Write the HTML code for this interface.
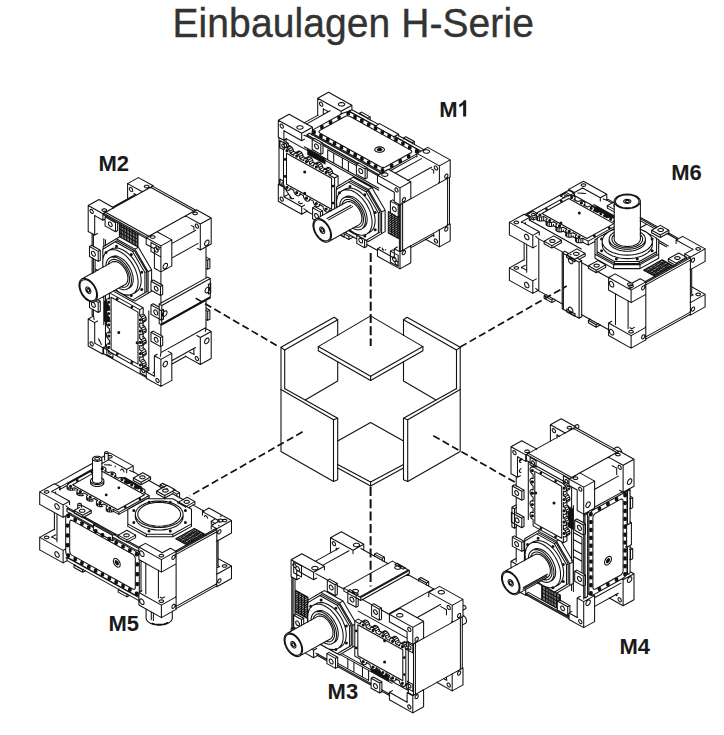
<!DOCTYPE html>
<html><head><meta charset="utf-8">
<style>
html,body{margin:0;padding:0;background:#fff;}
body{width:724px;height:735px;overflow:hidden;position:relative;font-family:"Liberation Sans",sans-serif;}
#t{position:absolute;left:172.5px;top:-1.5px;transform-origin:0 0;transform:scaleY(1.045);-webkit-text-stroke:0.35px #333;letter-spacing:0.08px;font-size:39px;color:#333;white-space:nowrap;line-height:45px;}
svg{position:absolute;left:0;top:0;}
.l{font-family:"Liberation Sans",sans-serif;font-weight:bold;font-size:22px;fill:#1a1a1a;}
</style></head><body>
<div id="t">Einbaulagen H-Serie</div>
<svg width="724" height="735" viewBox="0 0 724 735" fill="none" stroke="#222" stroke-width="1" stroke-linejoin="round" stroke-linecap="round">
<!--LABELS-->
<g stroke="none" fill="#1a1a1a">
<text class="l" transform="translate(439.2,116.6) scale(1,1.04)">M</text>
<path transform="translate(457.5,116.6) scale(0.010742,-0.011172)" d="M806 0H525V1059Q371 915 162 846V1101Q272 1137 401 1237.500Q530 1338 578 1472H806Z"/>
<text class="l" transform="translate(98.5,170.8) scale(1,1.04)">M2</text>
<text class="l" transform="translate(671.2,179.8) scale(1,1.04)">M6</text>
<text class="l" transform="translate(108.5,630.8) scale(1,1.04)">M5</text>
<text class="l" transform="translate(327.6,698.6) scale(1,1.04)">M3</text>
<text class="l" transform="translate(619.5,653.7) scale(1,1.04)">M4</text>
</g>
<!--CUBE-->
<g id="cube" stroke="#111" stroke-width="1.1">
<path d="M281 347.3 L334.2 317.2 L337.7 319.7 L284.7 350.1 L281 347.3"/>
<path d="M460.2 347.3 L407.0 317.2 L403.5 319.7 L456.5 350.1 L460.2 347.3"/>
<path d="M281 347.3 L281 451.5 L333.5 481.4 L337.7 479.8 L337.7 418.3 L285 388.7"/>
<path d="M460.2 347.3 L460.2 451.5 L407.7 481.4 L403.5 479.8 L403.5 418.3 L456.2 388.7"/>
<path d="M284.7 350.1 L284.7 388.7"/>
<path d="M456.5 350.1 L456.5 388.7"/>
<path d="M337.7 319.7 L337.7 335.4"/>
<path d="M403.5 319.7 L403.5 335.4"/>
<path d="M337.7 361.8 L337.7 381.1 L305.2 399.9"/>
<path d="M403.5 361.8 L403.5 381.1 L436.0 399.9"/>
<path d="M281 389.4 L333.5 419.7 L337.7 418.3"/>
<path d="M460.2 389.4 L407.7 419.7 L403.5 418.3"/>
<path d="M333.5 419.7 L333.5 481.4"/>
<path d="M407.7 419.7 L407.7 481.4"/>
<path d="M370.6 422.5 L337.7 441.1"/>
<path d="M370.6 422.5 L403.5 441.1"/>
<path d="M370.6 481.9 L337.7 464.6"/>
<path d="M370.6 481.9 L403.5 464.6"/>
<path d="M370.6 486 L337.7 468"/>
<path d="M370.6 486 L403.5 468"/>
<path d="M370.6 315.9 L318.3 346.6 L370.6 376.3"/>
<path d="M370.6 315.9 L422.9 346.6 L370.6 376.3"/>
<path d="M318.3 346.6 L318.3 350.7 L370.6 380.4"/>
<path d="M422.9 346.6 L422.9 350.7 L370.6 380.4"/>
<path d="M370.6 376.3 L370.6 380.4"/>
<path d="M370.6 481.9 L370.6 486"/>
</g>
<!--DASH-->
<g id="dash" stroke="#111" stroke-linecap="butt">
<path d="M370.7 253 V346" stroke-width="2" stroke-dasharray="9 3.2"/>
<path d="M370.6 487 V586.5" stroke-width="2" stroke-dasharray="9 3.3"/>
<path d="M195.7 298.2 L279.5 347.1" stroke-width="1.7" stroke-dasharray="7.3 3.5"/>
<path d="M460.3 347 L566.7 286.1" stroke-width="1.7" stroke-dasharray="7.3 3.5"/>
<path d="M302.6 431.8 L189.7 496" stroke-width="1.7" stroke-dasharray="7.3 3.5"/>
<path d="M433.3 435.7 L516.1 482.9" stroke-width="1.7" stroke-dasharray="7.3 3.5"/>
</g>
<g id="M1" stroke="#111" stroke-width="1.06">
<path d="M291.7 198.6L286.0 190.3M307.7 211.7L303.8 208.7M377.6 250.5L366.4 244.3M356.8 239.0L345.8 232.9M312.6 214.4L307.7 211.7M402.6 250.4L402.2 250.7M402.6 203.4L402.6 250.4M402.1 202.5L402.6 203.4M307.7 136.7L312.8 139.5M322.6 145.0L357.2 164.2M366.9 169.6L377.6 175.5M303.9 135.3L307.7 136.7M349.0 110.3L350.4 110.8M447.3 177.7L447.6 178.4L447.6 225.4L447.2 225.7M306.3 124.1L330.1 110.8M304.1 122.9L318.1 115.1M307.7 136.7L308.2 136.4M311.5 134.6L312.3 134.1M395.1 173.3L421.5 158.6M431.5 167.2L407.7 180.4M447.6 178.4L402.6 203.4M447.6 225.4L402.6 250.4M431.5 236.2L410.6 247.9M283.9 140.3L278.3 137.2M283.9 130.8L283.9 140.3M301.7 140.7L283.9 130.8M301.7 133.2L301.7 140.7M278.3 120.2L301.7 133.2M278.3 120.2L278.3 137.2M289.1 114.2L312.5 127.2M312.5 130.9L312.5 127.2M301.7 133.2L312.5 127.2M278.3 120.2L289.1 114.2M304.6 139.1L301.7 140.7M284.4 130.6L283.9 130.8M286.8 138.7L283.9 140.3M301.7 214.2L278.3 201.2M301.7 206.7L301.7 214.2M283.9 196.8L301.7 206.7M283.9 187.3L283.9 196.8M278.3 184.2L283.9 187.3M278.3 184.2L278.3 201.2M283.9 187.3L284.6 187.0M278.3 184.2L279.4 183.6M288.8 194.1L283.9 196.8M304.6 205.1L301.7 206.7M307.4 211.0L301.7 214.2M317.9 115.4L317.7 115.3M323.3 108.9L323.3 113.7M328.4 111.7L323.3 108.9M341.1 111.3L341.1 114.3M317.7 98.3L341.1 111.3M317.7 98.3L317.7 115.3M328.5 92.3L351.9 105.3M351.9 109.8L351.9 105.3M341.1 111.3L351.9 105.3M317.7 98.3L328.5 92.3M323.6 108.8L323.3 108.9M377.5 175.3L400.0 187.9M377.5 182.8L377.5 175.3M394.3 192.2L377.5 182.8M394.3 201.7L394.3 192.2M400.0 204.9L394.3 201.7M400.0 204.9L400.0 187.9M388.3 169.3L410.8 181.8L410.8 198.8M400.0 204.9L410.8 198.8M388.3 169.3L377.5 175.3M410.8 181.8L400.0 187.9M394.3 248.7L400.0 251.9M394.3 258.2L394.3 248.7M377.5 248.8L394.3 258.2M377.5 256.3L377.5 248.8M400.0 268.9L377.5 256.3M400.0 268.9L400.0 251.9M410.3 245.6L410.8 245.8L410.8 262.8M400.0 268.9L410.8 262.8M380.3 247.2L377.5 248.8M394.6 258.1L394.3 258.2M397.4 247.0L394.3 248.7M410.8 245.8L400.0 251.9M416.9 153.4L439.4 165.9M416.9 156.9L416.9 153.4M433.7 170.3L431.6 169.1M433.7 173.1L433.7 170.3M439.4 182.9L438.7 182.6M439.4 182.9L439.4 165.9M427.7 147.4L450.2 159.9L450.2 176.9M439.4 182.9L450.2 176.9M427.7 147.4L416.9 153.4M450.2 159.9L439.4 165.9M438.9 229.7L439.4 229.9M433.7 236.3L433.7 234.1M432.0 235.3L433.7 236.3M439.4 246.9L425.6 239.3M439.4 246.9L439.4 229.9M449.3 223.4L450.2 223.9L450.2 240.9M439.4 246.9L450.2 240.9M434.2 236.1L433.7 236.3M450.2 223.9L439.4 229.9M380.3 172.9L381.9 173.2M379.5 172.6L380.3 172.9M312.7 135.3L312.1 134.3M416.9 155.9L390.3 170.7M418.0 153.1L418.6 152.1L418.6 151.0L418.0 150.0L416.9 149.1L394.8 136.8M375.5 126.1L351.9 113.0L350.4 112.4M348.5 112.1L350.4 112.4M348.5 112.1L346.6 112.1L344.8 112.4L343.2 113.0L313.8 129.4L312.7 130.2L312.1 131.3L312.1 132.3M312.7 133.3L312.1 132.3M312.7 133.3L313.8 134.2L378.8 170.3L380.3 170.9L382.1 171.3L384.0 171.3L385.9 170.9L386.4 170.7M416.9 153.9L388.5 169.7M418.6 152.6L418.6 152.1M312.1 132.3L312.1 134.3M306.9 136.2L312.8 139.5M322.7 145.0L357.1 164.1M366.9 169.6L377.7 175.6M306.9 134.7L314.1 138.7M320.7 142.4L321.3 142.7M322.7 143.5L358.6 163.5M364.3 166.6L365.0 167.0M366.7 168.0L378.8 174.7L381.4 173.2L309.5 133.3M306.9 134.7L309.5 133.3M378.8 174.9L378.8 174.7M306.9 136.2L306.9 134.7M381.4 173.5L381.4 173.2M418.1 150.9L420.1 152.0M349.3 111.1L376.0 126.0M395.6 136.8L421.2 151.1L423.8 149.6L398.4 135.5M378.4 124.4L351.9 109.7M349.3 111.1L351.9 109.7M421.2 151.3L421.2 151.1M349.3 112.4L349.3 111.1M423.8 149.9L423.8 149.6M374.9 126.2L393.9 136.8L398.7 134.2L379.6 123.6M374.9 126.2L379.6 123.6M393.9 138.1L393.9 136.8M374.9 127.7L374.9 126.2M398.7 136.2L398.7 134.2M320.8 154.4L323.0 153.2M312.2 149.5L320.8 154.4M312.2 139.5L320.8 144.4L323.0 143.2L314.3 138.3M312.2 139.5L314.3 138.3M320.8 154.4L320.8 144.4M312.2 149.5L312.2 139.5M323.0 153.2L323.0 143.2M365.1 179.0L367.2 177.8M356.4 174.1L365.1 179.0M356.4 164.1L365.1 169.0L367.2 167.8L358.6 162.9M356.4 164.1L358.6 162.9M365.1 179.0L365.1 169.0M356.4 174.1L356.4 164.1M367.2 177.8L367.2 167.8M368.4 189.5L381.6 212.0M349.8 179.1L368.4 189.5M336.6 187.0L349.8 179.1M336.6 189.5L336.6 187.0M349.8 231.1L349.6 230.9M368.4 241.5L349.8 231.1M381.6 233.6L368.4 241.5M381.6 233.6L381.6 212.0M353.2 177.2L371.9 187.5L385.1 210.1M385.1 231.6L385.1 210.1M385.1 231.6L381.6 233.6M353.2 177.2L349.8 179.1M368.4 189.5L371.9 187.5M385.1 210.1L381.6 212.0M366.1 191.8L378.4 212.9M348.6 182.1L366.1 191.8M336.3 189.5L348.6 182.1M336.3 207.9L336.3 189.5M348.6 230.7L348.4 230.3M366.1 240.4L348.6 230.7M378.4 233.0L366.1 240.4M378.4 233.0L378.4 212.9M350.4 181.1L367.8 190.8L380.1 211.9M380.1 232.1L380.1 211.9M380.1 232.1L378.4 233.0M350.4 181.1L348.6 182.1M366.1 191.8L367.8 190.8M380.1 211.9L378.4 212.9M348.8 189.9L351.6 190.6M346.3 189.7L348.8 189.9M343.9 190.0L346.3 189.7M341.8 191.0L343.9 190.0M340.0 192.4L341.8 191.0M338.5 194.3L340.0 192.4M337.5 196.7L338.5 194.3M337.5 196.7L336.8 199.5M336.6 202.6L336.8 199.5M336.8 205.9L336.6 202.6M337.1 207.4L336.8 205.9M351.6 231.1L349.6 229.5M354.3 232.9L351.6 231.1M357.1 234.2L354.3 232.9M359.8 235.0L357.1 234.2M362.4 235.2L359.8 235.0M364.8 234.8L362.4 235.2M364.8 234.8L366.9 233.9M368.7 232.5L366.9 233.9M370.2 230.5L368.7 232.5M371.2 228.2L370.2 230.5M371.9 225.4L371.2 228.2M372.1 222.3L371.9 225.4M371.9 219.0L372.1 222.3M371.2 215.5L371.9 219.0M371.2 215.5L370.2 211.9M368.7 208.4L370.2 211.9M366.9 204.9L368.7 208.4M364.8 201.7L366.9 204.9M362.4 198.7L364.8 201.7M359.8 196.0L362.4 198.7M357.1 193.7L359.8 196.0M354.3 191.9L357.1 193.7M354.3 191.9L351.6 190.6M357.4 190.2L360.1 192.0L362.9 194.3L365.4 197.0L367.8 200.0L369.9 203.2L371.7 206.7L373.2 210.2M374.2 213.8L373.2 210.2M374.2 213.8L374.9 217.3L375.1 220.6L374.9 223.7L374.2 226.5L373.2 228.9L371.7 230.8L369.9 232.2M344.8 189.3L346.9 188.4L349.3 188.0L351.9 188.2L354.6 189.0M357.4 190.2L354.6 189.0M369.9 232.2L366.9 233.9M344.8 189.3L341.8 191.0M348.6 197.1L350.6 197.7M346.8 197.0L348.6 197.1M345.1 197.2L346.8 197.0M343.5 197.9L345.1 197.2M342.2 198.9L343.5 197.9M341.2 200.3L342.2 198.9M340.4 202.0L341.2 200.3M340.4 202.0L339.9 204.0M339.8 206.0L339.9 204.0M352.6 228.2L352.4 228.1M354.6 229.1L352.6 228.2M356.6 229.7L354.6 229.1M358.4 229.8L356.6 229.7M360.1 229.6L358.4 229.8M360.1 229.6L361.7 228.9M363.0 227.9L361.7 228.9M364.0 226.5L363.0 227.9M364.8 224.7L364.0 226.5M365.3 222.8L364.8 224.7M365.4 220.5L365.3 222.8M365.3 218.1L365.4 220.5M364.8 215.6L365.3 218.1M364.8 215.6L364.0 213.0M363.0 210.5L364.0 213.0M361.7 208.0L363.0 210.5M360.1 205.6L361.7 208.0M358.4 203.4L360.1 205.6M356.6 201.5L358.4 203.4M354.6 199.9L356.6 201.5M352.6 198.6L354.6 199.9M352.6 198.6L350.6 197.7M354.3 197.6L356.3 198.9L358.3 200.6L360.2 202.5L361.9 204.6L363.4 207.0L364.7 209.5L365.8 212.1M366.5 214.6L365.8 212.1M366.5 214.6L367.0 217.2L367.2 219.6L367.0 221.8L366.5 223.8L365.8 225.5L364.7 226.9L363.4 227.9M345.3 196.9L346.8 196.3L348.5 196.0L350.4 196.2L352.3 196.7M354.3 197.6L352.3 196.7M363.4 227.9L361.7 228.9M345.3 196.9L343.5 197.9M319.3 218.5L320.8 218.9M318.0 218.4L319.3 218.5M316.8 218.6L318.0 218.4M315.7 219.1L316.8 218.6M314.7 219.8L315.7 219.1M313.9 220.9L314.7 219.8M313.4 222.1L313.9 220.9M313.4 222.1L313.1 223.5M312.9 225.1L313.1 223.5M313.1 226.9L312.9 225.1M313.4 228.7L313.1 226.9M313.9 230.6L313.4 228.7M314.7 232.4L313.9 230.6M315.7 234.2L314.7 232.4M316.8 235.9L315.7 234.2M316.8 235.9L318.0 237.5M319.3 238.9L318.0 237.5M320.8 240.1L319.3 238.9M322.2 241.0L320.8 240.1M323.7 241.7L322.2 241.0M325.1 242.1L323.7 241.7M326.4 242.2L325.1 242.1M327.7 242.0L326.4 242.2M327.7 242.0L328.8 241.5M329.7 240.8L328.8 241.5M330.5 239.7L329.7 240.8M331.0 238.5L330.5 239.7M331.4 237.1L331.0 238.5M331.5 235.5L331.4 237.1M331.4 233.7L331.5 235.5M331.0 231.9L331.4 233.7M331.0 231.9L330.5 230.0M329.7 228.2L330.5 230.0M328.8 226.4L329.7 228.2M327.7 224.7L328.8 226.4M326.4 223.1L327.7 224.7M325.1 221.7L326.4 223.1M323.7 220.5L325.1 221.7M322.2 219.6L323.7 220.5M322.2 219.6L320.8 218.9M352.6 202.7L354.1 203.6L355.5 204.8L356.8 206.2L358.0 207.8L359.2 209.5L360.1 211.3L360.9 213.1M361.4 215.0L360.9 213.1M361.4 215.0L361.8 216.8L361.9 218.5L361.8 220.2L361.4 221.6L360.9 222.8L360.1 223.9L359.2 224.6M346.1 202.2L347.2 201.7L348.4 201.5L349.7 201.6L351.2 202.0M352.6 202.7L351.2 202.0M359.2 224.6L328.8 241.5M346.1 202.2L315.7 219.1M283.8 184.7L283.5 184.6M283.8 184.7L283.8 184.7M284.3 186.8L283.8 184.7M284.3 186.8L285.4 188.7M287.0 190.1L285.4 188.7M288.5 190.5L287.0 190.1M289.7 189.8L288.5 190.5M290.1 188.2L289.7 189.8M293.6 190.2L290.1 188.2M293.6 190.2L293.6 190.2M294.0 192.2L293.6 190.2M294.0 192.2L295.2 194.2M296.7 195.5L295.2 194.2M298.3 195.9L296.7 195.5M299.4 195.2L298.3 195.9M299.9 193.7L299.4 195.2M303.4 195.6L299.9 193.7M303.4 195.6L303.4 195.6M303.8 197.7L303.4 195.6M303.8 197.7L305.0 199.6M306.5 201.0L305.0 199.6M308.1 201.3L306.5 201.0M309.2 200.7L308.1 201.3M309.6 199.1L309.2 200.7M313.2 201.1L309.6 199.1M313.2 201.1L313.2 201.1M313.6 203.1L313.2 201.1M313.6 203.1L314.8 205.1M316.3 206.4L314.8 205.1M317.9 206.8L316.3 206.4M319.0 206.1L317.9 206.8M319.4 204.5L319.0 206.1M323.0 206.5L319.4 204.5M323.0 206.5L323.0 206.5M323.4 208.5L323.0 206.5M323.4 208.5L324.5 210.5M326.1 211.8L324.5 210.5M327.7 212.2L326.1 211.8M328.8 211.5L327.7 212.2M329.2 210.0L328.8 211.5M331.0 211.0L329.2 210.0M334.6 178.0L334.6 209.0M329.2 175.0L334.6 178.0M329.2 175.0L328.8 172.9M327.7 171.0L328.8 172.9M326.1 169.6L327.7 171.0M324.5 169.3L326.1 169.6M323.4 169.9L324.5 169.3M323.0 171.5L323.4 169.9M323.0 171.5L323.0 171.5M319.4 169.5L323.0 171.5M319.4 169.5L319.0 167.5M317.9 165.5L319.0 167.5M316.3 164.2L317.9 165.5M314.8 163.8L316.3 164.2M313.6 164.5L314.8 163.8M313.2 166.1L313.6 164.5M313.2 166.1L313.2 166.1M309.6 164.1L313.2 166.1M309.6 164.1L309.2 162.1M308.1 160.1L309.2 162.1M306.5 158.8L308.1 160.1M305.0 158.4L306.5 158.8M303.8 159.1L305.0 158.4M303.4 160.6L303.8 159.1M303.4 160.6L303.4 160.6M299.9 158.7L303.4 160.6M299.9 158.7L299.4 156.6M298.3 154.7L299.4 156.6M296.7 153.3L298.3 154.7M295.2 152.9L296.7 153.3M294.0 153.6L295.2 152.9M293.6 155.2L294.0 153.6M293.6 155.2L293.6 155.2M290.1 153.2L293.6 155.2M290.1 153.2L289.7 151.2M288.5 149.2L289.7 151.2M287.0 147.9L288.5 149.2M285.4 147.5L287.0 147.9M284.3 148.2L285.4 147.5M283.8 149.7L284.3 148.2M283.8 149.7L283.8 149.7M283.5 149.6L283.8 149.7M283.5 149.6L283.5 184.6M288.9 145.6L290.4 146.0L292.0 147.3L293.1 149.3L293.5 151.3L296.0 152.6M298.7 151.0L300.2 151.4L301.8 152.7L302.9 154.7L303.3 156.7L306.0 158.2M308.4 156.4L310.0 156.8L311.6 158.2L312.7 160.1L313.1 162.2L315.6 163.5M318.2 161.9L319.8 162.3L321.3 163.6L322.5 165.6L322.9 167.6L325.3 169.0M328.0 167.3L329.6 167.7L331.1 169.1L332.3 171.0L332.7 173.0L338.1 176.0L338.1 186.3M283.8 149.7L284.1 149.6M283.5 149.6L284.2 149.2M288.9 145.6L285.4 147.5M290.4 146.0L287.0 147.9M292.0 147.3L288.5 149.2M293.1 149.3L289.7 151.2M290.1 153.2L293.5 151.3M293.6 155.2L294.1 154.9M298.7 151.0L295.2 152.9M300.2 151.4L296.7 153.3M301.8 152.7L298.3 154.7M302.9 154.7L299.4 156.6M299.9 158.7L303.3 156.7M303.4 160.6L303.9 160.4M308.4 156.4L305.0 158.4M310.0 156.8L306.5 158.8M311.6 158.2L308.1 160.1M312.7 160.1L309.2 162.1M309.6 164.1L313.1 162.2M313.2 166.1L313.7 165.8M318.2 161.9L314.8 163.8M319.8 162.3L316.3 164.2M321.3 163.6L317.9 165.5M322.5 165.6L319.0 167.5M319.4 169.5L322.9 167.6M323.0 171.5L323.4 171.3M328.0 167.3L324.5 169.3M329.6 167.7L326.1 169.6M331.1 169.1L327.7 171.0M332.3 171.0L328.8 172.9M329.2 175.0L332.7 173.0M334.6 178.0L338.1 176.0M329.2 210.0L329.7 209.7M330.7 210.5L328.8 211.5M319.4 204.5L319.9 204.3M319.5 205.8L319.0 206.1M309.6 199.1L310.1 198.8M309.7 200.4L309.2 200.7M299.9 193.7L300.3 193.4M299.9 195.0L299.4 195.2M290.1 188.2L290.3 188.1M290.1 189.5L289.7 189.8M280.0 147.7L283.6 149.7M280.0 140.7L286.5 144.3L288.3 143.3L285.6 141.9M280.0 140.7L280.3 140.6M286.5 147.1L286.5 144.3M280.0 147.7L280.0 140.7M288.3 146.1L288.3 143.3M286.5 189.8L286.8 189.7M284.3 188.6L286.5 189.8M280.0 179.2L283.6 181.2M280.0 179.2L280.3 179.1M286.5 189.8L286.5 189.3M280.0 184.7L280.0 179.2M312.6 218.8L314.8 220.0M312.6 207.8L320.4 212.1L322.6 210.9L314.8 206.6M312.6 207.8L314.8 206.6M320.4 216.6L320.4 212.1M312.6 218.8L312.6 207.8M322.6 215.4L322.6 210.9M364.6 247.7L366.8 246.5M356.8 243.4L364.6 247.7L364.6 239.5M356.8 243.4L356.8 235.1M366.8 246.5L366.8 240.3M390.4 262.1L391.8 262.8M392.2 263.1L398.2 266.4M390.4 251.1L391.8 251.8M392.2 252.1L398.2 255.4M394.4 250.9L392.6 249.9M390.4 251.1L392.6 249.9M398.2 266.4L398.2 255.4M390.4 262.1L390.4 251.1M398.2 217.4L399.4 216.7M390.4 213.1L398.2 217.4M390.4 201.1L398.2 205.4L399.4 204.7M394.4 200.9L392.6 199.9M390.4 201.1L392.6 199.9M398.2 217.4L398.2 205.4M390.4 213.1L390.4 201.1M284.2 186.7L284.4 186.6M279.0 183.8L284.2 186.7M284.2 139.7L286.1 138.6M284.2 186.7L284.2 185.7M284.2 149.5L284.2 139.7M279.0 183.8L279.0 137.3M286.1 142.6L286.1 138.6M400.7 251.5L402.6 250.4M399.4 250.7L400.7 251.5M400.4 204.3L400.7 204.5L402.6 203.4L402.1 203.1M400.7 251.5L400.7 204.5M399.4 250.7L399.4 204.5M402.6 250.4L402.6 203.4M348.9 239.5L353.7 236.8M341.0 235.1L342.3 235.8M342.7 236.1L348.9 239.5M343.4 233.4L348.9 236.5L351.1 235.3M348.9 239.5L348.9 236.5M344.1 237.3L344.8 236.9M340.1 235.1L344.1 237.3L344.1 232.6M346.3 233.4L346.3 231.4M359.4 113.3L368.0 118.1L370.2 116.9L361.5 112.1M359.4 113.3L361.5 112.1M368.0 119.1L368.0 118.1M359.4 114.1L359.4 113.3M370.2 120.2L370.2 116.9M403.6 137.9L412.3 142.7L414.4 141.5L405.8 136.7M403.6 137.9L405.8 136.7M412.3 143.7L412.3 142.7M403.6 138.9L403.6 137.9M414.4 144.5L414.4 141.5M447.6 225.4L449.5 224.3M447.1 225.1L447.6 225.4M447.1 178.1L447.6 178.4L449.5 177.3L449.2 177.2M447.6 225.4L447.6 178.4M449.5 224.3L449.5 177.3M281.8 124.2L282.4 124.7L282.9 125.4L283.3 126.2L283.4 127.0L283.3 127.7L282.9 128.1L282.4 128.2L281.8 128.0L281.1 127.5L280.6 126.8L280.2 126.0L280.1 125.2L280.2 124.6L280.6 124.1L281.1 124.0L281.8 124.2M321.2 102.3L321.8 102.8L322.3 103.5L322.7 104.3L322.8 105.1L322.7 105.8L322.3 106.2L321.8 106.3L321.2 106.1L320.5 105.6L320.0 104.9L319.6 104.1L319.5 103.3L319.6 102.6L320.0 102.2L320.5 102.1L321.2 102.3M281.8 197.2L282.4 197.7L282.9 198.4L283.3 199.2L283.4 200.0L283.3 200.7L282.9 201.1L282.4 201.2L281.8 201.0L281.1 200.5L280.6 199.8L280.2 199.0L280.1 198.2L280.2 197.6L280.6 197.1L281.1 197.0L281.8 197.2M302.2 128.7L303.0 128.0L303.1 127.2L302.6 126.5L301.6 125.9L300.3 125.7L298.9 125.8L297.7 126.2L296.9 126.8L296.8 127.6L297.3 128.4L298.3 128.9L299.6 129.2L301.0 129.1L302.2 128.7M343.8 105.6L344.5 104.9L344.7 104.1L344.2 103.4L343.2 102.8L341.9 102.6L340.5 102.6L339.3 103.1L338.5 103.7L338.4 104.5L338.8 105.3L339.8 105.8L341.2 106.1L342.6 106.0L343.8 105.6M396.5 188.0L397.1 188.5L397.7 189.2L398.0 190.0L398.2 190.8L398.0 191.5L397.7 191.9L397.1 192.0L396.5 191.8L395.9 191.3L395.3 190.6L395.0 189.8L394.9 189.0L395.0 188.4L395.3 187.9L395.9 187.8L396.5 188.0M435.9 166.1L436.5 166.6L437.1 167.3L437.4 168.1L437.6 168.9L437.4 169.6L437.1 170.0L436.5 170.1L435.9 169.9L435.3 169.4L434.7 168.7L434.4 167.9L434.3 167.1L434.4 166.4L434.7 166.0L435.3 165.9L435.9 166.1M396.5 261.0L397.1 261.5L397.7 262.2L398.0 263.0L398.2 263.8L398.0 264.5L397.7 264.9L397.1 265.0L396.5 264.8L395.9 264.3L395.3 263.6L395.0 262.8L394.9 262.0L395.0 261.4L395.3 260.9L395.9 260.8L396.5 261.0M435.9 239.1L436.5 239.6L437.1 240.3L437.4 241.1L437.6 241.9L437.4 242.6L437.1 243.0L436.5 243.1L435.9 242.9L435.3 242.4L434.7 241.7L434.4 240.9L434.3 240.1L434.4 239.4L434.7 239.0L435.3 238.9L435.9 239.1M387.1 175.9L387.8 175.2L388.0 174.4L387.5 173.7L386.5 173.1L385.2 172.8L383.8 172.9L382.6 173.4L381.8 174.0L381.7 174.8L382.1 175.6L383.1 176.1L384.5 176.4L385.9 176.3L387.1 175.9M428.6 152.7L429.4 152.1L429.6 151.3L429.1 150.6L428.1 150.0L426.7 149.7L425.3 149.8L424.1 150.2L423.4 150.9L423.2 151.7L423.7 152.4L424.7 153.0L426.0 153.3L427.4 153.2L428.6 152.7M405.5 198.8L405.4 198.1L405.0 197.7L404.5 197.6L403.9 197.8L403.2 198.3L402.7 199.0L402.3 199.8L402.2 200.6L402.3 201.3L402.7 201.7L403.2 201.8L403.9 201.6L404.5 201.1L405.0 200.4L405.4 199.6L405.5 198.8M405.5 251.8L405.4 251.1L405.0 250.7L404.5 250.6L403.9 250.8L403.2 251.3L402.7 252.0L402.3 252.8L402.2 253.6L402.3 254.3L402.7 254.7L403.2 254.8L403.9 254.6L404.5 254.1L405.0 253.4L405.4 252.6L405.5 251.8M447.9 175.2L447.8 174.5L447.5 174.1L446.9 174.0L446.3 174.2L445.7 174.7L445.1 175.4L444.8 176.2L444.7 177.0L444.8 177.7L445.1 178.1L445.7 178.2L446.3 178.0L446.9 177.5L447.5 176.8L447.8 176.0L447.9 175.2M447.9 228.2L447.8 227.5L447.5 227.1L446.9 227.0L446.3 227.2L445.7 227.7L445.1 228.4L444.8 229.2L444.7 230.0L444.8 230.7L445.1 231.1L445.7 231.2L446.3 231.0L446.9 230.5L447.5 229.8L447.8 229.0L447.9 228.2M290.6 196.7L290.0 197.2L290.0 197.9L290.6 198.4L291.6 198.7L292.7 198.7L293.7 198.4M299.3 201.5L298.7 202.0L298.7 202.7L299.3 203.2L300.2 203.6L301.4 203.6L302.4 203.2M382.6 248.1L382.3 248.5L382.3 249.1L382.8 249.7M383.3 249.9L383.6 249.9M385.2 249.9L385.9 249.7M410.6 153.0L411.3 152.5L411.7 151.9L411.7 151.2L411.3 150.6L410.6 150.1L350.2 116.5L349.2 116.1L348.2 115.9L347.0 115.9L345.9 116.1L345.0 116.5L320.0 130.3L319.4 130.9L319.0 131.5L319.0 132.1L319.4 132.7L320.0 133.2L380.5 166.8L381.4 167.2L382.5 167.4L383.7 167.4L384.8 167.2L385.7 166.8L410.6 153.0M383.1 151.5L384.1 150.7L384.5 149.6L384.1 148.6L383.1 147.7L381.5 147.1L379.6 146.9L377.7 147.1L376.2 147.7L375.1 148.6L374.7 149.6L375.1 150.7L376.2 151.5L377.7 152.1L379.6 152.3L381.5 152.1L383.1 151.5M316.5 144.2L317.3 144.8L317.9 145.6L318.3 146.6L318.5 147.6L318.3 148.4L317.9 148.9L317.3 149.0L316.5 148.8L315.7 148.2L315.1 147.3L314.7 146.3L314.5 145.3L314.7 144.5L315.1 144.0L315.7 143.9L316.5 144.2M360.7 168.8L361.5 169.4L362.2 170.2L362.6 171.2L362.7 172.2L362.6 173.0L362.2 173.5L361.5 173.6L360.7 173.4L360.0 172.8L359.3 171.9L358.9 170.9L358.8 169.9L358.9 169.2L359.3 168.6L360.0 168.5L360.7 168.8M352.6 200.8L354.5 202.0L356.3 203.6L358.1 205.5L359.6 207.6L361.0 209.9L362.1 212.4L362.9 214.8L363.3 217.2L363.5 219.5L363.3 221.6L362.9 223.4L362.1 225.0L361.0 226.1L359.6 226.9L358.1 227.3L356.3 227.3L354.8 226.9M341.9 205.0L342.3 203.4L343.2 201.8L344.2 200.7L345.6 199.8L347.1 199.5L348.9 199.5L350.7 199.9L352.6 200.8M322.2 220.7L323.8 221.8L325.4 223.2L326.8 224.9L328.1 226.8L329.1 228.8L329.9 230.9L330.4 233.0L330.5 234.9L330.4 236.7L329.9 238.2L329.1 239.5L328.1 240.4L326.8 240.8L325.4 240.9L323.8 240.6L322.2 239.9L320.6 238.8L319.0 237.4L317.6 235.7L316.3 233.8L315.3 231.8L314.5 229.7L314.1 227.6L313.9 225.7L314.1 223.9L314.5 222.4L315.3 221.1L316.3 220.2L317.6 219.7L319.0 219.7L320.6 220.0L322.2 220.7M322.2 227.3L323.3 228.2L324.2 229.6L324.7 231.0L324.7 232.4L324.2 233.3L323.3 233.6L322.2 233.3L321.1 232.4L320.2 231.0L319.7 229.6L319.7 228.2L320.2 227.3L321.1 227.0L322.2 227.3M322.2 228.7L323.0 229.5L323.5 230.5L323.5 231.5L323.0 232.0L322.2 231.9L321.4 231.1L320.9 230.1L320.9 229.1L321.4 228.6L322.2 228.7M327.0 218.5L350.9 205.2M328.7 219.9L352.6 206.6M388.3 233.0L399.3 239.1M399.3 217.6L398.4 217.1M394.7 215.0L394.2 214.8M392.5 213.8L392.0 213.5M390.7 212.8L388.3 211.5L388.3 233.0M391.7 234.4L391.7 213.9M394.8 236.1L394.8 215.6M397.8 237.8L397.8 217.3M286.5 184.2L331.6 209.3L331.6 178.3L286.5 153.2L286.5 184.2M286.5 138.9L378.8 190.2M304.3 146.8L378.8 188.2M327.7 159.8L327.7 149.8M333.7 163.1L333.7 153.1M342.4 167.9L342.4 157.9M348.4 171.3L348.4 161.3M327.7 149.8L356.7 165.9M283.2 144.3L283.8 144.7L284.3 145.4L284.6 146.1L284.7 146.8L284.6 147.4L284.3 147.8L283.8 147.9L283.2 147.7L282.7 147.2L282.2 146.6L281.9 145.9L281.8 145.2L281.9 144.6L282.2 144.2L282.7 144.1L283.2 144.3M283.2 182.8L283.5 183.0M284.3 186.3L283.8 186.4L283.2 186.2L282.7 185.7L282.2 185.1L281.9 184.4L281.8 183.7L281.9 183.1L282.2 182.7L282.7 182.6L283.2 182.8M316.5 213.8L317.2 214.3L317.8 215.1L318.3 216.1L318.4 217.0L318.3 217.8M317.5 218.3L317.2 218.4L316.5 218.2L315.8 217.6L315.1 216.8L314.7 215.8L314.6 214.9L314.7 214.1L315.1 213.6L315.8 213.5L316.5 213.8M360.7 238.4L361.5 238.9L362.1 239.8L362.5 240.7L362.6 241.6L362.5 242.4L362.1 242.9L361.5 243.0L360.7 242.8L360.0 242.2L359.4 241.4L359.0 240.4L358.8 239.5L359.0 238.7L359.4 238.3L360.0 238.1L360.7 238.4M394.3 257.0L395.1 257.6L395.7 258.4L396.1 259.4L396.2 260.3L396.1 261.1L395.7 261.5L395.1 261.7L394.3 261.4L393.6 260.9L393.0 260.0L392.6 259.1L392.4 258.2L392.6 257.4L393.0 256.9L393.6 256.8L394.3 257.0M394.3 207.0L395.1 207.6L395.7 208.4L396.1 209.4L396.2 210.3L396.1 211.1L395.7 211.5L395.1 211.7L394.3 211.4L393.6 210.9L393.0 210.0L392.6 209.1L392.4 208.2L392.6 207.4L393.0 206.9L393.6 206.8L394.3 207.0"/>
<path stroke-width="1.15" d="M388.7 232.4L399.3 238.3M388.7 230.6L399.3 236.5M388.7 228.8L399.3 234.7M388.7 227.0L399.3 232.9M388.7 225.2L399.3 231.1M388.7 223.4L399.3 229.3M388.7 221.6L399.3 227.5M388.7 219.8L399.3 225.7M388.7 218.0L399.3 223.9M388.7 216.2L399.3 222.1M388.7 214.4L399.3 220.3M388.7 212.6L399.3 218.5"/>
<path stroke-width="1.3" d="M307.7 154.2L325.1 163.8M307.7 153.0L325.1 162.7M307.7 151.9L325.1 161.5M307.7 150.7L325.1 160.4M307.7 149.6L325.1 159.2"/>
<path fill="#111" stroke="none" d="M381.7 150.8L382.5 150.0L382.5 149.2L381.7 148.5L380.4 148.0L378.9 148.0L377.5 148.5L376.8 149.2L376.8 150.0L377.5 150.8L378.9 151.2L380.4 151.2Z"/>
<path fill="#111" stroke="none" d="M312.3 132.1a1.8 1.8 0 1 0 3.5 0a1.8 1.8 0 1 0 -3.5 0ZM346.4 113.2a1.8 1.8 0 1 0 3.5 0a1.8 1.8 0 1 0 -3.5 0ZM319.2 135.9a1.8 1.8 0 1 0 3.5 0a1.8 1.8 0 1 0 -3.5 0ZM353.3 117.0a1.8 1.8 0 1 0 3.5 0a1.8 1.8 0 1 0 -3.5 0ZM326.0 139.7a1.8 1.8 0 1 0 3.5 0a1.8 1.8 0 1 0 -3.5 0ZM360.1 120.8a1.8 1.8 0 1 0 3.5 0a1.8 1.8 0 1 0 -3.5 0ZM332.8 143.5a1.8 1.8 0 1 0 3.5 0a1.8 1.8 0 1 0 -3.5 0ZM367.0 124.6a1.8 1.8 0 1 0 3.5 0a1.8 1.8 0 1 0 -3.5 0ZM339.7 147.3a1.8 1.8 0 1 0 3.5 0a1.8 1.8 0 1 0 -3.5 0ZM373.8 128.4a1.8 1.8 0 1 0 3.5 0a1.8 1.8 0 1 0 -3.5 0ZM346.5 151.1a1.8 1.8 0 1 0 3.5 0a1.8 1.8 0 1 0 -3.5 0ZM380.6 132.2a1.8 1.8 0 1 0 3.5 0a1.8 1.8 0 1 0 -3.5 0ZM353.4 155.0a1.8 1.8 0 1 0 3.5 0a1.8 1.8 0 1 0 -3.5 0ZM387.5 136.0a1.8 1.8 0 1 0 3.5 0a1.8 1.8 0 1 0 -3.5 0ZM360.2 158.8a1.8 1.8 0 1 0 3.5 0a1.8 1.8 0 1 0 -3.5 0ZM394.3 139.8a1.8 1.8 0 1 0 3.5 0a1.8 1.8 0 1 0 -3.5 0ZM367.0 162.6a1.8 1.8 0 1 0 3.5 0a1.8 1.8 0 1 0 -3.5 0ZM401.2 143.6a1.8 1.8 0 1 0 3.5 0a1.8 1.8 0 1 0 -3.5 0ZM373.9 166.4a1.8 1.8 0 1 0 3.5 0a1.8 1.8 0 1 0 -3.5 0ZM408.0 147.4a1.8 1.8 0 1 0 3.5 0a1.8 1.8 0 1 0 -3.5 0ZM380.7 170.2a1.8 1.8 0 1 0 3.5 0a1.8 1.8 0 1 0 -3.5 0ZM414.9 151.2a1.8 1.8 0 1 0 3.5 0a1.8 1.8 0 1 0 -3.5 0ZM320.2 127.1a1.8 1.8 0 1 0 3.5 0a1.8 1.8 0 1 0 -3.5 0ZM389.9 165.8a1.8 1.8 0 1 0 3.5 0a1.8 1.8 0 1 0 -3.5 0ZM328.8 122.3a1.8 1.8 0 1 0 3.5 0a1.8 1.8 0 1 0 -3.5 0ZM398.4 161.0a1.8 1.8 0 1 0 3.5 0a1.8 1.8 0 1 0 -3.5 0ZM337.3 117.6a1.8 1.8 0 1 0 3.5 0a1.8 1.8 0 1 0 -3.5 0ZM406.9 156.3a1.8 1.8 0 1 0 3.5 0a1.8 1.8 0 1 0 -3.5 0ZM373.7 212.6a1.5 1.5 0 1 0 3.0 0a1.5 1.5 0 1 0 -3.0 0ZM363.3 194.8a1.5 1.5 0 1 0 3.0 0a1.5 1.5 0 1 0 -3.0 0ZM348.5 186.5a1.5 1.5 0 1 0 3.0 0a1.5 1.5 0 1 0 -3.0 0ZM338.0 192.8a1.5 1.5 0 1 0 3.0 0a1.5 1.5 0 1 0 -3.0 0ZM363.3 236.0a1.5 1.5 0 1 0 3.0 0a1.5 1.5 0 1 0 -3.0 0ZM373.7 229.7a1.5 1.5 0 1 0 3.0 0a1.5 1.5 0 1 0 -3.0 0ZM285.4 150.7a1.6 1.6 0 1 0 3.2 0a1.6 1.6 0 1 0 -3.2 0ZM285.4 187.3a1.6 1.6 0 1 0 3.2 0a1.6 1.6 0 1 0 -3.2 0ZM295.1 156.1a1.6 1.6 0 1 0 3.2 0a1.6 1.6 0 1 0 -3.2 0ZM295.1 192.7a1.6 1.6 0 1 0 3.2 0a1.6 1.6 0 1 0 -3.2 0ZM304.9 161.6a1.6 1.6 0 1 0 3.2 0a1.6 1.6 0 1 0 -3.2 0ZM304.9 198.2a1.6 1.6 0 1 0 3.2 0a1.6 1.6 0 1 0 -3.2 0ZM314.7 167.0a1.6 1.6 0 1 0 3.2 0a1.6 1.6 0 1 0 -3.2 0ZM314.7 203.6a1.6 1.6 0 1 0 3.2 0a1.6 1.6 0 1 0 -3.2 0ZM324.5 172.4a1.6 1.6 0 1 0 3.2 0a1.6 1.6 0 1 0 -3.2 0ZM324.5 209.0a1.6 1.6 0 1 0 3.2 0a1.6 1.6 0 1 0 -3.2 0ZM283.7 176.4a1.4 1.4 0 1 0 2.8 0a1.4 1.4 0 1 0 -2.8 0ZM331.6 203.1a1.4 1.4 0 1 0 2.8 0a1.4 1.4 0 1 0 -2.8 0ZM283.7 159.4a1.4 1.4 0 1 0 2.8 0a1.4 1.4 0 1 0 -2.8 0ZM331.6 186.1a1.4 1.4 0 1 0 2.8 0a1.4 1.4 0 1 0 -2.8 0ZM303.2 172.1a1.5 1.5 0 1 0 3.0 0a1.5 1.5 0 1 0 -3.0 0ZM303.2 193.3a1.5 1.5 0 1 0 3.0 0a1.5 1.5 0 1 0 -3.0 0Z"/>
</g>
<g id="M2" stroke="#111" stroke-width="1.06">
<path d="M154.6 371.6L153.1 372.9M160.9 352.6L160.3 356.5M160.9 271.6L160.9 284.8M160.9 295.1L160.9 303.3M160.9 324.1L160.9 335.8M160.9 346.1L160.9 352.6M148.8 236.3L149.2 236.9M105.5 212.2L148.8 236.3M105.1 212.4L105.5 212.2M93.4 315.0L93.4 309.5M93.4 273.0L93.4 258.5M93.4 246.8L93.4 234.0M94.1 319.7L93.4 315.0M101.4 344.4L98.6 338.7M150.1 187.4L150.6 187.2L193.9 211.3L194.3 211.9M206.0 246.5L206.0 278.3M206.0 300.0L206.0 327.5L205.3 331.5M133.2 195.7L112.6 207.2M150.6 187.2L105.5 212.2M193.9 211.3L148.8 236.3M195.7 230.3L171.7 243.6M171.7 258.1L198.1 243.4M160.9 352.6L206.0 327.5M171.7 360.7L195.5 347.5M171.6 364.2L186.0 356.2M102.9 347.7L102.9 354.2M94.7 343.1L102.9 347.7M94.7 322.6L94.7 343.1M88.2 319.0L94.7 322.6M88.2 346.0L88.2 319.0M88.2 346.0L102.9 354.2M88.2 319.0L93.7 315.9M97.6 321.0L94.7 322.6M99.6 340.4L99.1 340.7M95.1 342.9L94.7 343.1M105.8 346.1L102.9 347.7M104.0 353.6L102.9 354.2M160.9 359.4L160.9 386.4M154.4 355.8L160.9 359.4M154.4 376.3L154.4 355.8M146.2 371.8L154.4 376.3M146.2 378.3L146.2 371.8M146.2 378.3L160.9 386.4M168.2 351.4L171.8 353.4L171.8 380.4M146.2 371.8L149.3 370.0M154.9 376.1L154.4 376.3M157.3 354.2L154.4 355.8M171.8 353.4L160.9 359.4M171.8 380.4L160.9 386.4M200.3 337.5L200.3 364.5M196.8 335.5L200.3 337.5M193.9 354.4L193.9 348.4M189.8 352.2L193.9 354.4M185.6 356.4L185.6 355.9M185.6 356.4L200.3 364.5M205.6 328.4L211.2 331.5L211.2 358.5M194.3 354.2L193.9 354.4M211.2 331.5L200.3 337.5M211.2 358.5L200.3 364.5M88.2 231.5L88.2 205.5M94.7 235.1L88.2 231.5M94.7 215.6L94.7 235.1M102.9 220.2L94.7 215.6M102.9 213.7L102.9 220.2M102.9 213.7L88.2 205.5M113.7 207.7L113.7 208.2M99.0 199.5L113.7 207.7M102.9 220.2L105.1 219.0M102.9 213.7L113.7 207.7M95.1 215.4L94.7 215.6M97.6 233.5L94.7 235.1M99.0 199.5L88.2 205.5M146.2 244.3L146.2 237.8M154.4 248.8L146.2 244.3M154.4 268.3L154.4 248.8M160.9 271.9L154.4 268.3M160.9 245.9L160.9 271.9M160.9 245.9L146.2 237.8M171.8 239.9L171.8 265.9M157.0 231.7L171.8 239.9M160.9 271.9L171.8 265.9M160.9 245.9L171.8 239.9M157.0 231.7L146.2 237.8M127.6 199.1L127.6 183.6M134.1 193.7L134.1 195.7M136.1 194.8L134.1 193.7M142.3 191.8L142.3 192.0M142.3 191.8L127.6 183.6M153.2 185.8L153.2 186.8M138.4 177.6L153.2 185.8M142.3 191.8L153.2 185.8M134.3 193.6L134.1 193.7M138.4 177.6L127.6 183.6M185.6 216.6L185.6 215.9M193.9 226.9L191.4 225.6M193.9 229.4L193.9 226.9M200.3 250.0L197.4 248.4M200.3 224.0L200.3 250.0M200.3 224.0L185.6 215.9M211.2 218.0L211.2 244.0M196.5 209.8L211.2 218.0M200.3 250.0L211.2 244.0M200.3 224.0L211.2 218.0M196.5 209.8L185.6 215.9M93.4 316.0L93.4 309.5M93.4 272.8L93.4 258.5M93.4 246.8L93.4 234.2M93.4 316.0L93.6 315.9M92.1 315.3L92.1 308.8M92.1 273.5L92.1 257.5M92.1 245.8L92.1 233.3M93.4 316.0L92.1 315.3M100.3 301.3L100.3 311.3M98.2 302.5L100.3 301.3M98.2 312.5L98.2 302.5M98.2 312.5L100.3 311.3M89.5 307.6L89.5 301.1M98.2 302.5L95.3 300.9M98.2 312.5L89.5 307.6M100.3 301.3L97.7 299.8M100.3 250.2L100.3 260.2M98.2 251.4L100.3 250.2M98.2 261.4L98.2 251.4M98.2 261.4L100.3 260.2M89.5 256.5L89.5 246.5L91.7 245.3M98.2 251.4L89.5 246.5M98.2 261.4L89.5 256.5M100.3 250.2L91.7 245.3M103.1 246.7L116.3 238.8M103.1 249.4L103.1 246.7M116.3 290.8L116.2 290.6M134.9 301.1L116.3 290.8M148.1 293.3L134.9 301.1M148.1 271.7L148.1 293.3M134.9 249.1L148.1 271.7M134.9 249.1L116.3 238.8M138.4 247.2L151.6 269.8L151.6 281.1M151.6 290.3L151.6 291.3M138.4 247.2L119.7 236.9M148.1 271.7L151.6 269.8M138.4 247.2L134.9 249.1M148.1 293.3L151.6 291.3M119.7 236.9L116.3 238.8M102.8 249.2L115.2 241.8M102.8 267.5L102.8 249.2M115.2 290.4L115.0 290.2M132.6 300.1L115.2 290.4M144.9 292.7L132.6 300.1M144.9 272.6L144.9 292.7M132.6 251.5L144.9 272.6M132.6 251.5L115.2 241.8M134.3 250.5L146.7 271.6L146.7 291.7M134.3 250.5L116.9 240.8M144.9 272.6L146.7 271.6M134.3 250.5L132.6 251.5M144.9 292.7L146.7 291.7M116.9 240.8L115.2 241.8M103.2 267.3L102.9 265.8M115.9 289.6L117.6 291.1M120.4 292.9L117.6 291.1M123.2 294.2L120.4 292.9M125.9 294.9L123.2 294.2M128.5 295.1L125.9 294.9M130.9 294.8L128.5 295.1M133.0 293.8L130.9 294.8M134.8 292.4L133.0 293.8M134.8 292.4L136.2 290.5M137.3 288.1L136.2 290.5M137.9 285.3L137.3 288.1M138.2 282.2L137.9 285.3M137.9 278.9L138.2 282.2M137.3 275.4L137.9 278.9M136.2 271.9L137.3 275.4M134.8 268.3L136.2 271.9M134.8 268.3L133.0 264.9M130.9 261.6L133.0 264.9M128.5 258.6L130.9 261.6M125.9 255.9L128.5 258.6M123.2 253.7L125.9 255.9M120.4 251.9L123.2 253.7M117.6 250.6L120.4 251.9M114.9 249.8L117.6 250.6M114.9 249.8L112.4 249.6M110.0 250.0L112.4 249.6M107.9 250.9L110.0 250.0M106.1 252.3L107.9 250.9M104.6 254.3L106.1 252.3M103.5 256.6L104.6 254.3M102.9 259.4L103.5 256.6M102.7 262.5L102.9 259.4M102.7 262.5L102.9 265.8M110.9 249.2L113.0 248.3L115.4 247.9M118.0 248.1L115.4 247.9M118.0 248.1L120.7 248.9L123.4 250.2L126.2 252.0L128.9 254.2L131.5 256.9L133.9 259.9L136.0 263.2M137.8 266.6L136.0 263.2M137.8 266.6L139.3 270.2L140.3 273.7L141.0 277.2L141.2 280.6L141.0 283.6L140.3 286.4L139.3 288.8M137.8 290.7L139.3 288.8M137.8 290.7L136.0 292.2M110.9 249.2L107.9 250.9M136.0 292.2L133.0 293.8M120.7 289.1L118.7 288.1M122.6 289.6L120.7 289.1M124.5 289.8L122.6 289.6M126.2 289.5L124.5 289.8M127.7 288.8L126.2 289.5M129.1 287.8L127.7 288.8M129.1 287.8L130.1 286.4M130.9 284.7L130.1 286.4M131.3 282.7L130.9 284.7M131.5 280.5L131.3 282.7M131.3 278.1L131.5 280.5M130.9 275.5L131.3 278.1M130.1 273.0L130.9 275.5M129.1 270.4L130.1 273.0M129.1 270.4L127.7 267.9M126.2 265.5L127.7 267.9M124.5 263.4L126.2 265.5M122.6 261.5L124.5 263.4M120.7 259.8L122.6 261.5M118.7 258.5L120.7 259.8M116.7 257.6L118.7 258.5M114.7 257.1L116.7 257.6M114.7 257.1L112.9 256.9M111.1 257.2L112.9 256.9M109.6 257.8L111.1 257.2M108.3 258.9L109.6 257.8M107.3 260.3L108.3 258.9M106.5 262.0L107.3 260.3M106.0 264.0L106.5 262.0M105.9 265.9L106.0 264.0M111.4 256.9L112.9 256.2L114.6 255.9M116.5 256.1L114.6 255.9M116.5 256.1L118.4 256.6L120.4 257.6L122.4 258.9L124.4 260.5L126.2 262.4L127.9 264.6L129.5 266.9M130.8 269.4L129.5 266.9M130.8 269.4L131.8 272.0L132.6 274.6L133.1 277.1L133.2 279.5L133.1 281.7L132.6 283.7L131.8 285.4M130.8 286.8L131.8 285.4M130.8 286.8L129.5 287.9M111.4 256.9L109.6 257.8M129.5 287.9L127.7 288.8M79.5 288.6L79.1 286.8M80.0 290.5L79.5 288.6M80.8 292.4L80.0 290.5M81.7 294.2L80.8 292.4M82.8 295.9L81.7 294.2M84.1 297.4L82.8 295.9M85.4 298.8L84.1 297.4M85.4 298.8L86.8 300.0M88.3 300.9L86.8 300.0M89.7 301.6L88.3 300.9M91.2 302.0L89.7 301.6M92.5 302.1L91.2 302.0M93.7 301.9L92.5 302.1M94.8 301.4L93.7 301.9M95.8 300.7L94.8 301.4M95.8 300.7L96.5 299.7M97.1 298.4L96.5 299.7M97.4 297.0L97.1 298.4M97.6 295.4L97.4 297.0M97.4 293.6L97.6 295.4M97.1 291.8L97.4 293.6M96.5 290.0L97.1 291.8M95.8 288.1L96.5 290.0M95.8 288.1L94.8 286.3M93.7 284.6L94.8 286.3M92.5 283.0L93.7 284.6M91.2 281.7L92.5 283.0M89.7 280.5L91.2 281.7M88.3 279.5L89.7 280.5M86.8 278.9L88.3 279.5M85.4 278.5L86.8 278.9M85.4 278.5L84.1 278.4M82.8 278.5L84.1 278.4M81.7 279.0L82.8 278.5M80.8 279.8L81.7 279.0M80.0 280.8L80.8 279.8M79.5 282.0L80.0 280.8M79.1 283.5L79.5 282.0M79.0 285.1L79.1 283.5M79.0 285.1L79.1 286.8M112.1 262.1L113.2 261.6L114.5 261.5M115.8 261.6L114.5 261.5M115.8 261.6L117.2 262.0L118.7 262.6L120.1 263.6L121.5 264.7L122.9 266.1L124.1 267.7L125.2 269.4M126.2 271.2L125.2 269.4M126.2 271.2L126.9 273.1L127.5 274.9L127.8 276.7L127.9 278.5L127.8 280.1L127.5 281.5L126.9 282.8M126.2 283.8L126.9 282.8M126.2 283.8L125.2 284.5M112.1 262.1L81.7 279.0M125.2 284.5L94.8 301.4M139.7 368.2L139.7 368.6M139.7 368.2L139.7 368.2M141.3 368.6L139.7 368.2M141.3 368.6L142.4 367.9M142.8 366.3L142.4 367.9M142.4 364.3L142.8 366.3M141.3 362.4L142.4 364.3M139.7 361.0L141.3 362.4M139.7 356.9L139.7 361.0M139.7 356.9L139.7 356.9M141.3 357.3L139.7 356.9M141.3 357.3L142.4 356.6M142.8 355.0L142.4 356.6M142.4 353.0L142.8 355.0M141.3 351.1L142.4 353.0M139.7 349.7L141.3 351.1M139.7 345.6L139.7 349.7M139.7 345.6L139.7 345.6M141.3 346.0L139.7 345.6M141.3 346.0L142.4 345.3M142.8 343.7L142.4 345.3M142.4 341.7L142.8 343.7M141.3 339.8L142.4 341.7M139.7 338.4L141.3 339.8M139.7 334.3L139.7 338.4M139.7 334.3L139.7 334.3M141.3 334.7L139.7 334.3M141.3 334.7L142.4 334.0M142.8 332.4L142.4 334.0M142.4 330.4L142.8 332.4M141.3 328.5L142.4 330.4M139.7 327.1L141.3 328.5M139.7 323.0L139.7 327.1M139.7 323.0L139.7 323.0M141.3 323.4L139.7 323.0M141.3 323.4L142.4 322.7M142.8 321.1L142.4 322.7M142.4 319.1L142.8 321.1M141.3 317.2L142.4 319.1M139.7 315.8L141.3 317.2M139.7 309.6L139.7 315.8M109.6 292.9L139.7 309.6M109.4 299.0L109.4 293.0M109.4 299.0L107.9 298.6M106.7 299.3L107.9 298.6M106.3 300.8L106.7 299.3M106.7 302.9L106.3 300.8M107.9 304.8L106.7 302.9M109.4 306.2L107.9 304.8M109.4 306.2L109.4 306.2M109.4 310.3L109.4 306.2M109.4 310.3L107.9 309.9M106.7 310.6L107.9 309.9M106.3 312.1L106.7 310.6M106.7 314.2L106.3 312.1M107.9 316.1L106.7 314.2M109.4 317.5L107.9 316.1M109.4 317.5L109.4 317.5M109.4 321.6L109.4 317.5M109.4 321.6L107.9 321.2M106.7 321.9L107.9 321.2M106.3 323.4L106.7 321.9M106.7 325.5L106.3 323.4M107.9 327.4L106.7 325.5M109.4 328.8L107.9 327.4M109.4 328.8L109.4 328.8M109.4 332.9L109.4 328.8M109.4 332.9L107.9 332.5M106.7 333.2L107.9 332.5M106.3 334.7L106.7 333.2M106.7 336.8L106.3 334.7M107.9 338.7L106.7 336.8M109.4 340.1L107.9 338.7M109.4 340.1L109.4 340.1M109.4 344.2L109.4 340.1M109.4 344.2L107.9 343.8M106.7 344.5L107.9 343.8M106.3 346.0L106.7 344.5M106.7 348.1L106.3 346.0M107.9 350.0L106.7 348.1M109.4 351.4L107.9 350.0M109.4 351.4L109.4 351.4M109.4 351.8L109.4 351.4M109.4 351.8L139.7 368.6M113.3 291.1L143.2 307.7L143.2 313.9M144.7 315.2L143.2 313.9M144.7 315.2L145.9 317.2L146.3 319.2L145.9 320.8M143.2 322.1L143.2 325.2M144.7 326.5L143.2 325.2M144.7 326.5L145.9 328.5L146.3 330.5L145.9 332.1M143.2 333.4L143.2 336.5M144.7 337.8L143.2 336.5M144.7 337.8L145.9 339.8L146.3 341.8L145.9 343.4M143.2 344.7L143.2 347.8M144.7 349.1L143.2 347.8M144.7 349.1L145.9 351.1L146.3 353.1L145.9 354.7M143.2 355.8L143.2 359.1M144.7 360.4L143.2 359.1M144.7 360.4L145.9 362.4L146.3 364.4L145.9 366.0M109.7 342.7L107.9 343.8M109.4 344.2L109.9 343.9M109.7 331.4L107.9 332.5M109.4 332.9L109.9 332.6M109.7 320.1L107.9 321.2M109.4 321.6L109.9 321.3M109.7 308.8L107.9 309.9M109.4 310.3L109.9 310.0M109.7 297.5L107.9 298.6M109.4 299.0L109.9 298.7M139.7 309.6L143.2 307.7M139.7 315.8L143.2 313.9M144.7 315.2L141.3 317.2M145.9 317.2L142.4 319.1M146.3 319.2L142.8 321.1M145.9 320.8L142.4 322.7M139.7 323.0L140.2 322.8M139.7 327.1L140.2 326.9M142.3 325.7L143.2 325.2M144.7 326.5L142.4 327.8M141.7 328.2L141.3 328.5M145.9 328.5L142.4 330.4M146.3 330.5L142.8 332.4M145.9 332.1L142.4 334.0M139.7 334.3L140.2 334.1M139.7 338.4L140.2 338.2M142.3 337.0L143.2 336.5M144.7 337.8L142.2 339.2M141.7 339.5L141.3 339.8M145.9 339.8L142.4 341.7M146.3 341.8L142.8 343.7M145.9 343.4L142.4 345.3M139.7 345.6L140.2 345.4M139.7 349.7L140.2 349.5M142.0 348.4L143.2 347.8M144.7 349.1L141.3 351.1M145.9 351.1L142.4 353.0M146.3 353.1L142.8 355.0M145.9 354.7L142.4 356.6M139.7 356.9L140.2 356.7M139.7 361.0L140.2 360.8M141.3 360.1L143.2 359.1M144.7 360.4L141.3 362.4M145.9 362.4L142.4 364.3M146.3 364.4L142.8 366.3M145.9 366.0L142.4 367.9M139.7 368.2L140.2 368.0M139.7 368.6L140.2 368.4M112.9 357.8L112.9 353.3M112.9 357.8L113.1 357.6M106.8 354.4L106.8 347.4M112.9 357.8L106.8 354.4M148.0 367.8L148.0 370.6M146.2 368.8L148.0 367.8M146.2 376.3L146.2 368.8M146.2 376.3L146.5 376.2M140.2 372.9L140.2 368.4M146.2 368.8L143.3 367.2M146.2 376.3L140.2 372.9M148.0 367.8L145.0 366.2M162.7 336.4L162.7 345.4M160.5 337.6L162.7 336.4M160.5 346.6L160.5 337.6M160.5 346.6L162.7 345.4M151.0 341.3L151.0 332.3L153.2 331.1M160.5 337.6L151.0 332.3M160.5 346.6L151.0 341.3M162.7 336.4L153.2 331.1M162.7 285.3L162.7 294.3M160.5 286.5L162.7 285.3M160.5 295.5L160.5 286.5M160.5 295.5L162.7 294.3M151.0 290.2L151.0 281.2L153.2 280.0M160.5 286.5L151.0 281.2M160.5 295.5L151.0 290.2M162.7 285.3L153.2 280.0M151.0 251.4L151.0 242.4M160.3 247.6L158.5 246.6M158.1 246.4L153.0 243.5M152.5 243.3L151.0 242.4M160.3 256.6L158.5 255.6M158.1 255.4L153.0 252.5M152.5 252.3L151.0 251.4M117.6 222.5L117.6 230.5M115.5 222.7L116.9 221.9M115.5 231.7L115.5 222.7M115.5 231.7L117.6 230.5M105.1 225.9L105.1 216.9L106.5 216.1M115.5 222.7L105.1 216.9M115.5 231.7L105.1 225.9M146.9 371.9L147.2 371.7M103.6 353.8L103.6 347.8L105.5 346.7M146.9 371.9L140.6 368.3M109.7 351.2L103.6 347.8M146.5 377.6L103.6 353.8M148.6 370.7L147.5 370.1M106.8 347.5L105.5 346.7M148.8 236.3L148.8 236.6M146.9 237.4L148.8 236.3M146.9 237.9L146.9 237.4M103.6 214.8L103.6 213.3L105.5 212.2M146.9 237.4L103.6 213.3M146.5 238.6L103.6 214.8M148.8 236.3L105.5 212.2M210.3 278.5L210.3 298.0M161.8 305.5L210.3 278.5M161.8 325.0L161.8 305.5M161.8 325.0L210.3 298.0M159.2 323.5L159.2 304.0L207.7 277.1M161.8 305.5L159.2 304.0M161.8 325.0L159.2 323.5M210.3 278.5L207.7 277.1M163.5 309.5L163.5 319.0M161.4 310.7L163.5 309.5M161.4 320.2L161.4 310.7M161.4 320.2L163.5 319.0M151.0 314.4L151.0 304.9L153.2 303.7M161.4 310.7L151.0 304.9M161.4 320.2L151.0 314.4M163.5 309.5L163.1 309.3M159.3 307.2L153.2 303.7M210.7 283.3L210.7 292.8M208.6 284.5L210.7 283.3M208.6 294.0L208.6 284.5M208.6 294.0L210.7 292.8M208.6 284.5L208.1 284.2M208.6 294.0L208.1 293.7M210.7 283.3L210.1 282.9M209.9 310.2L209.9 319.2M207.7 311.4L209.9 310.2M207.7 320.4L207.7 311.4M207.7 320.4L209.9 319.2M207.7 311.4L205.7 310.3M207.7 320.4L205.7 319.3M209.9 310.2L205.9 308.0M209.9 259.1L209.9 268.1M207.7 260.3L209.9 259.1M207.7 269.3L207.7 260.3M207.7 269.3L209.9 268.1M207.7 260.3L205.7 259.2M207.7 269.3L205.7 268.2M209.9 259.1L205.9 256.9M195.8 210.2L195.8 210.7M193.9 211.3L195.8 210.2M193.9 211.5L193.9 211.3M150.6 187.7L150.6 187.2L152.5 186.1M193.9 211.3L150.6 187.2M195.8 210.2L152.5 186.1M90.0 343.0L90.1 342.4L90.5 341.9L91.0 341.8L91.7 342.0L92.3 342.5L92.8 343.2L93.2 344.0L93.3 344.8L93.2 345.5L92.8 345.9L92.3 346.0L91.7 345.8L91.0 345.3L90.5 344.6L90.1 343.8L90.0 343.0M155.8 379.6L156.0 378.9L156.3 378.5L156.9 378.4L157.5 378.6L158.1 379.1L158.6 379.8L159.0 380.6L159.1 381.4L159.0 382.1L158.6 382.5L158.1 382.6L157.5 382.4L156.9 381.9L156.3 381.2L156.0 380.4L155.8 379.6M195.2 357.7L195.4 357.0L195.7 356.6L196.3 356.5L196.9 356.7L197.5 357.2L198.0 357.9L198.4 358.7L198.5 359.5L198.4 360.2L198.0 360.6L197.5 360.7L196.9 360.5L196.3 360.0L195.7 359.3L195.4 358.5L195.2 357.7M165.3 361.4L166.3 361.2L167.0 361.4L167.5 362.2L167.5 363.4L167.0 364.7L166.3 365.8L165.3 366.6L164.3 366.9L163.5 366.6L163.1 365.8L163.1 364.7L163.5 363.4L164.3 362.2L165.3 361.4M206.8 338.3L207.8 338.0L208.6 338.3L209.0 339.1L209.0 340.3L208.6 341.6L207.8 342.7L206.8 343.5L205.9 343.8L205.1 343.5L204.6 342.7L204.6 341.6L205.1 340.3L205.9 339.1L206.8 338.3M90.0 210.5L90.1 209.9L90.5 209.4L91.0 209.3L91.7 209.5L92.3 210.0L92.8 210.7L93.2 211.5L93.3 212.3L93.2 213.0L92.8 213.4L92.3 213.5L91.7 213.3L91.0 212.8L90.5 212.1L90.1 211.3L90.0 210.5M129.4 188.6L129.5 187.9L129.9 187.5L130.4 187.4L131.1 187.6L131.7 188.1L132.2 188.8L132.6 189.6L132.7 190.4L132.6 191.1L132.2 191.5L131.7 191.6L131.1 191.4L130.4 190.9L129.9 190.2L129.5 189.4L129.4 188.6M155.8 247.1L156.0 246.4L156.3 246.0L156.9 245.9L157.5 246.1L158.1 246.6L158.6 247.3L159.0 248.1L159.1 248.9L159.0 249.6L158.6 250.0L158.1 250.1L157.5 249.9L156.9 249.4L156.3 248.7L156.0 247.9L155.8 247.1M195.2 225.2L195.4 224.5L195.7 224.1L196.3 224.0L196.9 224.2L197.5 224.7L198.0 225.4L198.4 226.2L198.5 227.0L198.4 227.7L198.0 228.1L197.5 228.2L196.9 228.0L196.3 227.5L195.7 226.8L195.4 226.0L195.2 225.2M165.3 263.4L166.3 263.2L167.0 263.4L167.5 264.2L167.5 265.4L167.0 266.7L166.3 267.8L165.3 268.6L164.3 268.9L163.5 268.6L163.1 267.8L163.1 266.7L163.5 265.4L164.3 264.2L165.3 263.4M206.8 240.3L207.8 240.0L208.6 240.3L209.0 241.1L209.0 242.3L208.6 243.6L207.8 244.7L206.8 245.5L205.9 245.8L205.1 245.5L204.6 244.7L204.6 243.6L205.1 242.3L205.9 241.1L206.8 240.3M105.9 209.2L105.1 208.9L104.2 208.8L103.3 208.9L102.6 209.2L102.1 209.6L101.9 210.1L102.1 210.6L102.6 211.0L103.3 211.3L104.2 211.4L105.1 211.3L105.9 211.0L106.4 210.6L106.5 210.1L106.4 209.6L105.9 209.2M154.4 236.1L153.6 235.8L152.7 235.7L151.8 235.8L151.1 236.1L150.6 236.5L150.4 237.0L150.6 237.5L151.1 238.0L151.8 238.2L152.7 238.3L153.6 238.2L154.4 238.0L154.9 237.5L155.0 237.0L154.9 236.5L154.4 236.1M148.3 185.6L147.5 185.3L146.7 185.2L145.8 185.3L145.0 185.6L144.5 186.0L144.3 186.5L144.5 187.0L145.0 187.4L145.8 187.7L146.7 187.8L147.5 187.7L148.3 187.4L148.8 187.0L149.0 186.5L148.8 186.0L148.3 185.6M196.8 212.5L196.0 212.2L195.2 212.2L194.3 212.2L193.5 212.5L193.0 212.9L192.8 213.4L193.0 213.9L193.5 214.4L194.3 214.6L195.2 214.7L196.0 214.6L196.8 214.4L197.3 213.9L197.5 213.4L197.3 212.9L196.8 212.5M91.4 303.7L91.6 302.9L92.0 302.4L92.6 302.3L93.4 302.5L94.2 303.1L94.8 304.0L95.2 305.0L95.4 305.9L95.2 306.7L94.8 307.2L94.2 307.4L93.4 307.1L92.6 306.5L92.0 305.7L91.6 304.7L91.4 303.7M91.4 252.6L91.6 251.8L92.0 251.3L92.6 251.2L93.4 251.4L94.2 252.0L94.8 252.9L95.2 253.9L95.4 254.8L95.2 255.6L94.8 256.1L94.2 256.3L93.4 256.0L92.6 255.4L92.0 254.6L91.6 253.6L91.4 252.6M108.1 264.6L108.4 263.3L109.2 261.8L110.3 260.6L111.7 259.8L113.2 259.4L115.0 259.4L116.8 259.9L118.7 260.7L120.6 262.0L122.4 263.6L124.1 265.5L125.7 267.6L127.0 269.9L128.1 272.3L128.9 274.7L129.4 277.1L129.6 279.4L129.4 281.5L128.9 283.3L128.1 284.9L127.0 286.1L125.7 286.9L124.1 287.3L122.4 287.2L120.6 286.8M80.0 285.6L80.1 283.8L80.6 282.3L81.4 281.1L82.4 280.2L83.7 279.7L85.1 279.6L86.7 279.9L88.3 280.6L89.9 281.7L91.5 283.1L92.9 284.8L94.2 286.7L95.2 288.7L96.0 290.8L96.4 292.9L96.6 294.9L96.4 296.6L96.0 298.2L95.2 299.4L94.2 300.3L92.9 300.8L91.5 300.9L89.9 300.6L88.3 299.8L86.7 298.7L85.1 297.3L83.7 295.6L82.4 293.8L81.4 291.7L80.6 289.6L80.1 287.6L80.0 285.6M85.7 288.8L85.9 287.6L86.7 287.0L87.7 287.0L88.9 287.6L89.9 288.8L90.6 290.2L90.9 291.7L90.6 292.8L89.9 293.5L88.9 293.5L87.7 292.8L86.7 291.7L85.9 290.2L85.7 288.8M86.9 289.5L87.2 288.7L87.9 288.5L88.7 289.0L89.4 289.9L89.7 291.0L89.4 291.8L88.7 292.0L87.9 291.5L87.2 290.6L86.9 289.5M138.0 246.8L138.0 233.5M119.4 223.4L119.4 236.4L138.0 246.8M137.6 242.6L119.8 232.7M137.6 239.1L119.8 229.2M137.6 235.6L119.8 225.7M138.0 364.1L138.0 312.1L111.1 297.2L111.1 349.2L138.0 364.1M105.5 346.2L105.5 295.2M105.5 245.5L105.5 239.7M103.8 324.8L103.8 296.0M103.8 246.3L103.8 238.8M103.8 297.8L102.5 297.0M97.8 270.4L95.1 269.0M95.1 272.0L95.1 259.5M148.8 370.3L148.8 310.8M108.4 351.6L108.5 351.0L108.8 350.6M111.2 352.5L111.3 353.2L111.2 353.8L110.9 354.2L110.4 354.3L109.9 354.1L109.3 353.6L108.8 353.0L108.5 352.3L108.4 351.6M141.7 370.1L141.8 369.5L142.1 369.1L142.6 369.0L143.2 369.2L143.8 369.7L144.2 370.3L144.6 371.0L144.7 371.7L144.6 372.3L144.2 372.7L143.8 372.8L143.2 372.6L142.6 372.2L142.1 371.5L141.8 370.8L141.7 370.1M154.3 338.7L154.4 337.9L154.8 337.4L155.5 337.3L156.2 337.5L156.9 338.1L157.5 338.9L157.9 339.9L158.1 340.8L157.9 341.5L157.5 342.0L156.9 342.2L156.2 341.9L155.5 341.3L154.8 340.5L154.4 339.6L154.3 338.7M154.3 287.6L154.4 286.8L154.8 286.3L155.5 286.2L156.2 286.4L156.9 287.0L157.5 287.8L157.9 288.8L158.1 289.7L157.9 290.4L157.5 290.9L156.9 291.1L156.2 290.8L155.5 290.2L154.8 289.4L154.4 288.5L154.3 287.6M154.3 248.8L154.4 248.0L154.8 247.5L155.5 247.4L156.2 247.6L156.9 248.2L157.5 249.0L157.9 250.0L158.1 250.9L157.9 251.6L157.5 252.1L156.9 252.3L156.2 252.0L155.5 251.4L154.8 250.6L154.4 249.7L154.3 248.8M108.4 223.2L108.5 222.5L108.9 222.0L109.6 221.9L110.3 222.1L111.0 222.7L111.6 223.5L112.0 224.4L112.2 225.4L112.0 226.1L111.6 226.6L111.0 226.7L110.3 226.5L109.6 225.9L108.9 225.1L108.5 224.2L108.4 223.2M161.8 323.7L210.3 296.7M164.8 311.0L165.8 310.7L166.6 311.0L167.0 311.8L167.0 312.9L166.6 314.2L165.8 315.4L164.8 316.2L163.9 316.5L163.1 316.2L162.6 315.4L162.6 314.2L163.1 312.9L163.9 311.8L164.8 311.0M207.3 287.4L208.3 287.1L209.0 287.4L209.5 288.2L209.5 289.3L209.0 290.6L208.3 291.8L207.3 292.6L206.3 292.9L205.5 292.6L205.1 291.8L205.1 290.6L205.5 289.3L206.3 288.2L207.3 287.4M153.8 311.3L153.9 310.5L154.3 310.0L155.0 309.8L155.7 310.1L156.5 310.7L157.2 311.5L157.6 312.5L157.7 313.5L157.6 314.3L157.2 314.8L156.5 314.9L155.7 314.7L155.0 314.1L154.3 313.2L153.9 312.2L153.8 311.3"/>
<path stroke-width="1.15" d="M137.3 245.9L137.3 233.4M135.7 245.0L135.7 232.3M134.2 244.2L134.2 231.4M132.6 243.3L132.6 230.6M131.1 242.4L131.1 229.9M129.5 241.6L129.5 228.8M127.9 240.7L127.9 228.2M126.4 239.8L126.4 227.1M124.8 239.0L124.8 226.5M123.3 238.1L123.3 225.6M121.7 237.2L121.7 224.7M120.2 236.4L120.2 223.6"/>
<path stroke-width="1.3" d="M108.6 321.2L108.6 316.9M108.6 309.7L108.6 306.2M107.6 321.6L107.6 315.1M107.6 310.4L107.6 304.1M106.6 322.3L106.6 312.3M106.6 311.8L106.6 302.3M105.6 321.8L105.6 301.8M104.6 321.2L104.6 301.2"/>
<path fill="#111" stroke="none" d="M115.0 246.2a1.5 1.5 0 1 0 3.0 0a1.5 1.5 0 1 0 -3.0 0ZM104.5 252.5a1.5 1.5 0 1 0 3.0 0a1.5 1.5 0 1 0 -3.0 0ZM129.8 295.6a1.5 1.5 0 1 0 3.0 0a1.5 1.5 0 1 0 -3.0 0ZM140.2 289.4a1.5 1.5 0 1 0 3.0 0a1.5 1.5 0 1 0 -3.0 0ZM140.2 272.3a1.5 1.5 0 1 0 3.0 0a1.5 1.5 0 1 0 -3.0 0ZM129.8 254.4a1.5 1.5 0 1 0 3.0 0a1.5 1.5 0 1 0 -3.0 0ZM107.1 347.4a1.6 1.6 0 1 0 3.2 0a1.6 1.6 0 1 0 -3.2 0ZM138.8 365.0a1.6 1.6 0 1 0 3.2 0a1.6 1.6 0 1 0 -3.2 0ZM107.1 336.1a1.6 1.6 0 1 0 3.2 0a1.6 1.6 0 1 0 -3.2 0ZM138.8 353.7a1.6 1.6 0 1 0 3.2 0a1.6 1.6 0 1 0 -3.2 0ZM107.1 324.8a1.6 1.6 0 1 0 3.2 0a1.6 1.6 0 1 0 -3.2 0ZM138.8 342.4a1.6 1.6 0 1 0 3.2 0a1.6 1.6 0 1 0 -3.2 0ZM107.1 313.5a1.6 1.6 0 1 0 3.2 0a1.6 1.6 0 1 0 -3.2 0ZM138.8 331.1a1.6 1.6 0 1 0 3.2 0a1.6 1.6 0 1 0 -3.2 0ZM107.1 302.2a1.6 1.6 0 1 0 3.2 0a1.6 1.6 0 1 0 -3.2 0ZM138.8 319.8a1.6 1.6 0 1 0 3.2 0a1.6 1.6 0 1 0 -3.2 0ZM130.5 362.5a1.4 1.4 0 1 0 2.8 0a1.4 1.4 0 1 0 -2.8 0ZM130.5 307.1a1.4 1.4 0 1 0 2.8 0a1.4 1.4 0 1 0 -2.8 0ZM115.8 354.3a1.4 1.4 0 1 0 2.8 0a1.4 1.4 0 1 0 -2.8 0ZM115.8 298.9a1.4 1.4 0 1 0 2.8 0a1.4 1.4 0 1 0 -2.8 0ZM117.3 332.5a1.5 1.5 0 1 0 3.0 0a1.5 1.5 0 1 0 -3.0 0ZM135.6 342.7a1.5 1.5 0 1 0 3.0 0a1.5 1.5 0 1 0 -3.0 0Z"/>
</g>
<g id="M6" stroke="#111" stroke-width="1.06">
<path d="M525.6 224.3L525.2 222.4M538.8 238.9L535.7 236.4M608.7 277.7L597.5 271.5M588.6 266.5L581.3 262.5M563.2 252.4L553.3 246.9M544.3 241.9L538.8 238.9M645.8 284.9L644.8 284.9M690.4 260.1L645.8 284.9M690.5 259.6L690.4 260.1M607.7 200.6L612.3 203.2M640.1 218.6L656.3 227.6M666.8 233.5L677.5 239.4M603.2 198.9L607.7 200.6M577.8 193.0L584.5 193.5M585.3 193.5L585.6 193.5M690.5 311.6L690.4 312.1L645.8 336.9L644.8 336.9M608.7 329.7L581.3 314.5M562.5 304.0L538.8 290.9L535.7 288.4M691.7 293.2L691.7 268.7M690.4 312.1L690.4 260.1M645.8 336.9L645.8 284.9M628.1 328.4L628.1 300.6M615.5 293.7L615.5 324.5M538.8 238.9L538.8 290.9M526.7 244.2L526.7 272.2M524.1 243.0L524.1 260.2M574.4 192.5L568.7 189.4M582.6 188.0L574.4 192.5M600.3 197.8L582.6 188.0M606.8 194.2L600.3 197.8M583.4 181.2L606.8 194.2M583.4 181.2L568.7 189.4M606.8 194.2L606.8 200.5M600.3 201.1L600.3 197.8M582.6 193.5L582.6 193.0M582.6 188.5L582.6 188.0M574.4 195.8L574.4 192.5M568.7 190.7L568.7 189.4M532.8 235.4L509.4 222.4M539.3 231.8L532.8 235.4M521.5 221.9L539.3 231.8M529.8 217.3L521.5 221.9M524.1 214.2L529.8 217.3M524.1 214.2L509.4 222.4M536.4 245.9L532.8 247.9L509.4 234.9M529.8 217.3L529.8 220.6M521.5 222.4L521.5 221.9M539.3 235.0L539.3 231.8M532.8 247.9L532.8 235.4M509.4 234.9L509.4 222.4M532.8 280.9L509.4 267.9M536.4 278.9L532.8 280.9M521.5 267.4L526.6 270.2M525.3 265.3L521.5 267.4M524.1 259.7L524.3 259.8M524.1 259.7L509.4 267.9M538.4 290.3L532.8 293.4L509.4 280.4M521.5 267.9L521.5 267.4M532.8 293.4L532.8 280.9M509.4 280.4L509.4 267.9M682.6 236.4L705.1 248.9M676.1 240.0L682.6 236.4M693.0 249.4L676.1 240.0M684.8 253.9L693.0 249.4M690.4 257.1L684.8 253.9M690.4 257.1L705.1 248.9M690.4 269.6L689.9 269.3M705.1 261.4L690.4 269.6M684.8 253.9L684.8 256.7M690.4 257.1L690.4 269.6M693.0 249.6L693.0 249.4M676.1 243.5L676.1 240.0M705.1 261.4L705.1 248.9M640.2 278.7L645.8 281.9M631.9 283.3L640.2 278.7M615.1 273.9L631.9 283.3M608.6 277.5L615.1 273.9M631.1 290.1L608.6 277.5M631.1 290.1L645.8 281.9M631.1 302.6L608.6 290.0M645.8 294.4L631.1 302.6M608.6 277.5L608.6 290.0M631.1 290.1L631.1 302.6M645.8 294.4L645.8 281.9M691.6 286.8L705.1 294.4M693.0 294.9L691.5 294.0M691.2 295.9L693.0 294.9M690.4 302.6L689.9 302.3M690.4 302.6L705.1 294.4M690.4 315.1L689.5 314.6M705.1 306.9L690.4 315.1M690.4 302.6L690.4 315.1M693.0 295.1L693.0 294.9M705.1 306.9L705.1 294.4M645.3 327.1L645.8 327.4M631.9 328.8L634.4 327.4M630.0 327.7L631.9 328.8M608.6 323.0L611.7 321.3M631.1 335.6L608.6 323.0M631.1 335.6L645.8 327.4M631.1 348.1L608.6 335.5M645.8 339.9L631.1 348.1M608.6 323.0L608.6 335.5M631.1 335.6L631.1 348.1M645.8 339.9L645.8 327.4M606.8 200.1L612.3 203.2M640.1 218.6L656.4 227.7M666.9 233.5L677.6 239.5M606.8 200.1L606.8 200.6M608.1 199.4L613.6 202.4M640.1 217.2L657.6 226.9M668.2 232.8L678.7 238.6M606.8 200.1L608.1 199.4M614.5 212.1L607.3 208.1M607.3 205.6L614.5 209.6M607.3 205.6L607.3 208.1M607.3 205.6L614.5 201.7M660.3 237.5L651.6 232.7M660.3 235.0L660.3 237.5M651.6 230.2L660.3 235.0M651.6 230.2L651.6 232.7M660.3 225.4L668.9 230.2L668.9 232.7M660.3 235.0L668.9 230.2M651.6 230.2L660.3 225.4M660.3 237.5L668.9 232.7M658.7 239.6L658.7 254.3M648.1 233.7L649.0 234.2M650.3 234.9L650.8 235.2M655.6 237.9L658.7 239.6M595.0 239.6L597.8 238.0M602.0 235.7L602.4 235.4M603.8 234.7L604.6 234.2M605.5 233.7L606.8 233.0M611.0 230.7L611.4 230.4M612.8 229.7L613.6 229.2M595.0 254.3L595.0 239.6M613.6 264.6L595.0 254.3M640.0 264.6L613.6 264.6M640.0 264.6L658.7 254.3M640.0 268.6L613.6 268.6L595.0 258.3M640.0 268.6L658.7 258.3M613.6 264.6L613.6 268.6M640.0 268.6L640.0 264.6M595.0 254.3L595.0 258.3M658.7 258.3L658.7 254.3M656.6 238.1L656.6 251.8M640.0 228.9L644.2 231.2M644.7 231.4L656.6 238.1M597.1 238.1L614.3 228.5M597.1 251.8L597.1 238.1M614.5 261.5L597.1 251.8M639.2 261.5L614.5 261.5M639.2 261.5L656.6 251.8M639.2 263.5L614.5 263.5L597.1 253.8M639.2 263.5L656.6 253.8M614.5 261.5L614.5 263.5M639.2 263.5L639.2 261.5M597.1 251.8L597.1 253.8M656.6 253.8L656.6 251.8M640.1 229.2L642.0 229.9M614.4 229.2L612.5 229.9M609.5 231.3L612.5 229.9M607.0 233.0L609.5 231.3M604.9 234.8L607.0 233.0M603.4 236.9L604.9 234.8M602.5 239.0L603.4 236.9M602.2 241.2L602.5 239.0M602.5 243.4L602.2 241.2M602.5 243.4L603.4 245.5M604.9 247.5L603.4 245.5M607.0 249.4L604.9 247.5M609.5 251.0L607.0 249.4M612.5 252.5L609.5 251.0M615.9 253.6L612.5 252.5M619.5 254.5L615.9 253.6M623.3 255.0L619.5 254.5M623.3 255.0L627.3 255.1M631.2 255.0L627.3 255.1M635.0 254.5L631.2 255.0M638.7 253.6L635.0 254.5M642.0 252.5L638.7 253.6M645.0 251.0L642.0 252.5M647.6 249.4L645.0 251.0M649.6 247.5L647.6 249.4M649.6 247.5L651.1 245.5M652.1 243.4L651.1 245.5M652.4 241.2L652.1 243.4M652.1 239.0L652.4 241.2M651.1 236.9L652.1 239.0M649.6 234.8L651.1 236.9M647.6 233.0L649.6 234.8M645.0 231.3L647.6 233.0M645.0 231.3L642.0 229.9M652.4 244.7L652.1 246.9L651.1 249.0M649.6 251.0L651.1 249.0M649.6 251.0L647.6 252.9L645.0 254.5L642.0 256.0L638.7 257.1L635.0 258.0L631.2 258.5L627.3 258.6M623.3 258.5L627.3 258.6M623.3 258.5L619.5 258.0L615.9 257.1L612.5 256.0L609.5 254.5L607.0 252.9L604.9 251.0L603.4 249.0M602.5 246.9L603.4 249.0M602.5 246.9L602.2 244.7M652.4 244.7L652.4 241.2M602.2 244.7L602.2 241.2M612.6 233.3L614.4 232.1M611.1 234.6L612.6 233.3M610.0 236.1L611.1 234.6M609.4 237.6L610.0 236.1M609.1 239.2L609.4 237.6M609.4 240.8L609.1 239.2M609.4 240.8L610.0 242.3M611.1 243.8L610.0 242.3M612.6 245.1L611.1 243.8M614.4 246.3L612.6 245.1M616.6 247.3L614.4 246.3M619.0 248.2L616.6 247.3M621.7 248.8L619.0 248.2M624.4 249.1L621.7 248.8M624.4 249.1L627.3 249.3M630.1 249.1L627.3 249.3M632.9 248.8L630.1 249.1M635.5 248.2L632.9 248.8M637.9 247.3L635.5 248.2M640.1 246.3L637.9 247.3M641.9 245.1L640.1 246.3M643.4 243.8L641.9 245.1M643.4 243.8L644.5 242.3M645.2 240.8L644.5 242.3M645.4 239.2L645.2 240.8M645.2 237.6L645.4 239.2M644.5 236.1L645.2 237.6M643.4 234.6L644.5 236.1M641.9 233.3L643.4 234.6M640.1 232.1L641.9 233.3M645.4 241.2L645.2 242.8L644.5 244.3M643.4 245.8L644.5 244.3M643.4 245.8L641.9 247.1L640.1 248.3L637.9 249.3L635.5 250.2L632.9 250.8L630.1 251.1L627.3 251.3M624.4 251.1L627.3 251.3M624.4 251.1L621.7 250.8L619.0 250.2L616.6 249.3L614.4 248.3L612.6 247.1L611.1 245.8L610.0 244.3M609.4 242.8L610.0 244.3M609.4 242.8L609.1 241.2M645.4 241.2L645.4 239.2M609.1 241.2L609.1 239.2M633.2 194.9L635.0 195.5M631.3 194.4L633.2 194.9M629.3 194.2L631.3 194.4M627.3 194.1L629.3 194.2M625.2 194.2L627.3 194.1M623.2 194.4L625.2 194.2M621.3 194.9L623.2 194.4M621.3 194.9L619.6 195.5M618.0 196.2L619.6 195.5M616.7 197.1L618.0 196.2M615.6 198.1L616.7 197.1M614.8 199.1L615.6 198.1M614.3 200.2L614.8 199.1M614.2 201.4L614.3 200.2M614.3 202.5L614.2 201.4M614.3 202.5L614.8 203.6M615.6 204.7L614.8 203.6M616.7 205.7L615.6 204.7M618.0 206.5L616.7 205.7M619.6 207.3L618.0 206.5M621.3 207.9L619.6 207.3M623.2 208.3L621.3 207.9M625.2 208.6L623.2 208.3M625.2 208.6L627.3 208.7M629.3 208.6L627.3 208.7M631.3 208.3L629.3 208.6M633.2 207.9L631.3 208.3M635.0 207.3L633.2 207.9M636.5 206.5L635.0 207.3M637.9 205.7L636.5 206.5M638.9 204.7L637.9 205.7M638.9 204.7L639.7 203.6M640.2 202.5L639.7 203.6M640.4 201.4L640.2 202.5M640.2 200.2L640.4 201.4M639.7 199.1L640.2 200.2M638.9 198.1L639.7 199.1M637.9 197.1L638.9 198.1M636.5 196.2L637.9 197.1M636.5 196.2L635.0 195.5M640.4 239.2L640.2 240.3L639.7 241.4M638.9 242.5L639.7 241.4M638.9 242.5L637.9 243.5L636.5 244.3L635.0 245.1L633.2 245.7L631.3 246.1L629.3 246.4L627.3 246.5M625.2 246.4L627.3 246.5M625.2 246.4L623.2 246.1L621.3 245.7L619.6 245.1L618.0 244.3L616.7 243.5L615.6 242.5L614.8 241.4M614.3 240.3L614.8 241.4M614.3 240.3L614.2 239.2M640.4 239.2L640.4 201.4M614.2 239.2L614.2 201.4M537.5 212.9L537.1 212.7M537.5 212.9L537.5 212.9M536.3 214.0L537.5 212.9M536.3 214.0L536.3 215.3M537.5 216.4L536.3 215.3M539.4 217.0L537.5 216.4M541.7 217.0L539.4 217.0M543.7 216.4L541.7 217.0M547.2 218.4L543.7 216.4M547.2 218.4L547.2 218.4M546.1 219.5L547.2 218.4M546.1 219.5L546.1 220.7M547.2 221.8L546.1 220.7M549.2 222.5L547.2 221.8M551.5 222.5L549.2 222.5M553.5 221.8L551.5 222.5M557.0 223.8L553.5 221.8M557.0 223.8L557.0 223.8M555.9 224.9L557.0 223.8M555.9 224.9L555.9 226.2M557.0 227.3L555.9 226.2M559.0 227.9L557.0 227.3M561.3 227.9L559.0 227.9M563.3 227.3L561.3 227.9M566.8 229.2L563.3 227.3M566.8 229.2L566.8 229.2M565.7 230.3L566.8 229.2M565.7 230.3L565.7 231.6M566.8 232.7L565.7 231.6M568.8 233.3L566.8 232.7M571.1 233.3L568.8 233.3M573.1 232.7L571.1 233.3M576.6 234.7L573.1 232.7M576.6 234.7L576.6 234.7M575.5 235.8L576.6 234.7M575.5 235.8L575.5 237.1M576.6 238.2L575.5 237.1M578.6 238.8L576.6 238.2M580.9 238.8L578.6 238.8M582.8 238.2L580.9 238.8M588.2 241.1L582.8 238.2M614.3 226.6L588.2 241.1M613.1 221.3L614.5 222.1M613.1 221.3L614.3 220.2M614.3 218.9L614.3 220.2M613.1 217.8L614.3 218.9M611.2 217.2L613.1 217.8M608.9 217.2L611.2 217.2M606.9 217.8L608.9 217.2M606.9 217.8L606.9 217.8M603.4 215.9L606.9 217.8M603.4 215.9L604.5 214.8M604.5 213.5L604.5 214.8M603.4 212.4L604.5 213.5M601.4 211.8L603.4 212.4M599.1 211.8L601.4 211.8M597.1 212.4L599.1 211.8M597.1 212.4L597.1 212.4M593.6 210.4L597.1 212.4M593.6 210.4L594.7 209.3M594.7 208.1L594.7 209.3M593.6 207.0L594.7 208.1M591.6 206.3L593.6 207.0M589.3 206.3L591.6 206.3M587.3 207.0L589.3 206.3M587.3 207.0L587.3 207.0M583.8 205.0L587.3 207.0M583.8 205.0L584.9 203.9M584.9 202.6L584.9 203.9M583.8 201.5L584.9 202.6M581.8 200.9L583.8 201.5M579.5 200.9L581.8 200.9M577.6 201.5L579.5 200.9M577.6 201.5L577.6 201.5M574.0 199.5L577.6 201.5M574.0 199.5L575.1 198.4M575.1 197.2L575.1 198.4M574.0 196.1L575.1 197.2M572.0 195.4L574.0 196.1M569.7 195.4L572.0 195.4M567.8 196.1L569.7 195.4M567.8 196.1L567.8 196.1M567.4 195.9L567.8 196.1M567.4 195.9L537.1 212.7M595.2 241.2L588.2 245.1L582.8 242.2M580.9 242.8L582.8 242.2M580.9 242.8L578.6 242.8L576.6 242.2L575.5 241.1M575.7 238.2L573.1 236.7M571.1 237.3L573.1 236.7M571.1 237.3L568.8 237.3L566.8 236.7L565.7 235.6M565.9 232.8L563.3 231.3M561.3 231.9L563.3 231.3M561.3 231.9L559.0 231.9L557.0 231.3L555.9 230.2M556.1 227.3L553.5 225.8M551.5 226.5L553.5 225.8M551.5 226.5L549.2 226.5L547.2 225.8L546.1 224.7M546.1 221.7L543.7 220.4M541.7 221.0L543.7 220.4M541.7 221.0L539.4 221.0L537.5 220.4L536.3 219.3M575.1 200.4L575.1 198.4M574.0 199.5L574.0 199.8M584.9 205.9L584.9 203.9M583.8 205.0L583.8 205.5M594.7 211.3L594.7 209.3M593.6 210.4L593.6 210.9M604.5 216.8L604.5 214.8M603.4 215.9L603.4 216.1M614.3 222.0L614.3 220.2M613.1 221.3L613.1 221.6M588.2 241.1L588.2 245.1M582.8 238.2L582.8 242.2M580.9 242.8L580.9 238.8M578.6 242.8L578.6 238.8M576.6 242.2L576.6 238.2M575.5 241.1L575.5 237.1M576.6 234.7L576.6 235.2M573.1 232.7L573.1 233.2M573.1 235.7L573.1 236.7M571.1 237.3L571.1 234.3M571.1 233.6L571.1 233.3M568.8 237.3L568.8 233.3M566.8 236.7L566.8 232.7M565.7 235.6L565.7 231.6M566.8 229.2L566.8 229.7M563.3 227.3L563.3 227.5M563.3 230.0L563.3 231.3M561.3 231.9L561.3 228.9M561.3 228.4L561.3 227.9M559.0 231.9L559.0 227.9M557.0 231.3L557.0 227.3M555.9 230.2L555.9 226.2M557.0 223.8L557.0 224.1M553.5 221.8L553.5 222.1M553.5 224.3L553.5 225.8M551.5 226.5L551.5 222.5M549.2 226.5L549.2 222.5M547.2 225.8L547.2 221.8M546.1 224.7L546.1 220.7M547.2 218.4L547.2 218.9M543.7 216.4L543.7 216.9M543.7 218.1L543.7 220.4M541.7 221.0L541.7 217.0M539.4 221.0L539.4 217.0M537.5 220.4L537.5 216.4M536.3 219.3L536.3 215.3M537.5 212.9L537.5 213.4M537.1 212.7L537.1 213.2M560.5 196.0L564.1 197.9M560.5 196.0L560.5 196.2M566.6 192.6L572.6 195.9M560.5 196.0L566.6 192.6M533.6 220.1L531.2 218.7M533.6 218.1L533.6 220.1M527.2 214.5L533.6 218.1M527.2 214.5L527.2 214.7M533.2 211.1L537.0 213.2M533.6 218.1L536.3 216.6M527.2 214.5L533.2 211.1M533.6 220.1L536.3 218.6M551.9 248.1L544.1 243.7M551.9 245.6L551.9 248.1M544.1 241.2L551.9 245.6M544.1 241.2L544.1 243.7M553.7 235.9L561.4 240.3L561.4 242.8M551.9 245.6L561.4 240.3M544.1 241.2L553.7 235.9M551.9 248.1L561.4 242.8M596.2 272.7L588.4 268.3M596.2 270.2L596.2 272.7M588.4 265.8L596.2 270.2M588.4 265.8L588.4 268.3M597.9 260.6L605.7 264.9L605.7 267.4M596.2 270.2L605.7 264.9M588.4 265.8L597.9 260.6M596.2 272.7L605.7 267.4M628.0 287.9L629.6 288.7M630.0 288.7L631.1 288.1M675.4 265.2L668.3 261.3M676.1 263.1L676.1 264.6M668.3 258.8L676.1 263.1M668.3 258.8L668.3 261.3M678.7 253.0L686.5 257.3L686.5 258.8M676.1 263.1L686.5 257.3M668.3 258.8L678.7 253.0M529.3 217.9L529.3 220.1M568.7 190.2L573.9 193.1L573.9 195.3M529.3 217.9L536.5 213.9M568.5 196.1L573.9 193.1M524.6 214.8L568.7 190.2M529.3 220.1L531.9 218.6M572.8 195.9L573.9 195.3M645.8 284.9L645.3 284.6M645.8 282.7L645.8 284.9M645.3 282.4L645.8 282.7M689.1 257.1L690.4 257.9L690.4 260.1M645.8 282.7L690.4 257.9M644.9 281.7L689.1 257.1M645.8 284.9L690.4 260.1M579.1 318.2L562.2 308.8M579.1 262.2L579.1 318.2M562.2 252.8L579.1 262.2M562.2 252.8L562.2 308.8M564.8 251.3L569.0 253.6M570.3 254.4L571.0 254.7M576.7 257.9L581.7 260.7L581.7 316.7M579.1 262.2L581.7 260.7M562.2 252.8L564.8 251.3M579.1 318.2L581.7 316.7M574.8 261.8L566.6 257.2M574.8 259.3L574.8 261.8M566.6 254.7L574.8 259.3M566.6 254.7L566.6 257.2M576.9 248.9L585.2 253.5L585.2 256.0M574.8 259.3L585.2 253.5M566.6 254.7L576.9 248.9M574.8 261.8L575.2 261.5M579.0 259.4L585.2 256.0M574.8 316.3L566.6 311.7M574.8 313.8L574.8 316.3M566.6 309.2L574.8 313.8M566.6 309.2L566.6 311.7M574.8 313.8L575.2 313.5M566.6 309.2L567.0 308.9M574.8 316.3L575.7 315.8M551.9 302.6L544.1 298.2M551.9 300.1L551.9 302.6M544.1 295.7L551.9 300.1M544.1 295.7L544.1 298.2M551.9 300.1L554.1 298.8M544.1 295.7L546.3 294.5M551.9 302.6L556.1 300.2M596.2 327.2L588.4 322.8M596.2 324.7L596.2 327.2M588.4 320.3L596.2 324.7M588.4 320.3L588.4 322.8M596.2 324.7L598.4 323.5M588.4 320.3L590.6 319.1M596.2 327.2L600.4 324.8M645.8 339.1L645.3 338.8M645.8 336.9L645.8 339.1M645.3 336.6L645.8 336.9M689.9 311.8L690.4 312.1L690.4 314.3M645.8 336.9L690.4 312.1M645.8 339.1L690.4 314.3M585.1 184.2L585.6 184.6L585.8 185.1L585.6 185.6L585.1 186.0L584.3 186.3L583.4 186.4L582.6 186.3L581.8 186.0L581.3 185.6L581.1 185.1L581.3 184.6L581.8 184.2L582.6 183.9L583.4 183.8L584.3 183.9L585.1 184.2M518.0 221.5L518.5 221.9L518.7 222.4L518.5 222.9L518.0 223.3L517.2 223.6L516.3 223.7L515.4 223.6L514.7 223.3L514.2 222.9L514.0 222.4L514.2 221.9L514.7 221.5L515.4 221.2L516.3 221.1L517.2 221.2L518.0 221.5M518.0 267.0L518.5 267.4L518.7 267.9L518.5 268.4L518.0 268.8L517.2 269.1L516.3 269.2L515.4 269.1L514.7 268.8L514.2 268.4L514.0 267.9L514.2 267.4L514.7 267.0L515.4 266.7L516.3 266.6L517.2 266.7L518.0 267.0M529.0 238.3L528.7 239.3L528.1 239.8L527.2 239.8L526.2 239.3L525.3 238.3L524.7 237.0L524.5 235.8L524.7 234.8L525.3 234.2L526.2 234.2L527.2 234.8L528.1 235.8L528.7 237.0L529.0 238.3M529.0 286.3L528.7 287.3L528.1 287.8L527.2 287.8L526.2 287.3L525.3 286.3L524.7 285.0L524.5 283.8L524.7 282.8L525.3 282.2L526.2 282.2L527.2 282.8L528.1 283.8L528.7 285.0L529.0 286.3M699.8 248.0L700.3 248.4L700.5 248.9L700.3 249.4L699.8 249.8L699.1 250.1L698.2 250.2L697.3 250.1L696.5 249.8L696.0 249.4L695.9 248.9L696.0 248.4L696.5 248.0L697.3 247.7L698.2 247.6L699.1 247.7L699.8 248.0M699.8 293.5L700.3 293.9L700.5 294.4L700.3 294.9L699.8 295.3L699.1 295.6L698.2 295.7L697.3 295.6L696.5 295.3L696.0 294.9L695.9 294.4L696.0 293.9L696.5 293.5L697.3 293.2L698.2 293.1L699.1 293.2L699.8 293.5M632.7 285.3L633.2 285.7L633.4 286.2L633.2 286.7L632.7 287.1L632.0 287.4L631.1 287.5L630.2 287.4L629.4 287.1L628.9 286.7L628.7 286.2L628.9 285.7L629.4 285.3L630.2 285.0L631.1 284.9L632.0 285.0L632.7 285.3M632.7 330.8L633.2 331.2L633.4 331.7L633.2 332.2L632.7 332.6L632.0 332.9L631.1 333.0L630.2 332.9L629.4 332.6L628.9 332.2L628.7 331.7L628.9 331.2L629.4 330.8L630.2 330.5L631.1 330.4L632.0 330.5L632.7 330.8M613.8 285.5L613.6 286.5L613.0 287.0L612.1 287.0L611.1 286.5L610.2 285.5L609.6 284.2L609.3 283.0L609.6 282.0L610.2 281.4L611.1 281.4L612.1 282.0L613.0 283.0L613.6 284.2L613.8 285.5M613.8 333.5L613.6 334.5L613.0 335.0L612.1 335.0L611.1 334.5L610.2 333.5L609.6 332.2L609.3 331.0L609.6 330.0L610.2 329.4L611.1 329.4L612.1 330.0L613.0 331.0L613.6 332.2L613.8 333.5M693.0 262.0L693.6 261.5L694.2 260.8L694.5 260.0L694.6 259.2L694.5 258.6L694.2 258.1L693.6 258.0L693.0 258.2L692.4 258.7L691.8 259.4L691.5 260.2L691.3 261.0L691.5 261.7L691.8 262.1L692.4 262.2L693.0 262.0M643.2 289.7L643.8 289.2L644.4 288.5L644.7 287.7L644.8 286.9L644.7 286.2L644.4 285.8L643.8 285.7L643.2 285.9L642.6 286.4L642.0 287.1L641.7 287.9L641.6 288.7L641.7 289.4L642.0 289.8L642.6 289.9L643.2 289.7M693.0 311.0L693.6 310.5L694.2 309.8L694.5 309.0L694.6 308.2L694.5 307.6L694.2 307.1L693.6 307.0L693.0 307.2L692.4 307.7L691.8 308.4L691.5 309.2L691.3 310.0L691.5 310.7L691.8 311.1L692.4 311.2L693.0 311.0M643.2 338.7L643.8 338.2L644.4 337.5L644.7 336.7L644.8 335.9L644.7 335.2L644.4 334.8L643.8 334.7L643.2 334.9L642.6 335.4L642.0 336.1L641.7 336.9L641.6 337.7L641.7 338.4L642.0 338.8L642.6 338.9L643.2 338.7M614.4 206.5L613.8 206.0L613.6 205.4L613.8 204.8L614.4 204.3M662.7 228.9L663.3 229.4L663.5 230.0L663.3 230.6L662.7 231.1L661.8 231.4L660.7 231.5L659.6 231.4L658.7 231.1L658.1 230.6L657.9 230.0L658.1 229.4L658.7 228.9L659.6 228.5L660.7 228.4L661.8 228.5L662.7 228.9M640.1 234.4L641.2 235.6L642.2 237.0L642.6 238.4L642.6 239.9L642.2 241.4L641.2 242.8L639.9 244.1L638.2 245.2L636.1 246.2L633.8 247.0L631.3 247.5L628.6 247.7L625.9 247.7L623.3 247.5L620.7 247.0L618.4 246.2L616.4 245.2L614.6 244.1L613.3 242.8L612.4 241.4L611.9 239.9L611.9 238.4L612.4 237.0L613.3 235.6L614.4 234.4M635.6 196.8L637.0 197.7L638.1 198.9L638.8 200.1L639.0 201.4L638.8 202.7L638.1 203.9L637.0 205.0L635.6 206.0L633.8 206.8L631.8 207.4L629.6 207.8L627.3 207.9L625.0 207.8L622.8 207.4L620.7 206.8L618.9 206.0L617.5 205.0L616.4 203.9L615.7 202.7L615.5 201.4L615.7 200.1L616.4 198.9L617.5 197.7L618.9 196.8L620.7 195.9L622.8 195.3L625.0 195.0L627.3 194.8L629.6 195.0L631.8 195.3L633.8 195.9L635.6 196.8M629.9 199.9L630.7 200.7L630.9 201.6L630.4 202.5L629.2 203.1L627.7 203.4L626.0 203.3L624.7 202.8L623.8 202.1L623.6 201.1L624.2 200.3L625.3 199.6L626.9 199.3L628.5 199.5L629.9 199.9M628.6 200.6L629.2 201.2L629.0 201.9L628.2 202.3L627.0 202.5L625.9 202.1L625.3 201.5L625.5 200.9L626.4 200.4L627.6 200.3L628.6 200.6M643.6 270.2L654.9 276.4M673.7 266.2L662.2 259.8L643.6 270.2M647.5 271.9L665.3 262.0M650.6 273.5L668.3 263.7M653.6 275.2L671.3 265.4M541.9 213.5L586.9 238.5L613.8 223.6L568.7 198.5L541.9 213.5M574.4 195.5L614.3 217.8M658.7 242.5L666.6 246.8M593.8 204.5L614.4 215.9M658.7 240.5L668.3 245.9M640.2 221.1L640.6 220.8M640.2 227.8L646.7 224.2M640.2 220.6L654.6 228.6M529.8 220.3L581.3 249.0M568.2 195.2L568.7 195.6M565.9 197.1L565.3 196.9L564.8 196.5L564.6 196.1L564.8 195.6L565.3 195.2L565.9 195.0L566.7 194.9L567.5 195.0L568.2 195.2M534.9 213.8L535.3 214.1L535.5 214.6L535.3 215.0L534.9 215.4L534.2 215.7L533.4 215.7L532.6 215.7L531.9 215.4L531.5 215.0L531.3 214.6L531.5 214.1L531.9 213.8L532.6 213.5L533.4 213.4L534.2 213.5L534.9 213.8M554.3 239.9L554.8 240.4L555.0 241.0L554.8 241.6L554.3 242.1L553.4 242.4L552.4 242.5L551.3 242.4L550.4 242.1L549.9 241.6L549.7 241.0L549.9 240.4L550.4 239.9L551.3 239.6L552.4 239.5L553.4 239.6L554.3 239.9M598.5 264.5L599.1 265.0L599.3 265.6L599.1 266.2L598.5 266.7L597.6 267.0L596.6 267.1L595.6 267.0L594.7 266.7L594.1 266.2L593.9 265.6L594.1 265.0L594.7 264.5L595.6 264.2L596.6 264.1L597.6 264.2L598.5 264.5M632.1 283.2L632.7 283.7L632.9 284.3L632.7 284.9L632.1 285.4L631.2 285.7L630.2 285.8L629.2 285.7L628.3 285.4L627.7 284.9L627.5 284.3L627.7 283.7L628.3 283.2L629.2 282.9L630.2 282.8L631.2 282.9L632.1 283.2M679.3 257.0L679.9 257.5L680.1 258.0L679.9 258.6L679.3 259.1L678.4 259.4L677.4 259.5L676.4 259.4L675.5 259.1L674.9 258.6L674.7 258.0L674.9 257.5L675.5 257.0L676.4 256.7L677.4 256.6L678.4 256.7L679.3 257.0M563.4 253.4L563.4 309.4M572.9 262.2L572.7 263.2L572.0 263.8L571.1 263.8L570.1 263.2L569.2 262.2L568.6 260.9L568.4 259.7L568.6 258.7L569.2 258.1L570.1 258.1L571.1 258.7L572.0 259.7L572.7 260.9L572.9 262.2M572.9 311.2L572.7 312.2L572.0 312.8L571.1 312.8L570.1 312.2L569.2 311.2L568.6 309.9L568.4 308.7L568.6 307.7L569.2 307.1L570.1 307.1L571.1 307.7L572.0 308.7L572.7 309.9L572.9 311.2M578.2 252.7L578.9 253.2L579.1 253.8L578.9 254.4L578.2 254.9L577.3 255.3L576.3 255.4L575.2 255.3L574.3 254.9L573.7 254.4L573.4 253.8L573.7 253.2L574.3 252.7L575.2 252.4L576.3 252.2L577.3 252.4L578.2 252.7"/>
<path stroke-width="1.15" d="M644.8 270.0L655.6 276.0M646.3 269.2L657.1 275.2M647.9 268.3L658.7 274.3M649.4 267.4L660.2 273.4M651.0 266.6L661.8 272.6M652.5 265.7L663.4 271.7M654.1 264.8L664.9 270.8M655.7 264.0L666.5 270.0M657.2 263.1L668.0 269.1M658.8 262.2L669.6 268.2M660.3 261.4L671.2 267.4M661.9 260.5L672.7 266.5"/>
<path stroke-width="1.3" d="M594.5 210.1L597.8 212.0M604.4 215.6L607.2 217.2M594.6 209.1L599.7 211.9M604.3 214.4L609.1 217.1M594.5 207.9L602.6 212.4M603.1 212.7L611.8 217.6M595.5 207.4L612.8 217.0M596.5 206.8L613.8 216.4"/>
<path fill="#111" stroke="none" d="M650.6 250.7a1.5 1.5 0 1 0 3.0 0a1.5 1.5 0 1 0 -3.0 0ZM650.6 239.1a1.5 1.5 0 1 0 3.0 0a1.5 1.5 0 1 0 -3.0 0ZM600.1 239.1a1.5 1.5 0 1 0 3.0 0a1.5 1.5 0 1 0 -3.0 0ZM600.1 250.7a1.5 1.5 0 1 0 3.0 0a1.5 1.5 0 1 0 -3.0 0ZM614.9 258.9a1.5 1.5 0 1 0 3.0 0a1.5 1.5 0 1 0 -3.0 0ZM635.8 258.9a1.5 1.5 0 1 0 3.0 0a1.5 1.5 0 1 0 -3.0 0ZM570.0 197.4a1.6 1.6 0 1 0 3.2 0a1.6 1.6 0 1 0 -3.2 0ZM538.3 215.0a1.6 1.6 0 1 0 3.2 0a1.6 1.6 0 1 0 -3.2 0ZM579.8 202.9a1.6 1.6 0 1 0 3.2 0a1.6 1.6 0 1 0 -3.2 0ZM548.1 220.5a1.6 1.6 0 1 0 3.2 0a1.6 1.6 0 1 0 -3.2 0ZM589.6 208.3a1.6 1.6 0 1 0 3.2 0a1.6 1.6 0 1 0 -3.2 0ZM557.9 225.9a1.6 1.6 0 1 0 3.2 0a1.6 1.6 0 1 0 -3.2 0ZM599.3 213.7a1.6 1.6 0 1 0 3.2 0a1.6 1.6 0 1 0 -3.2 0ZM567.6 231.4a1.6 1.6 0 1 0 3.2 0a1.6 1.6 0 1 0 -3.2 0ZM609.1 219.2a1.6 1.6 0 1 0 3.2 0a1.6 1.6 0 1 0 -3.2 0ZM577.4 236.8a1.6 1.6 0 1 0 3.2 0a1.6 1.6 0 1 0 -3.2 0ZM545.1 209.3a1.4 1.4 0 1 0 2.8 0a1.4 1.4 0 1 0 -2.8 0ZM593.0 235.9a1.4 1.4 0 1 0 2.8 0a1.4 1.4 0 1 0 -2.8 0ZM559.8 201.1a1.4 1.4 0 1 0 2.8 0a1.4 1.4 0 1 0 -2.8 0ZM607.8 227.8a1.4 1.4 0 1 0 2.8 0a1.4 1.4 0 1 0 -2.8 0ZM577.8 212.9a1.5 1.5 0 1 0 3.0 0a1.5 1.5 0 1 0 -3.0 0ZM559.4 223.1a1.5 1.5 0 1 0 3.0 0a1.5 1.5 0 1 0 -3.0 0Z"/>
</g>
<g id="M5" stroke="#111" stroke-width="1.06">
<path d="M216.8 583.7L216.9 583.2M176.1 606.4L216.8 583.7M175.1 606.4L176.1 606.4M66.0 557.9L67.2 558.8M55.5 491.9L55.9 493.8M66.0 505.9L69.1 508.4L74.2 511.2M84.0 516.7L118.4 535.8M128.3 541.3L139.0 547.2M175.1 554.4L176.1 554.4L216.8 531.7L216.9 531.2M204.2 511.2L192.8 504.9M183.4 499.7L172.2 493.5M162.3 488.0L148.5 480.3M139.1 475.1L134.1 472.3L129.6 470.5M111.5 465.2L104.4 464.7M57.0 541.7L57.0 513.7M54.4 529.7L54.4 512.5M69.1 513.6L69.1 512.6M69.1 508.9L69.1 508.4M145.8 594.0L145.8 563.2M158.4 570.1L158.4 597.9M176.1 554.4L176.1 606.4M216.8 531.7L216.8 583.7M218.1 540.1L218.1 564.9M63.1 562.9L67.3 560.5M39.7 549.9L63.1 562.9M39.7 537.4L63.1 550.4M66.0 548.8L63.1 550.4M56.9 539.7L51.8 536.9L55.8 534.7M54.6 529.3L54.4 529.2L39.7 537.4M63.1 562.9L63.1 550.4M39.7 549.9L39.7 537.4M51.8 536.9L51.8 537.4M63.1 517.4L66.4 515.5M39.7 504.4L63.1 517.4M39.7 491.9L63.1 504.9M69.6 501.3L63.1 504.9M69.6 501.3L51.8 491.4L60.1 486.8L54.4 483.7L39.7 491.9M63.1 517.4L63.1 504.9M39.7 504.4L39.7 491.9M69.6 501.3L69.6 504.5M51.8 491.4L51.8 491.9M60.1 486.8L60.1 490.1M109.0 459.6L101.6 463.7M109.0 459.6L126.7 469.5L133.2 465.9L109.8 452.9L108.1 453.9M104.6 455.8L101.1 457.8M109.0 459.6L109.0 460.1M109.0 464.6L109.0 465.1M126.7 469.5L126.7 472.8M133.2 465.9L133.2 472.1M138.9 605.0L161.4 617.6M176.1 609.4L161.4 617.6M176.1 596.9L175.6 596.6M162.2 598.3L164.7 596.9M162.2 598.3L160.3 597.2M142.0 590.8L138.9 592.5L161.4 605.1L176.1 596.9M176.1 609.4L176.1 596.9M138.9 592.5L138.9 605.0M161.4 605.1L161.4 617.6M215.9 586.2L216.8 586.7M231.5 578.5L216.8 586.7M231.5 566.0L218.2 558.6M217.9 565.7L219.4 566.5L217.6 567.5M216.3 574.0L216.8 574.2L231.5 566.0M231.5 578.5L231.5 566.0M219.4 566.5L219.4 566.8M216.8 574.2L216.8 586.7M138.9 559.5L161.4 572.1M176.1 563.9L161.4 572.1M176.1 551.4L170.5 548.2M162.2 552.8L170.5 548.2M162.2 552.8L145.4 543.4L138.9 547.0L161.4 559.6L176.1 551.4M176.1 563.9L176.1 551.4M138.9 547.0L138.9 559.5M161.4 559.6L161.4 572.1M216.3 541.0L216.8 541.2M231.5 533.0L216.8 541.2M231.5 520.5L209.0 508.0M202.5 511.6L209.0 508.0M202.5 511.6L219.4 521.0L211.2 525.6L216.8 528.7L231.5 520.5M231.5 533.0L231.5 520.5M202.5 511.6L202.5 515.1M219.4 521.0L219.4 521.3M211.2 525.6L211.2 528.9M216.8 528.7L216.8 541.2M141.0 591.6L141.0 591.3M69.2 513.4L70.4 513.3M71.2 513.6L70.4 513.3M138.0 550.9L136.9 550.1M138.9 551.9L138.0 550.9M141.0 560.6L141.0 591.3M139.0 556.4L138.5 554.9L137.5 553.3L136.3 551.9L135.0 550.9L112.9 538.6M93.6 527.9L70.0 514.8L68.7 514.3M67.5 514.3L68.7 514.3M67.5 514.3L66.5 514.9L65.9 516.0L65.7 517.4L65.7 551.4L65.9 553.0L66.5 554.8L67.5 556.4M68.7 557.8L67.5 556.4M68.7 557.8L70.0 558.8L135.0 594.9L136.3 595.4L137.5 595.4L138.5 594.8L138.9 594.0M139.2 592.6L139.3 592.3M139.3 559.6L139.3 592.3M69.2 513.4L67.5 514.3M138.5 594.8L139.0 594.5M138.8 596.1L136.9 595.0M67.0 560.6L138.9 600.6L138.9 597.6L67.0 557.6M67.0 560.6L67.0 557.6M68.0 557.0L67.0 557.6M138.8 547.1L128.3 541.3M118.5 535.8L84.1 516.7M74.2 511.2L68.3 507.9M67.0 511.6L93.7 526.5M113.4 537.5L138.9 551.6L138.9 548.6L120.0 538.1M119.6 537.9L81.2 516.5M80.8 516.3L79.5 515.6M79.0 515.3L67.0 508.6M67.0 511.6L67.0 508.6M68.3 507.9L67.0 508.6M115.0 533.9L96.0 523.3M115.0 534.4L115.0 533.9M93.4 530.3L112.4 540.8L112.4 535.3L93.4 524.8M93.4 530.3L93.4 524.8M113.6 540.2L112.4 540.8M115.0 533.9L112.4 535.3M96.0 523.3L93.4 524.8M74.0 567.5L82.7 572.3L82.7 569.8L74.0 565.0M74.0 567.5L74.0 565.0M85.5 570.7L82.7 572.3M83.5 569.3L82.7 569.8M74.9 564.5L74.0 565.0M118.2 592.1L126.9 596.9L126.9 594.4L118.2 589.6M118.2 592.1L118.2 589.6M129.8 595.3L126.9 596.9M127.6 594.1L126.9 594.4M119.1 589.1L118.2 589.6M147.5 621.2L148.6 622.1M146.7 620.1L147.5 621.2M146.3 619.0L146.7 620.1M146.1 617.9L146.3 619.0M172.2 619.0L172.3 617.9M171.7 620.1L172.2 619.0M170.9 621.2L171.7 620.1M169.8 622.1L170.9 621.2M168.5 623.0L169.8 622.1M166.9 623.8L168.5 623.0M165.2 624.4L166.9 623.8M165.2 624.4L163.3 624.8M161.3 625.1L163.3 624.8M159.2 625.1L161.3 625.1M157.2 625.1L159.2 625.1M155.2 624.8L157.2 625.1M153.3 624.4L155.2 624.8M151.5 623.8L153.3 624.4M149.9 623.0L151.5 623.8M149.9 623.0L148.6 622.1M172.3 611.1L172.3 617.9M146.1 608.8L146.1 617.9M216.8 583.7L216.3 583.4M216.8 585.9L216.8 583.7M175.6 608.3L176.1 608.6L176.1 606.4L175.6 606.1M216.8 585.9L176.1 608.6M216.8 583.7L176.1 606.4M179.6 492.7L174.7 490.0M173.9 489.5L173.2 489.1M167.1 485.7L162.7 483.3M179.6 497.9L179.6 492.7M177.0 496.4L177.0 494.1L172.1 491.4M167.3 488.7L166.7 488.4M164.5 487.2L160.1 484.7M160.1 487.2L160.1 484.7M179.6 492.7L177.0 494.1M162.7 483.3L160.1 484.7M175.2 489.8L167.0 485.2M175.2 490.5L175.2 489.8M156.6 493.5L164.8 498.0L164.8 495.5L156.6 491.0M156.6 493.5L156.6 491.0M173.0 493.5L164.8 498.0M175.2 489.8L164.8 495.5M167.0 485.2L156.6 491.0M146.5 536.7L172.8 536.7M127.8 526.4L146.5 536.7M191.5 526.4L172.8 536.7M191.5 523.9L191.5 509.2L172.8 498.8L146.5 498.8L127.8 509.2L127.8 523.9L146.5 534.2L172.8 534.2M191.5 523.9L172.8 534.2M191.5 523.9L191.5 526.4M127.8 523.9L127.8 526.4M146.5 536.7L146.5 534.2M172.8 534.2L172.8 536.7M137.9 522.8L139.9 524.6M136.5 520.9L137.9 522.8M135.6 518.8L136.5 520.9M135.3 516.8L135.6 518.8M182.8 518.8L183.1 516.8M181.9 520.9L182.8 518.8M180.5 522.8L181.9 520.9M178.5 524.6L180.5 522.8M176.1 526.2L178.5 524.6M173.2 527.5L176.1 526.2M170.1 528.6L173.2 527.5M170.1 528.6L166.6 529.4M162.9 529.9L166.6 529.4M159.2 530.0L162.9 529.9M155.5 529.9L159.2 530.0M151.8 529.4L155.5 529.9M148.4 528.6L151.8 529.4M145.2 527.5L148.4 528.6M142.3 526.2L145.2 527.5M142.3 526.2L139.9 524.6M142.3 523.7L145.2 525.0L148.4 526.1L151.8 526.9L155.5 527.4L159.2 527.5L162.9 527.4L166.6 526.9M170.1 526.1L166.6 526.9M170.1 526.1L173.2 525.0L176.1 523.7L178.5 522.1L180.5 520.3L181.9 518.4L182.8 516.3L183.1 514.3M182.8 512.2L183.1 514.3M182.8 512.2L181.9 510.2L180.5 508.2L178.5 506.5L176.1 504.9L173.2 503.5L170.1 502.4L166.6 501.6M162.9 501.1L166.6 501.6M162.9 501.1L159.2 501.0L155.5 501.1L151.8 501.6L148.4 502.4L145.2 503.5L142.3 504.9L139.9 506.5M137.9 508.2L139.9 506.5M137.9 508.2L136.5 510.2L135.6 512.2L135.3 514.3L135.6 516.3L136.5 518.4L137.9 520.3L139.9 522.1M142.3 523.7L139.9 522.1M183.1 514.3L183.1 516.8M135.3 514.3L135.3 516.8M118.9 514.4L128.4 509.1M129.3 508.7L130.6 507.9M131.0 507.7L136.1 504.9M136.5 504.6L137.4 504.1M138.3 503.7L139.6 502.9M140.0 502.7L141.8 501.7M142.2 501.5L146.4 499.1M146.8 498.9L149.2 497.5M113.6 511.4L118.9 514.4M113.6 511.4L111.6 512.0M109.3 512.0L111.6 512.0M107.3 511.4L109.3 512.0M106.2 510.3L107.3 511.4M102.8 506.3L101.8 506.6M99.5 506.6L101.8 506.6M97.5 506.0L99.5 506.6M96.4 504.9L97.5 506.0M93.3 500.8L92.0 501.2M89.7 501.2L92.0 501.2M87.8 500.5L89.7 501.2M86.6 499.4L87.8 500.5M83.7 495.3L82.2 495.7M80.0 495.7L82.2 495.7M78.0 495.1L80.0 495.7M76.8 494.0L78.0 495.1M74.4 489.7L75.1 490.0M74.4 489.7L72.5 490.3M70.2 490.3L72.5 490.3M68.2 489.7L70.2 490.3M67.1 488.6L68.2 489.7M67.8 484.0L68.2 484.2L68.2 484.2L67.1 485.3M67.1 486.6L67.1 485.3M67.1 486.6L68.2 487.7L70.2 488.3L72.5 488.3L74.4 487.7L78.0 489.6L78.0 489.6L76.8 490.7M76.8 492.0L76.8 490.7M76.8 492.0L78.0 493.1L80.0 493.7L82.2 493.7L84.2 493.1L87.8 495.1L87.8 495.1L86.6 496.2M86.6 497.4L86.6 496.2M86.6 497.4L87.8 498.5L89.7 499.2L92.0 499.2L94.0 498.5L97.5 500.5L97.5 500.5L96.4 501.6M96.4 502.9L96.4 501.6M96.4 502.9L97.5 504.0L99.5 504.6L101.8 504.6L103.8 504.0L107.3 505.9L107.3 505.9L106.2 507.0M106.2 508.3L106.2 507.0M106.2 508.3L107.3 509.4L109.3 510.0L111.6 510.0L113.6 509.4L118.9 512.4L149.2 495.5L143.9 492.6M145.0 491.5L143.9 492.6M145.0 491.5L145.0 490.2L143.9 489.1L141.9 488.5L139.6 488.5L137.6 489.1L137.6 489.1L134.1 487.1M135.2 486.0L134.1 487.1M135.2 486.0L135.2 484.8L134.1 483.7L132.1 483.0L129.8 483.0L127.9 483.7L127.9 483.7L124.3 481.7M125.4 480.6L124.3 481.7M125.4 480.6L125.4 479.3L124.3 478.2L122.3 477.6L120.0 477.6L118.1 478.2L118.1 478.2L114.5 476.2M115.7 475.1L114.5 476.2M115.7 475.1L115.7 473.9L114.5 472.8L112.5 472.1L110.3 472.1L108.3 472.8L108.3 472.8L104.7 470.8M105.9 469.7L104.7 470.8M105.9 469.7L105.9 468.4L104.7 467.3L102.8 466.7L101.7 466.7M67.8 484.0L92.7 470.2M68.2 484.7L68.2 484.2M67.8 484.5L67.8 484.0M67.1 486.6L67.1 488.6M68.2 487.7L68.2 489.7M70.2 488.3L70.2 490.3M72.5 488.3L72.5 490.3M74.4 488.2L74.4 487.7M78.0 490.1L78.0 489.6M76.8 492.0L76.8 494.0M78.0 493.1L78.0 495.1M80.0 493.7L80.0 495.7M82.2 493.7L82.2 495.7M84.2 493.3L84.2 493.1M87.8 495.3L87.8 495.1M86.6 497.4L86.6 499.4M87.8 498.5L87.8 500.5M89.7 499.2L89.7 501.2M92.0 499.2L92.0 499.7M92.0 500.2L92.0 501.2M94.0 498.8L94.0 498.5M97.5 500.8L97.5 500.5M96.4 502.9L96.4 504.9M97.5 504.0L97.5 506.0M99.5 504.6L99.5 506.6M101.8 504.6L101.8 504.9M101.8 505.6L101.8 506.6M103.8 504.5L103.8 504.0M107.3 506.4L107.3 505.9M106.2 508.3L106.2 510.3M107.3 509.4L107.3 511.4M109.3 510.0L109.3 512.0M111.6 510.0L111.6 512.0M113.6 511.4L113.6 509.4M118.9 514.4L118.9 512.4M149.2 497.5L149.2 495.5M143.9 492.8L143.9 492.6M145.0 491.5L145.0 493.5M134.1 487.6L134.1 487.1M135.2 486.0L135.2 487.8M124.3 482.2L124.3 481.7M125.4 480.6L125.4 482.6M114.5 476.7L114.5 476.2M115.7 475.1L115.7 477.1M104.7 471.0L104.7 470.8M105.9 469.7L105.9 471.7M90.7 483.8L91.4 484.7M90.5 482.8L90.7 483.8M103.7 483.8L103.9 482.8M103.7 483.8L103.0 484.7M102.0 485.4L103.0 484.7M100.6 486.0L102.0 485.4M98.9 486.4L100.6 486.0M97.2 486.5L98.9 486.4M95.5 486.4L97.2 486.5M93.8 486.0L95.5 486.4M92.4 485.4L93.8 486.0M92.4 485.4L91.4 484.7M92.4 483.4L93.8 484.0L95.5 484.4L97.2 484.5L98.9 484.4L100.6 484.0L102.0 483.4L103.0 482.7M103.7 481.8L103.0 482.7M103.7 481.8L103.9 480.8L103.7 479.8L103.0 478.9L102.0 478.1L101.5 477.9M92.7 478.0L92.4 478.1L91.4 478.9L90.7 479.8L90.5 480.8L90.7 481.8L91.4 482.7M92.4 483.4L91.4 482.7M103.9 482.8L103.9 480.8M90.5 480.8L90.5 482.8M92.7 481.5L93.2 482.1M92.5 480.8L92.7 481.5M101.7 481.5L101.9 480.8M101.7 481.5L101.2 482.1M100.5 482.6L101.2 482.1M99.5 483.0L100.5 482.6M98.4 483.3L99.5 483.0M97.2 483.4L98.4 483.3M96.0 483.3L97.2 483.4M94.9 483.0L96.0 483.3M93.9 482.6L94.9 483.0M93.9 482.6L93.2 482.1M93.9 460.6L94.9 461.0L96.0 461.3L97.2 461.4L98.4 461.3L99.5 461.0L100.5 460.6L101.2 460.1M101.7 459.5L101.2 460.1M101.7 459.5L101.9 458.8L101.7 458.1L101.2 457.5L100.5 457.0L99.5 456.5L98.4 456.3L97.2 456.2M96.0 456.3L97.2 456.2M96.0 456.3L94.9 456.5L93.9 457.0L93.2 457.5L92.7 458.1L92.5 458.8L92.7 459.5L93.2 460.1M93.9 460.6L93.2 460.1M101.9 480.8L101.9 458.8M92.5 458.8L92.5 480.8M78.2 505.1L79.2 505.4L80.4 505.3L81.2 504.8L81.4 504.2L80.8 503.6M79.8 503.3L80.8 503.6M79.8 503.3L78.7 503.4L77.9 503.9L77.7 504.5M78.2 505.1L77.7 504.5M81.4 507.2L81.4 504.2M77.7 508.5L77.7 504.5M105.1 453.4L106.1 453.6L107.2 453.5L108.0 453.1L108.2 452.5L107.7 451.9M106.7 451.6L107.7 451.9M106.7 451.6L105.5 451.7L104.7 452.2L104.6 452.8M105.1 453.4L104.6 452.8M108.2 460.0L108.2 452.5M104.6 460.0L104.6 452.8M91.3 510.5L82.7 505.7M91.3 513.0L91.3 510.5M74.0 513.0L82.7 517.8L82.7 515.3L74.0 510.5M74.0 513.0L74.0 510.5M91.3 513.0L82.7 517.8M91.3 510.5L82.7 515.3M82.7 505.7L81.1 506.6M79.5 507.4L74.0 510.5M135.6 535.1L126.9 530.3M135.6 537.6L135.6 535.1M118.2 537.6L126.9 542.4L126.9 539.9L118.2 535.1M118.2 537.6L118.2 535.1M135.6 537.6L126.9 542.4M135.6 535.1L126.9 539.9M126.9 530.3L118.2 535.1M150.6 477.0L142.8 472.7M150.6 479.5L150.6 477.0M133.3 480.5L141.1 484.8L141.1 482.3L133.3 478.0M133.3 480.5L133.3 478.0M150.6 479.5L141.1 484.8M150.6 477.0L141.1 482.3M142.8 472.7L133.3 478.0M194.9 501.6L187.1 497.3M194.9 504.1L194.9 501.6M185.4 507.4L185.4 506.9L177.6 502.6M177.6 502.9L177.6 502.6M194.9 504.1L188.5 507.7M194.9 501.6L185.4 506.9M187.1 497.3L177.6 502.6M221.1 516.2L220.7 516.0M211.2 523.8L213.2 524.9M219.0 525.6L218.5 525.4M215.4 523.6L211.2 521.3M211.2 523.8L211.2 521.3M220.7 516.0L220.3 516.2M215.4 518.9L211.2 521.3M59.6 489.6L59.6 487.4M67.5 485.2L59.6 489.6M92.7 469.0L59.6 487.4M92.7 463.2L55.1 484.1M216.8 529.5L215.5 528.8M216.8 531.7L216.8 529.5M175.6 554.1L176.1 554.4L176.1 552.2L175.6 551.9M216.8 531.7L176.1 554.4M216.8 529.5L176.1 552.2M215.5 528.8L175.2 551.2M45.0 492.8L45.7 493.1L46.6 493.2L47.5 493.1L48.3 492.8L48.8 492.4L49.0 491.9L48.8 491.4L48.3 491.0L47.5 490.7L46.6 490.6L45.7 490.7L45.0 491.0L44.5 491.4L44.3 491.9L44.5 492.4L45.0 492.8M45.0 538.3L45.7 538.6L46.6 538.7L47.5 538.6L48.3 538.3L48.8 537.9L49.0 537.4L48.8 536.9L48.3 536.5L47.5 536.2L46.6 536.1L45.7 536.2L45.0 536.5L44.5 536.9L44.3 537.4L44.5 537.9L45.0 538.3M108.2 457.7L109.0 457.9L109.8 458.0L110.7 457.9L111.5 457.7L112.0 457.2L112.2 456.8L112.0 456.3L111.5 455.8L110.7 455.6L109.8 455.5L109.0 455.6L108.2 455.8M59.3 555.8L59.0 554.5L58.4 553.3L57.5 552.3L56.5 551.7L55.6 551.7L55.0 552.3L54.8 553.3L55.0 554.5L55.6 555.8L56.5 556.8L57.5 557.3L58.4 557.3L59.0 556.8L59.3 555.8M59.3 507.8L59.0 506.5L58.4 505.3L57.5 504.3L56.5 503.7L55.6 503.7L55.0 504.3L54.8 505.3L55.0 506.5L55.6 507.8L56.5 508.8L57.5 509.3L58.4 509.3L59.0 508.8L59.3 507.8M159.7 556.6L160.5 556.9L161.4 557.0L162.3 556.9L163.0 556.6L163.5 556.2L163.7 555.7L163.5 555.2L163.0 554.8L162.3 554.5L161.4 554.4L160.5 554.5L159.7 554.8L159.2 555.2L159.0 555.7L159.2 556.2L159.7 556.6M159.7 602.1L160.5 602.4L161.4 602.5L162.3 602.4L163.0 602.1L163.5 601.7L163.7 601.2L163.5 600.7L163.0 600.3L162.3 600.0L161.4 599.9L160.5 600.0L159.7 600.3L159.2 600.7L159.0 601.2L159.2 601.7L159.7 602.1M222.9 521.5L223.7 521.7L224.6 521.8L225.5 521.7L226.2 521.5L226.7 521.0L226.9 520.5L226.7 520.1L226.2 519.6L225.5 519.4L224.6 519.3L223.7 519.4L222.9 519.6L222.4 520.1L222.3 520.5L222.4 521.0L222.9 521.5M222.9 567.0L223.7 567.2L224.6 567.3L225.5 567.2L226.2 567.0L226.7 566.5L226.9 566.0L226.7 565.6L226.2 565.1L225.5 564.9L224.6 564.8L223.7 564.9L222.9 565.1L222.4 565.6L222.3 566.0L222.4 566.5L222.9 567.0M144.1 603.0L143.9 601.7L143.3 600.5L142.4 599.5L141.4 598.9L140.5 598.9L139.9 599.5L139.6 600.5L139.9 601.7L140.5 603.0L141.4 604.0L142.4 604.5L143.3 604.5L143.9 604.0L144.1 603.0M144.1 555.0L143.9 553.7L143.3 552.5L142.4 551.5L141.4 550.9L140.5 550.9L139.9 551.5L139.6 552.5L139.9 553.7L140.5 555.0L141.4 556.0L142.4 556.5L143.3 556.5L143.9 556.0L144.1 555.0M173.5 604.4L172.9 604.9L172.3 605.6L172.0 606.4L171.9 607.2L172.0 607.9L172.3 608.3L172.9 608.4L173.5 608.2L174.1 607.7L174.7 607.0L175.0 606.2L175.1 605.4L175.0 604.7L174.7 604.3L174.1 604.2L173.5 604.4M219.4 578.9L218.8 579.4L218.2 580.1L217.9 580.9L217.7 581.7L217.9 582.4L218.2 582.8L218.8 582.9L219.4 582.7L220.0 582.2L220.6 581.5L220.9 580.7L221.0 579.9L220.9 579.2L220.6 578.8L220.0 578.7L219.4 578.9M173.5 555.4L172.9 555.9L172.3 556.6L172.0 557.4L171.9 558.2L172.0 558.9L172.3 559.3L172.9 559.4L173.5 559.2L174.1 558.7L174.7 558.0L175.0 557.2L175.1 556.4L175.0 555.7L174.7 555.3L174.1 555.2L173.5 555.4M219.4 529.9L218.8 530.4L218.2 531.1L217.9 531.9L217.7 532.7L217.9 533.4L218.2 533.8L218.8 533.9L219.4 533.7L220.0 533.2L220.6 532.5L220.9 531.7L221.0 530.9L220.9 530.2L220.6 529.8L220.0 529.7L219.4 529.9M115.2 466.9L115.1 466.1M124.0 472.0L123.8 471.0L123.2 470.0L122.4 469.3L121.6 469.1L121.1 469.5L120.8 470.2M207.5 518.2L207.3 517.4L206.8 516.4L206.0 515.8L205.2 515.6L204.6 515.9L204.4 516.7M135.3 558.7L135.2 557.7L134.8 556.7L134.2 555.7L133.5 554.8L132.7 554.2L72.3 520.6L71.5 520.3L70.7 520.4L70.2 520.7L69.8 521.3L69.7 522.2L69.7 551.0L69.8 552.0L70.2 553.0L70.7 554.0L71.5 554.8L72.3 555.4L132.7 589.0L133.5 589.3L134.2 589.3L134.8 589.0L135.2 588.4L135.3 587.5L135.3 558.7M120.2 564.7L120.0 563.0L119.2 561.3L118.1 559.8L116.8 558.8L115.4 558.4L114.3 558.6L113.6 559.5L113.3 560.9L113.6 562.5L114.3 564.3L115.4 565.7L116.8 566.8L118.1 567.2L119.2 567.0L120.0 566.1L120.2 564.7M152.2 623.1L152.7 623.3L154.7 623.9L156.9 624.3L159.2 624.4L161.5 624.3L163.7 623.9L165.7 623.3L167.5 622.5M151.3 619.7L151.3 611.7M153.4 620.5L153.4 612.9M163.8 484.6L163.8 483.9M163.5 491.7L164.4 492.0L165.4 492.1L166.5 492.0L167.4 491.7L168.0 491.2L168.3 490.6L168.0 490.0L167.4 489.5L166.5 489.1L165.4 489.0L164.4 489.1L163.5 489.5L162.8 490.0L162.6 490.6L162.8 491.2L163.5 491.7M144.1 522.7L146.6 523.9L149.5 524.9L152.6 525.6L155.9 526.0L159.2 526.2L162.6 526.0L165.8 525.6L168.9 524.9L171.8 523.9L174.4 522.7L176.5 521.3L178.3 519.7L179.6 517.9L180.4 516.1L180.6 514.3L180.4 512.4L179.6 510.6L178.3 508.9L176.5 507.3L174.4 505.8L171.8 504.6L168.9 503.6L165.8 502.9L162.6 502.5L159.2 502.3L155.9 502.5L152.6 502.9L149.5 503.6L146.6 504.6L144.1 505.8L141.9 507.3L140.1 508.9L138.8 510.6L138.0 512.4L137.8 514.3L138.0 516.1L138.8 517.9L140.1 519.7L141.9 521.3L144.1 522.7M194.3 528.4L205.7 534.7M186.9 545.0L175.7 538.7L194.3 528.4M197.3 530.5L179.6 540.4M200.3 532.2L182.6 542.1M203.4 533.9L185.6 543.8M101.6 471.0L144.5 494.8L117.6 509.8L72.6 484.7L92.6 473.6M95.5 459.8L96.6 460.1L97.8 460.1L98.9 459.8L99.6 459.1L99.6 458.4L98.9 457.8L97.8 457.5L96.6 457.5L95.5 457.8L94.8 458.4L94.8 459.1L95.5 459.8M80.2 511.9L81.1 512.2L82.2 512.3L83.3 512.2L84.2 511.9L84.8 511.3L85.0 510.7L84.8 510.1L84.2 509.6L83.3 509.3L82.2 509.2L81.1 509.3L80.2 509.6L79.6 510.1L79.4 510.7L79.6 511.3L80.2 511.9M124.5 536.5L125.4 536.8L126.5 536.9L127.6 536.8L128.5 536.5L129.1 535.9L129.3 535.3L129.1 534.8L128.5 534.2L127.6 533.9L126.5 533.8L125.4 533.9L124.5 534.2L123.9 534.8L123.7 535.3L123.9 535.9L124.5 536.5M140.5 478.3L141.4 478.7L142.4 478.8L143.4 478.7L144.3 478.3L144.9 477.9L145.1 477.3L144.9 476.7L144.3 476.2L143.4 475.9L142.4 475.8L141.4 475.9L140.5 476.2L139.9 476.7L139.7 477.3L139.9 477.9L140.5 478.3M184.8 502.9L185.6 503.3L186.7 503.4L187.7 503.3L188.6 502.9L189.1 502.5L189.4 501.9L189.1 501.3L188.6 500.8L187.7 500.5L186.7 500.4L185.6 500.5L184.8 500.8L184.2 501.3L184.0 501.9L184.2 502.5L184.8 502.9M218.4 521.6L219.2 522.0L220.3 522.1L221.3 522.0L222.2 521.6L222.8 521.1L223.0 520.6L222.8 520.0L222.2 519.5L221.3 519.2L220.3 519.1L219.2 519.2L218.4 519.5L217.8 520.0L217.6 520.6L217.8 521.1L218.4 521.6"/>
<path stroke-width="1.15" d="M194.0 529.0L204.8 535.0M192.5 529.9L203.5 536.0M190.9 530.7L201.7 536.7M189.3 531.6L200.2 537.6M187.8 532.5L198.6 538.5M186.2 533.3L197.0 539.3M184.7 534.2L195.5 540.2M183.1 535.1L193.9 541.1M181.6 535.9L192.4 541.9M180.0 536.8L190.8 542.8M178.4 537.7L189.2 543.7M176.9 538.5L187.7 544.5"/>
<path stroke-width="1.3" d="M124.6 477.6L141.9 487.2M123.6 478.1L140.9 487.7M125.4 480.3L130.7 483.2M135.1 485.6L139.9 488.3M125.3 481.3L128.8 483.2M135.2 486.8L138.2 488.5M125.0 482.2L126.7 483.2M134.8 487.7L135.7 488.2"/>
<path fill="#111" stroke="none" d="M118.9 563.9L118.6 562.6L117.8 561.3L116.8 560.4L115.7 560.1L115.0 560.6L114.7 561.6L115.0 563.0L115.7 564.3L116.8 565.2L117.8 565.4L118.6 565.0Z"/>
<path fill="#111" stroke="none" d="M66.5 555.5a1.8 1.8 0 1 0 3.5 0a1.8 1.8 0 1 0 -3.5 0ZM66.5 516.1a1.8 1.8 0 1 0 3.5 0a1.8 1.8 0 1 0 -3.5 0ZM73.4 559.3a1.8 1.8 0 1 0 3.5 0a1.8 1.8 0 1 0 -3.5 0ZM73.4 519.9a1.8 1.8 0 1 0 3.5 0a1.8 1.8 0 1 0 -3.5 0ZM80.2 563.1a1.8 1.8 0 1 0 3.5 0a1.8 1.8 0 1 0 -3.5 0ZM80.2 523.7a1.8 1.8 0 1 0 3.5 0a1.8 1.8 0 1 0 -3.5 0ZM87.1 566.9a1.8 1.8 0 1 0 3.5 0a1.8 1.8 0 1 0 -3.5 0ZM87.1 527.5a1.8 1.8 0 1 0 3.5 0a1.8 1.8 0 1 0 -3.5 0ZM93.9 570.7a1.8 1.8 0 1 0 3.5 0a1.8 1.8 0 1 0 -3.5 0ZM93.9 531.3a1.8 1.8 0 1 0 3.5 0a1.8 1.8 0 1 0 -3.5 0ZM100.7 574.5a1.8 1.8 0 1 0 3.5 0a1.8 1.8 0 1 0 -3.5 0ZM100.7 535.1a1.8 1.8 0 1 0 3.5 0a1.8 1.8 0 1 0 -3.5 0ZM107.6 578.3a1.8 1.8 0 1 0 3.5 0a1.8 1.8 0 1 0 -3.5 0ZM107.6 538.9a1.8 1.8 0 1 0 3.5 0a1.8 1.8 0 1 0 -3.5 0ZM114.4 582.2a1.8 1.8 0 1 0 3.5 0a1.8 1.8 0 1 0 -3.5 0ZM114.4 542.8a1.8 1.8 0 1 0 3.5 0a1.8 1.8 0 1 0 -3.5 0ZM121.3 586.0a1.8 1.8 0 1 0 3.5 0a1.8 1.8 0 1 0 -3.5 0ZM121.3 546.6a1.8 1.8 0 1 0 3.5 0a1.8 1.8 0 1 0 -3.5 0ZM128.1 589.8a1.8 1.8 0 1 0 3.5 0a1.8 1.8 0 1 0 -3.5 0ZM128.1 550.4a1.8 1.8 0 1 0 3.5 0a1.8 1.8 0 1 0 -3.5 0ZM134.9 593.6a1.8 1.8 0 1 0 3.5 0a1.8 1.8 0 1 0 -3.5 0ZM134.9 554.2a1.8 1.8 0 1 0 3.5 0a1.8 1.8 0 1 0 -3.5 0ZM65.9 545.3a1.8 1.8 0 1 0 3.5 0a1.8 1.8 0 1 0 -3.5 0ZM135.5 584.1a1.8 1.8 0 1 0 3.5 0a1.8 1.8 0 1 0 -3.5 0ZM65.9 535.5a1.8 1.8 0 1 0 3.5 0a1.8 1.8 0 1 0 -3.5 0ZM135.5 574.2a1.8 1.8 0 1 0 3.5 0a1.8 1.8 0 1 0 -3.5 0ZM65.9 525.6a1.8 1.8 0 1 0 3.5 0a1.8 1.8 0 1 0 -3.5 0ZM135.5 564.4a1.8 1.8 0 1 0 3.5 0a1.8 1.8 0 1 0 -3.5 0ZM168.8 530.9a1.5 1.5 0 1 0 3.0 0a1.5 1.5 0 1 0 -3.0 0ZM147.5 530.9a1.5 1.5 0 1 0 3.0 0a1.5 1.5 0 1 0 -3.0 0ZM132.3 522.5a1.5 1.5 0 1 0 3.0 0a1.5 1.5 0 1 0 -3.0 0ZM132.3 510.6a1.5 1.5 0 1 0 3.0 0a1.5 1.5 0 1 0 -3.0 0ZM147.5 502.2a1.5 1.5 0 1 0 3.0 0a1.5 1.5 0 1 0 -3.0 0ZM168.8 502.2a1.5 1.5 0 1 0 3.0 0a1.5 1.5 0 1 0 -3.0 0ZM183.9 510.6a1.5 1.5 0 1 0 3.0 0a1.5 1.5 0 1 0 -3.0 0ZM183.9 522.5a1.5 1.5 0 1 0 3.0 0a1.5 1.5 0 1 0 -3.0 0ZM69.0 486.3a1.6 1.6 0 1 0 3.2 0a1.6 1.6 0 1 0 -3.2 0ZM100.7 468.7a1.6 1.6 0 1 0 3.2 0a1.6 1.6 0 1 0 -3.2 0ZM78.8 491.7a1.6 1.6 0 1 0 3.2 0a1.6 1.6 0 1 0 -3.2 0ZM110.5 474.1a1.6 1.6 0 1 0 3.2 0a1.6 1.6 0 1 0 -3.2 0ZM88.6 497.2a1.6 1.6 0 1 0 3.2 0a1.6 1.6 0 1 0 -3.2 0ZM120.3 479.6a1.6 1.6 0 1 0 3.2 0a1.6 1.6 0 1 0 -3.2 0ZM98.4 502.6a1.6 1.6 0 1 0 3.2 0a1.6 1.6 0 1 0 -3.2 0ZM130.1 485.0a1.6 1.6 0 1 0 3.2 0a1.6 1.6 0 1 0 -3.2 0ZM108.2 508.1a1.6 1.6 0 1 0 3.2 0a1.6 1.6 0 1 0 -3.2 0ZM139.9 490.4a1.6 1.6 0 1 0 3.2 0a1.6 1.6 0 1 0 -3.2 0ZM90.5 472.3a1.4 1.4 0 1 0 2.8 0a1.4 1.4 0 1 0 -2.8 0ZM138.5 499.0a1.4 1.4 0 1 0 2.8 0a1.4 1.4 0 1 0 -2.8 0ZM75.8 480.5a1.4 1.4 0 1 0 2.8 0a1.4 1.4 0 1 0 -2.8 0ZM123.8 507.2a1.4 1.4 0 1 0 2.8 0a1.4 1.4 0 1 0 -2.8 0ZM104.8 494.9a1.4 1.4 0 1 0 2.8 0a1.4 1.4 0 1 0 -2.8 0ZM117.5 487.8a1.4 1.4 0 1 0 2.8 0a1.4 1.4 0 1 0 -2.8 0Z"/>
</g>
<g id="M3" stroke="#111" stroke-width="1.06">
<path d="M414.9 642.3L415.4 642.9M388.5 614.0L389.7 614.9M315.8 573.6L327.9 580.3M336.8 585.2L344.1 589.3M362.2 599.4L372.3 605.0M381.1 609.8L388.5 614.0M388.5 693.5L381.5 689.6M371.2 683.9L337.3 665.0M327.0 659.3L315.8 653.1M389.7 693.9L388.5 693.5M415.4 694.4L414.9 694.6M415.4 694.4L415.4 642.9M360.9 548.5L388.2 563.7M407.3 574.3L433.6 588.9L434.4 589.5M460.1 617.5L460.4 617.9M460.4 669.4L460.4 617.9M415.4 694.4L460.4 669.4M339.0 548.1L315.2 561.4M322.6 565.4L349.0 550.7M388.5 614.0L433.6 588.9M416.8 617.7L440.5 604.5M415.4 642.9L460.4 617.9M407.1 692.7L412.8 695.9M407.1 702.2L407.1 692.7M389.4 692.3L407.1 702.2M389.4 699.8L389.4 692.3M412.8 712.9L389.4 699.8M412.8 712.9L412.8 695.9M423.1 689.6L423.6 689.8L423.6 706.8M412.8 712.9L423.6 706.8M392.5 690.6L389.4 692.3M407.6 702.0L407.1 702.2M408.5 692.0L407.1 692.7M423.6 689.8L412.8 695.9M389.4 614.3L412.8 627.4M389.4 621.8L389.4 614.3M407.1 631.7L389.4 621.8M407.1 641.2L407.1 631.7M412.8 644.4L407.1 641.2M412.8 644.4L412.8 627.4M400.2 608.3L423.6 621.3L423.6 638.3M412.8 644.4L423.6 638.3M400.2 608.3L389.4 614.3M423.6 621.3L412.8 627.4M452.0 673.8L452.2 673.9M446.5 680.3L446.5 676.8M443.5 678.6L446.5 680.3M452.2 690.9L436.7 682.3M452.2 690.9L452.2 673.9M462.1 667.4L463.0 667.9L463.0 684.9M452.2 690.9L463.0 684.9M447.0 680.1L446.5 680.3M463.0 667.9L452.2 673.9M428.8 592.4L452.2 605.4M428.8 596.7L428.8 592.4M446.5 609.8L440.8 606.6M446.5 614.8L446.5 609.8M452.2 622.4L451.3 621.9M452.2 622.4L452.2 605.4M439.6 586.4L463.0 599.4L463.0 616.4M452.2 622.4L463.0 616.4M439.6 586.4L428.8 592.4M463.0 599.4L452.2 605.4M313.6 657.7L304.9 652.9M313.6 650.2L313.6 657.7M311.6 649.1L313.6 650.2M291.1 628.2L293.8 629.7M291.1 628.2L291.1 631.5M291.1 628.2L292.2 627.6M316.7 648.5L313.6 650.2M317.8 655.4L313.6 657.7M296.7 579.8L291.1 576.7M296.7 570.3L296.7 579.8M313.6 579.7L296.7 570.3M313.6 572.2L313.6 579.7M291.1 559.7L313.6 572.2M291.1 559.7L291.1 576.7M301.9 553.7L324.4 566.2M324.4 569.7L324.4 566.2M313.6 572.2L324.4 566.2M291.1 559.7L301.9 553.7M316.7 578.0L313.6 579.7M297.2 570.1L296.7 570.3M299.6 578.2L296.7 579.8M336.1 548.4L336.1 550.2M337.4 549.2L336.1 548.4M353.0 550.3L353.0 553.6M330.5 537.8L353.0 550.3M330.5 537.8L330.5 553.0M341.3 531.8L363.8 544.3M363.8 550.3L363.8 544.3M353.0 550.3L363.8 544.3M330.5 537.8L341.3 531.8M336.6 548.2L336.1 548.4M317.5 654.0L318.0 653.7M389.4 694.0L381.5 689.6M371.2 683.8L337.5 665.1M326.9 659.2L317.5 654.0M389.4 694.0L389.6 693.8M389.4 695.5L381.5 691.1M371.2 685.3L337.5 666.6M326.9 660.7L317.5 655.5M389.4 695.5L389.6 695.3M317.5 654.0L317.5 655.5M389.4 694.0L389.4 695.5M373.3 677.0L381.9 681.8M371.1 678.2L373.3 677.0M379.8 683.0L371.1 678.2M379.8 683.0L381.9 681.8M379.8 693.0L371.1 688.2M379.8 693.0L381.9 691.8M371.1 678.2L371.1 688.2M379.8 683.0L379.8 693.0M381.9 681.8L381.9 691.8M329.0 652.4L337.7 657.2M326.9 653.6L329.0 652.4M335.5 658.4L326.9 653.6M335.5 658.4L337.7 657.2M335.5 668.4L326.9 663.6M335.5 668.4L337.7 667.2M326.9 653.6L326.9 663.6M335.5 658.4L335.5 668.4M337.7 657.2L337.7 667.2M320.9 644.5L320.8 644.3M339.6 654.9L325.5 647.1M325.1 646.9L320.9 644.5M352.8 647.0L339.6 654.9M352.8 625.5L352.8 647.0M339.6 602.9L352.8 625.5M320.9 592.5L339.6 602.9M307.7 600.4L320.9 592.5M307.7 600.4L307.7 622.0M324.4 590.6L343.0 601.0L355.0 621.4M320.9 592.5L324.4 590.6M339.6 602.9L343.0 601.0M354.8 624.3L352.8 625.5M352.8 647.0L354.8 645.9M337.2 653.8L320.0 644.3M349.6 646.5L337.2 653.8M349.6 626.3L349.6 646.5M337.2 605.2L349.6 626.3M319.8 595.5L337.2 605.2M307.5 602.9L319.8 595.5M307.5 602.9L307.5 622.3M321.5 594.6L339.0 604.3L351.3 625.4L351.3 645.5M319.8 595.5L321.5 594.6M337.2 605.2L339.0 604.3M351.3 625.4L349.6 626.3M349.6 646.5L351.3 645.5M331.0 649.4L328.3 648.7M333.5 649.6L331.0 649.4M335.9 649.3L333.5 649.6M338.0 648.4L335.9 649.3M339.8 646.9L338.0 648.4M341.3 645.0L339.8 646.9M342.4 642.6L341.3 645.0M342.4 642.6L343.0 639.8M343.2 636.7L343.0 639.8M343.0 633.4L343.2 636.7M342.4 629.9L343.0 633.4M341.3 626.4L342.4 629.9M339.8 622.8L341.3 626.4M338.0 619.4L339.8 622.8M335.9 616.1L338.0 619.4M335.9 616.1L333.5 613.1M331.0 610.4L333.5 613.1M328.3 608.2L331.0 610.4M325.5 606.4L328.3 608.2M322.7 605.1L325.5 606.4M320.0 604.3L322.7 605.1M317.4 604.1L320.0 604.3M315.0 604.5L317.4 604.1M315.0 604.5L312.9 605.4M311.1 606.8L312.9 605.4M309.7 608.8L311.1 606.8M308.6 611.2L309.7 608.8M307.9 613.9L308.6 611.2M307.7 617.0L307.9 613.9M307.9 620.3L307.7 617.0M308.2 621.8L307.9 620.3M322.7 645.6L321.0 644.1M325.5 647.4L322.7 645.6M325.5 647.4L328.3 648.7M318.1 602.8L316.0 603.7M318.1 602.8L320.5 602.4L323.0 602.6L325.7 603.4L328.5 604.7L331.3 606.5L334.0 608.7L336.6 611.4M338.9 614.4L336.6 611.4M338.9 614.4L341.1 617.7L342.9 621.1L344.3 624.7L345.4 628.2L346.0 631.7L346.3 635.1L346.0 638.1M345.4 640.9L346.0 638.1M345.4 640.9L344.3 643.3L342.9 645.2L341.1 646.7M316.0 603.7L312.9 605.4M341.1 646.7L338.0 648.4M327.7 644.1L325.8 643.6M329.6 644.3L327.7 644.1M331.3 644.0L329.6 644.3M332.8 643.3L331.3 644.0M334.1 642.3L332.8 643.3M335.2 640.9L334.1 642.3M335.9 639.2L335.2 640.9M335.9 639.2L336.4 637.2M336.6 635.0L336.4 637.2M336.4 632.6L336.6 635.0M335.9 630.0L336.4 632.6M335.2 627.5L335.9 630.0M334.1 624.9L335.2 627.5M332.8 622.4L334.1 624.9M331.3 620.1L332.8 622.4M331.3 620.1L329.6 617.9M327.7 616.0L329.6 617.9M325.8 614.3L327.7 616.0M323.7 613.0L325.8 614.3M321.7 612.1L323.7 613.0M319.8 611.6L321.7 612.1M317.9 611.4L319.8 611.6M316.2 611.7L317.9 611.4M316.2 611.7L314.7 612.3M313.4 613.4L314.7 612.3M312.3 614.8L313.4 613.4M311.6 616.5L312.3 614.8M311.1 618.5L311.6 616.5M311.0 620.4L311.1 618.5M323.7 642.6L323.5 642.5M323.7 642.6L325.8 643.6M317.9 610.7L316.4 611.4M317.9 610.7L319.7 610.5L321.5 610.6L323.5 611.1L325.5 612.1L327.5 613.4L329.4 615.0L331.3 616.9M333.0 619.1L331.3 616.9M333.0 619.1L334.5 621.4L335.8 623.9L336.9 626.5L337.7 629.1L338.1 631.6L338.3 634.0L338.1 636.2M337.7 638.2L338.1 636.2M337.7 638.2L336.9 639.9L335.8 641.3L334.5 642.4M316.4 611.4L314.7 612.3M334.5 642.4L332.8 643.3M296.2 656.5L294.8 656.1M297.6 656.6L296.2 656.5M298.8 656.4L297.6 656.6M299.9 655.9L298.8 656.4M300.8 655.2L299.9 655.9M301.6 654.2L300.8 655.2M302.2 652.9L301.6 654.2M302.2 652.9L302.5 651.5M302.6 649.9L302.5 651.5M302.5 648.2L302.6 649.9M302.2 646.3L302.5 648.2M301.6 644.5L302.2 646.3M300.8 642.6L301.6 644.5M299.9 640.8L300.8 642.6M298.8 639.1L299.9 640.8M298.8 639.1L297.6 637.5M296.2 636.2L297.6 637.5M294.8 635.0L296.2 636.2M293.4 634.0L294.8 635.0M291.9 633.4L293.4 634.0M290.5 633.0L291.9 633.4M289.1 632.9L290.5 633.0M287.9 633.1L289.1 632.9M287.9 633.1L286.8 633.5M285.9 634.3L286.8 633.5M285.1 635.3L285.9 634.3M284.5 636.5L285.1 635.3M284.2 638.0L284.5 636.5M284.1 639.6L284.2 638.0M284.2 641.3L284.1 639.6M284.5 643.1L284.2 641.3M284.5 643.1L285.1 645.0M285.9 646.9L285.1 645.0M286.8 648.7L285.9 646.9M287.9 650.4L286.8 648.7M289.1 651.9L287.9 650.4M290.5 653.3L289.1 651.9M291.9 654.5L290.5 653.3M293.4 655.4L291.9 654.5M293.4 655.4L294.8 656.1M318.3 616.2L317.2 616.6M318.3 616.2L319.5 616.0L320.9 616.1L322.3 616.5L323.7 617.1L325.2 618.1L326.6 619.3L328.0 620.6M329.2 622.2L328.0 620.6M329.2 622.2L330.3 623.9L331.2 625.7L332.0 627.6L332.6 629.4L332.9 631.3L333.0 633.0L332.9 634.6M332.6 636.0L332.9 634.6M332.6 636.0L332.0 637.3L331.2 638.3L330.3 639.0M317.2 616.6L286.8 633.5M330.3 639.0L299.9 655.9M405.5 649.3L405.8 649.5M405.5 649.3L405.5 649.3M405.1 647.2L405.5 649.3M405.1 647.2L403.9 645.3M402.4 643.9L403.9 645.3M400.8 643.6L402.4 643.9M399.7 644.2L400.8 643.6M399.3 645.8L399.7 644.2M395.7 643.8L399.3 645.8M395.7 643.8L395.7 643.8M395.3 641.8L395.7 643.8M395.3 641.8L394.2 639.8M392.6 638.5L394.2 639.8M391.0 638.1L392.6 638.5M389.9 638.8L391.0 638.1M389.5 640.4L389.9 638.8M385.9 638.4L389.5 640.4M385.9 638.4L385.9 638.4M385.5 636.4L385.9 638.4M385.5 636.4L384.4 634.4M382.8 633.1L384.4 634.4M381.3 632.7L382.8 633.1M380.1 633.4L381.3 632.7M379.7 634.9L380.1 633.4M376.1 632.9L379.7 634.9M376.1 632.9L376.1 632.9M375.7 630.9L376.1 632.9M375.7 630.9L374.6 629.0M373.0 627.6L374.6 629.0M371.5 627.2L373.0 627.6M370.3 627.9L371.5 627.2M369.9 629.5L370.3 627.9M366.4 627.5L369.9 629.5M366.4 627.5L366.4 627.5M365.9 625.5L366.4 627.5M365.9 625.5L364.8 623.5M363.2 622.2L364.8 623.5M361.7 621.8L363.2 622.2M360.5 622.5L361.7 621.8M360.1 624.0L360.5 622.5M354.8 621.1L360.1 624.0M354.8 656.1L354.8 621.1M360.1 659.0L354.8 656.1M360.1 659.0L360.5 661.1M361.7 663.0L360.5 661.1M363.2 664.4L361.7 663.0M364.8 664.8L363.2 664.4M365.9 664.1L364.8 664.8M366.4 662.5L365.9 664.1M366.4 662.5L366.4 662.5M369.9 664.5L366.4 662.5M369.9 664.5L370.3 666.5M371.5 668.5L370.3 666.5M373.0 669.8L371.5 668.5M374.6 670.2L373.0 669.8M375.7 669.5L374.6 670.2M376.1 667.9L375.7 669.5M376.1 667.9L376.1 667.9M379.7 669.9L376.1 667.9M379.7 669.9L380.1 672.0M381.3 673.9L380.1 672.0M382.8 675.3L381.3 673.9M384.4 675.6L382.8 675.3M385.5 675.0L384.4 675.6M385.9 673.4L385.5 675.0M385.9 673.4L385.9 673.4M389.5 675.4L385.9 673.4M389.5 675.4L389.9 677.4M391.0 679.3L389.9 677.4M392.6 680.7L391.0 679.3M394.2 681.1L392.6 680.7M395.3 680.4L394.2 681.1M395.7 678.8L395.3 680.4M395.7 678.8L395.7 678.8M399.3 680.8L395.7 678.8M399.3 680.8L399.7 682.8M400.8 684.8L399.7 682.8M402.4 686.1L400.8 684.8M403.9 686.5L402.4 686.1M405.1 685.8L403.9 686.5M405.5 684.3L405.1 685.8M405.5 684.3L405.5 684.3M405.8 684.5L405.5 684.3M405.8 684.5L405.8 649.5M358.2 619.1L362.7 621.6M365.1 619.9L366.7 620.2L368.3 621.6L369.4 623.5L369.8 625.6L372.3 626.9M374.9 625.3L376.5 625.7L378.0 627.0L379.2 629.0L379.6 631.0L382.0 632.4M384.7 630.7L386.3 631.1L387.8 632.5L389.0 634.4L389.4 636.5L392.1 637.9M394.5 636.2L396.1 636.6L397.6 637.9L398.8 639.9L399.2 641.9L401.6 643.3M404.3 641.6L405.8 642.0L406.4 642.5M405.8 684.5L407.9 683.3M405.5 684.3L407.6 683.1M405.1 685.8L407.2 684.7M395.7 678.8L396.2 678.6M395.3 680.4L397.1 679.4M385.9 673.4L386.4 673.1M385.5 675.0L387.4 673.9M376.1 667.9L376.6 667.7M375.7 669.5L377.3 668.6M366.4 662.5L366.6 662.4M365.9 664.1L366.4 663.8M354.8 621.1L358.2 619.1M360.1 624.0L360.6 623.8M365.1 619.9L361.7 621.8M366.7 620.2L363.2 622.2M368.3 621.6L364.8 623.5M365.9 625.5L366.4 625.2M366.9 625.0L369.4 623.5M366.4 627.5L366.6 627.4M368.9 626.1L369.8 625.6M366.4 627.5L366.6 627.4M368.9 626.1L369.8 625.6M369.9 629.5L370.4 629.2M374.9 625.3L371.5 627.2M376.5 625.7L373.0 627.6M378.0 627.0L374.6 629.0M375.7 630.9L376.2 630.7M376.6 630.4L379.2 629.0M376.1 632.9L376.6 632.7M378.7 631.5L379.6 631.0M376.1 632.9L376.6 632.7M378.7 631.5L379.6 631.0M379.7 634.9L380.2 634.7M384.7 630.7L381.3 632.7M386.3 631.1L382.8 633.1M387.8 632.5L384.4 634.4M385.5 636.4L386.0 636.1M386.4 635.8L389.0 634.4M385.9 638.4L386.4 638.1M388.0 637.2L389.4 636.5M385.9 638.4L386.4 638.1M388.0 637.2L389.4 636.5M389.5 640.4L389.9 640.1M394.5 636.2L391.0 638.1M396.1 636.6L392.6 638.5M397.6 637.9L394.2 639.8M395.3 641.8L398.8 639.9M395.7 643.8L396.2 643.6M397.3 642.9L399.2 641.9M395.7 643.8L396.2 643.6M397.3 642.9L399.2 641.9M399.3 645.8L399.7 645.5M404.3 641.6L400.8 643.6M405.8 642.0L402.4 643.9M406.5 643.9L403.9 645.3M405.1 647.2L407.2 646.1M405.5 649.3L407.6 648.1M405.5 649.3L407.6 648.1M405.8 649.5L407.9 648.3M412.8 684.4L407.2 681.3M412.8 691.4L406.3 687.8M406.3 684.5L406.3 687.8M412.8 684.4L412.8 691.4M406.3 642.3L407.8 641.5M412.8 645.9L406.3 642.3M412.8 652.9L407.2 649.8M406.3 642.3L406.3 646.3M412.8 645.9L412.8 652.9M373.7 603.7L381.5 608.1M371.6 604.9L373.7 603.7M379.3 609.3L371.6 604.9M379.3 609.3L381.5 608.1M379.3 620.3L371.6 615.9M379.3 620.3L381.5 619.1M371.6 604.9L371.6 615.9M379.3 609.3L379.3 620.3M381.5 608.1L381.5 619.1M329.5 579.1L337.3 583.5M327.3 580.3L329.5 579.1M335.1 584.7L327.3 580.3M335.1 584.7L337.3 583.5M335.1 595.7L327.3 591.3M335.1 595.7L337.3 594.5M327.3 580.3L327.3 591.3M335.1 584.7L335.1 595.7M337.3 583.5L337.3 594.5M301.5 566.0L301.3 565.9M300.8 565.6L293.7 561.7M301.5 577.0L301.3 576.9M300.8 576.6L293.7 572.7M293.7 561.7L293.7 572.7M301.5 566.0L301.5 577.0M295.9 614.0L303.7 618.3M293.7 615.2L295.9 614.0M301.5 619.5L293.7 615.2M301.5 619.5L303.7 618.3M296.1 628.5L293.7 627.2M293.7 615.2L293.7 627.2M301.5 619.5L301.5 625.7M303.7 618.3L303.7 624.3M414.9 642.7L415.4 642.9M413.5 644.0L413.0 643.7M413.5 644.0L415.4 642.9M413.5 695.5L408.3 692.6M413.5 695.5L415.4 694.4M408.3 641.6L408.3 692.6M413.5 644.0L413.5 695.5M415.4 642.9L415.4 694.4M293.1 628.5L291.8 627.8M293.1 628.5L294.8 627.6M291.8 576.8L291.8 627.8M293.1 577.5L293.1 628.5M295.0 578.7L295.0 615.0M392.4 561.1L409.3 570.5M343.9 588.1L392.4 561.1M360.8 597.5L343.9 588.1M360.8 597.5L409.3 570.5M360.8 600.5L356.0 597.8M355.5 597.6L354.2 596.8M353.8 596.6L352.5 595.9M352.0 595.6L343.9 591.1M360.8 600.5L409.3 573.5M343.9 588.1L343.9 591.1M360.8 597.5L360.8 600.5M409.3 570.5L409.3 573.5M350.0 589.6L358.2 594.1M347.8 590.8L350.0 589.6M356.1 595.3L347.8 590.8M356.1 595.3L358.2 594.1M356.1 607.3L347.8 602.8M356.1 607.3L358.2 606.1M347.8 590.8L347.8 602.8M356.1 595.3L356.1 607.3M358.2 594.1L358.2 594.6M358.2 598.6L358.2 606.1M397.2 563.3L405.4 567.9M395.0 564.5L397.2 563.3M403.2 569.1L395.0 564.5M403.2 569.1L405.4 567.9M395.0 564.5L395.0 564.8M403.2 569.1L403.2 569.3M405.4 567.9L405.4 568.6M463.0 615.3L463.3 615.4L464.1 616.0L464.9 616.8L465.6 617.8M466.1 618.9L465.6 617.8M466.1 618.9L466.4 620.0L466.6 621.0L466.4 622.0L466.1 622.7L465.6 623.2L462.1 625.1M464.0 605.5L464.7 605.6M465.5 606.4L464.7 605.6M465.5 606.4L466.0 607.4L466.0 608.3L465.5 608.8M462.9 606.1L464.0 605.5M462.8 610.3L465.5 608.8M420.9 577.5L428.7 581.8M418.7 578.7L420.9 577.5M426.5 583.0L418.7 578.7M426.5 583.0L428.7 581.8M418.7 578.7L418.7 581.2M426.5 583.0L426.5 585.3M428.7 581.8L428.7 586.3M376.7 552.9L384.5 557.2M374.5 554.1L376.7 552.9M382.3 558.4L374.5 554.1M382.3 558.4L384.5 557.2M374.5 554.1L374.5 556.4M382.3 558.4L382.3 560.9M384.5 557.2L384.5 562.0M461.9 616.6L462.3 616.8M460.4 617.9L460.0 617.6M460.4 617.9L462.3 616.8M460.4 669.4L460.0 669.1M460.4 669.4L462.3 668.3M460.4 617.9L460.4 669.4M462.3 616.8L462.3 668.3M409.3 708.8L408.7 708.3L408.1 707.6L407.8 706.8L407.7 706.0L407.8 705.4L408.1 704.9L408.7 704.8L409.3 705.0L409.9 705.5L410.5 706.2L410.8 707.0L411.0 707.8L410.8 708.5L410.5 708.9L409.9 709.0L409.3 708.8M448.7 686.9L448.1 686.4L447.5 685.7L447.2 684.9L447.1 684.1L447.2 683.4L447.5 683.0L448.1 682.9L448.7 683.1L449.3 683.6L449.9 684.3L450.2 685.1L450.4 685.9L450.2 686.6L449.9 687.0L449.3 687.1L448.7 686.9M409.3 631.3L408.7 630.8L408.1 630.1L407.8 629.3L407.7 628.5L407.8 627.9L408.1 627.4L408.7 627.3L409.3 627.5L409.9 628.0L410.5 628.7L410.8 629.5L411.0 630.3L410.8 631.0L410.5 631.4L409.9 631.5L409.3 631.3M448.7 609.4L448.1 608.9L447.5 608.2L447.2 607.4L447.1 606.6L447.2 605.9L447.5 605.5L448.1 605.4L448.7 605.6L449.3 606.1L449.9 606.8L450.2 607.6L450.4 608.4L450.2 609.1L449.9 609.5L449.3 609.6L448.7 609.4M397.5 614.1L398.7 613.6L400.1 613.6L401.5 613.8L402.5 614.4L402.9 615.1L402.8 615.9L402.0 616.6L400.8 617.0L399.4 617.1L398.1 616.8L397.1 616.3L396.6 615.5L396.8 614.7L397.5 614.1M439.1 590.9L440.3 590.5L441.7 590.4L443.0 590.7L444.0 591.3L444.5 592.0L444.4 592.8L443.6 593.5L442.4 593.9L441.0 594.0L439.7 593.7L438.7 593.1L438.2 592.4L438.3 591.6L439.1 590.9M294.6 567.5L293.9 567.0L293.4 566.3L293.0 565.5L292.9 564.7L293.0 564.1L293.4 563.6L293.9 563.5L294.6 563.7L295.2 564.2L295.7 564.9L296.1 565.7L296.2 566.5L296.1 567.2L295.7 567.6L295.2 567.7L294.6 567.5M334.0 545.6L333.3 545.1L332.8 544.4L332.4 543.6L332.3 542.8L332.4 542.1L332.8 541.7L333.3 541.6L334.0 541.8L334.6 542.3L335.1 543.0L335.5 543.8L335.6 544.6L335.5 545.3L335.1 545.7L334.6 545.8L334.0 545.6M317.2 654.9L316.7 655.0M312.7 566.9L313.9 566.5L315.3 566.4L316.6 566.6L317.6 567.2L318.1 567.9L317.9 568.7L317.2 569.4L316.0 569.8L314.6 569.9L313.2 569.6L312.2 569.1L311.8 568.3L311.9 567.5L312.7 566.9M354.2 543.8L355.4 543.3L356.8 543.3L358.2 543.5L359.2 544.1L359.6 544.8L359.5 545.6L358.7 546.3L357.5 546.7L356.1 546.8L354.8 546.5L353.8 546.0L353.3 545.2L353.5 544.4L354.2 543.8M418.3 695.8L418.2 696.6L417.8 697.4L417.3 698.1L416.7 698.6L416.0 698.8L415.5 698.7L415.1 698.3L415.0 697.6L415.1 696.8L415.5 696.0L416.0 695.3L416.7 694.8L417.3 694.6L417.8 694.7L418.2 695.1L418.3 695.8M418.3 638.3L418.2 639.1L417.8 639.9L417.3 640.6L416.7 641.1L416.0 641.3L415.5 641.2L415.1 640.8L415.0 640.1L415.1 639.3L415.5 638.5L416.0 637.8L416.7 637.3L417.3 637.1L417.8 637.2L418.2 637.6L418.3 638.3M460.7 672.2L460.6 673.0L460.3 673.8L459.7 674.5L459.1 675.0L458.5 675.2L457.9 675.1L457.6 674.7L457.5 674.0L457.6 673.2L457.9 672.4L458.5 671.7L459.1 671.2L459.7 671.0L460.3 671.1L460.6 671.5L460.7 672.2M460.7 614.7L460.6 615.5L460.3 616.3L459.7 617.0L459.1 617.5L458.5 617.7L457.9 617.6L457.6 617.2L457.5 616.5L457.6 615.7L457.9 614.9L458.5 614.2L459.1 613.7L459.7 613.5L460.3 613.6L460.6 614.0L460.7 614.7M375.4 688.4L374.7 687.8L374.0 687.0L373.6 686.0L373.5 685.0L373.6 684.2L374.0 683.7L374.7 683.6L375.4 683.8L376.2 684.4L376.9 685.3L377.3 686.3L377.4 687.2L377.3 688.0L376.9 688.5L376.2 688.7L375.4 688.4M331.2 663.8L330.4 663.2L329.8 662.4L329.4 661.4L329.2 660.4L329.4 659.6L329.8 659.1L330.4 659.0L331.2 659.2L332.0 659.8L332.6 660.7L333.0 661.7L333.2 662.6L333.0 663.4L332.6 663.9L332.0 664.1L331.2 663.8M313.1 619.1L313.5 617.8L314.3 616.3L315.4 615.1L316.7 614.3L318.3 613.9L320.0 613.9L321.9 614.4L323.7 615.2L325.6 616.5L327.5 618.1L329.2 620.0L330.8 622.1L332.1 624.4L333.2 626.8L334.0 629.2L334.5 631.6L334.7 633.9L334.5 636.0L334.0 637.8L333.2 639.4L332.1 640.6L330.8 641.4L329.2 641.8L327.5 641.8L325.6 641.3M293.4 654.3L291.7 653.3L290.2 651.8L288.7 650.2L287.5 648.3L286.4 646.2L285.7 644.1L285.2 642.1L285.0 640.1L285.2 638.3L285.7 636.8L286.4 635.6L287.5 634.7L288.7 634.2L290.2 634.1L291.7 634.4L293.4 635.1L295.0 636.2L296.5 637.6L298.0 639.3L299.2 641.2L300.3 643.2L301.0 645.3L301.5 647.4L301.7 649.4L301.5 651.1L301.0 652.7L300.3 653.9L299.2 654.8L298.0 655.3L296.5 655.4L295.0 655.1L293.4 654.3M293.4 647.7L292.2 646.8L291.3 645.5L290.8 644.0L290.8 642.7L291.3 641.7L292.2 641.4L293.4 641.7L294.5 642.7L295.4 644.0L295.9 645.5L295.9 646.8L295.4 647.7L294.5 648.1L293.4 647.7M293.4 646.3L292.5 645.6L292.0 644.5L292.0 643.5L292.5 643.0L293.4 643.1L294.2 643.9L294.7 645.0L294.7 646.0L294.2 646.5L293.4 646.3M308.0 597.2L295.4 590.2L295.4 611.7L307.5 618.5M308.0 603.0L308.0 597.2M304.5 595.8L304.5 616.3M301.5 594.1L301.5 614.6M298.5 592.4L298.5 612.9M402.8 649.8L357.8 624.7L357.8 655.7L402.8 680.8L402.8 649.8M408.4 690.5L341.6 653.4M392.0 683.4L339.9 654.4M368.6 670.4L368.6 680.4M362.5 667.0L362.5 677.0M353.9 662.2L353.9 672.2M347.8 658.8L347.8 668.8M368.6 680.4L338.3 663.6M407.3 638.4L358.2 611.1M409.6 687.8L409.0 687.4L408.5 686.7L408.2 686.0L408.1 685.3L408.2 684.7L408.5 684.3L409.0 684.2L409.6 684.4L410.1 684.8L410.6 685.5L410.9 686.2L411.0 686.9L410.9 687.5L410.6 687.9L410.1 688.0L409.6 687.8M409.6 649.3L409.0 648.9L408.5 648.2L408.2 647.5L408.1 646.8L408.2 646.2L408.5 645.8L409.0 645.7L409.6 645.9L410.1 646.3L410.6 647.0L410.9 647.7L411.0 648.4L410.9 649.0L410.6 649.4L410.1 649.5L409.6 649.3M375.4 614.3L374.7 613.7L374.1 612.9L373.7 612.0L373.5 611.1L373.7 610.3L374.1 609.8L374.7 609.7L375.4 609.9L376.2 610.5L376.8 611.3L377.2 612.3L377.4 613.2L377.2 613.9L376.8 614.4L376.2 614.6L375.4 614.3M331.2 589.7L330.5 589.1L329.8 588.3L329.4 587.4L329.3 586.5L329.4 585.7L329.8 585.2L330.5 585.1L331.2 585.3L331.9 585.9L332.5 586.7L333.0 587.6L333.1 588.6L333.0 589.3L332.5 589.8L331.9 589.9L331.2 589.7M297.6 571.0L296.9 570.5L296.2 569.6L295.8 568.7L295.7 567.8L295.8 567.0L296.2 566.5L296.9 566.4L297.6 566.6L298.3 567.2L298.9 568.0L299.4 569.0L299.5 569.9L299.4 570.7L298.9 571.1L298.3 571.3L297.6 571.0M297.6 625.5L296.9 625.0L296.2 624.1L295.8 623.2L295.7 622.3L295.8 621.5L296.2 621.0L296.9 620.9L297.6 621.1L298.3 621.7L298.9 622.5L299.4 623.5L299.5 624.4L299.4 625.2L298.9 625.6L298.3 625.8L297.6 625.5M359.7 596.9L408.2 569.9M353.2 589.9L354.4 589.5L355.8 589.4L357.1 589.6L358.1 590.2L358.6 590.9L358.4 591.7L357.7 592.4L356.5 592.8L355.1 592.9L353.7 592.6L352.7 592.1L352.3 591.3L352.4 590.6L353.2 589.9M395.6 566.3L396.8 565.9L398.2 565.8L399.6 566.0L400.6 566.6L401.0 567.4L400.9 568.1L400.1 568.8L398.9 569.2L397.5 569.3L396.2 569.0L395.2 568.5L394.7 567.7L394.9 567.0L395.6 566.3M352.0 601.9L351.2 601.3L350.6 600.4L350.1 599.4L350.0 598.5L350.1 597.7L350.6 597.2L351.2 597.0L352.0 597.3L352.7 597.9L353.4 598.7L353.8 599.7L354.0 600.7L353.8 601.5L353.4 602.0L352.7 602.1L352.0 601.9"/>
<path stroke-width="1.15" d="M307.6 597.8L295.9 591.3M307.6 599.6L295.9 593.1M307.6 601.4L295.9 594.9M307.6 603.2L295.9 596.7M307.6 605.0L295.9 598.5M307.6 606.8L295.9 600.3M307.6 608.6L295.9 602.1M307.6 610.4L295.9 603.9M307.6 612.2L295.9 605.7M307.6 614.0L295.9 607.5M307.6 615.8L295.9 609.3M307.6 617.6L295.9 611.1"/>
<path stroke-width="1.3" d="M388.5 676.0L385.9 674.5M380.2 671.3L376.0 669.0M388.5 677.1L384.8 675.1M380.9 672.9L374.9 669.6M388.5 678.3L371.2 668.6M388.5 679.4L371.2 669.8M388.5 680.6L371.2 670.9"/>
<path fill="#111" stroke="none" d="M334.4 649.4a1.5 1.5 0 1 0 3.0 0a1.5 1.5 0 1 0 -3.0 0ZM344.9 643.1a1.5 1.5 0 1 0 3.0 0a1.5 1.5 0 1 0 -3.0 0ZM344.9 626.1a1.5 1.5 0 1 0 3.0 0a1.5 1.5 0 1 0 -3.0 0ZM334.4 608.2a1.5 1.5 0 1 0 3.0 0a1.5 1.5 0 1 0 -3.0 0ZM319.6 600.0a1.5 1.5 0 1 0 3.0 0a1.5 1.5 0 1 0 -3.0 0ZM309.2 606.2a1.5 1.5 0 1 0 3.0 0a1.5 1.5 0 1 0 -3.0 0ZM400.8 683.3a1.6 1.6 0 1 0 3.2 0a1.6 1.6 0 1 0 -3.2 0ZM400.8 646.7a1.6 1.6 0 1 0 3.2 0a1.6 1.6 0 1 0 -3.2 0ZM391.0 677.9a1.6 1.6 0 1 0 3.2 0a1.6 1.6 0 1 0 -3.2 0ZM391.0 641.3a1.6 1.6 0 1 0 3.2 0a1.6 1.6 0 1 0 -3.2 0ZM381.2 672.5a1.6 1.6 0 1 0 3.2 0a1.6 1.6 0 1 0 -3.2 0ZM381.2 635.9a1.6 1.6 0 1 0 3.2 0a1.6 1.6 0 1 0 -3.2 0ZM371.4 667.0a1.6 1.6 0 1 0 3.2 0a1.6 1.6 0 1 0 -3.2 0ZM371.4 630.4a1.6 1.6 0 1 0 3.2 0a1.6 1.6 0 1 0 -3.2 0ZM361.6 661.6a1.6 1.6 0 1 0 3.2 0a1.6 1.6 0 1 0 -3.2 0ZM361.6 625.0a1.6 1.6 0 1 0 3.2 0a1.6 1.6 0 1 0 -3.2 0ZM402.9 657.6a1.4 1.4 0 1 0 2.8 0a1.4 1.4 0 1 0 -2.8 0ZM354.9 630.9a1.4 1.4 0 1 0 2.8 0a1.4 1.4 0 1 0 -2.8 0ZM402.9 674.6a1.4 1.4 0 1 0 2.8 0a1.4 1.4 0 1 0 -2.8 0ZM354.9 647.9a1.4 1.4 0 1 0 2.8 0a1.4 1.4 0 1 0 -2.8 0ZM383.1 661.9a1.5 1.5 0 1 0 3.0 0a1.5 1.5 0 1 0 -3.0 0ZM383.1 640.7a1.5 1.5 0 1 0 3.0 0a1.5 1.5 0 1 0 -3.0 0Z"/>
</g>
<g id="M4" stroke="#111" stroke-width="1.06">
<path d="M519.7 461.2L522.2 459.0M528.1 453.6L528.3 453.4M516.2 477.7L516.4 476.5M516.2 561.7L516.2 548.2M516.2 537.5L516.2 524.5M516.2 513.2L516.2 497.0M516.2 486.2L516.2 477.7M583.7 515.3L583.7 523.3M583.7 534.5L583.7 574.3M583.7 585.5L583.7 599.0M583.5 513.5L583.7 515.3M571.6 477.5L572.0 478.2M571.6 477.5L528.3 453.4M616.7 452.5L617.0 453.2M628.6 489.0L628.7 489.7M628.8 573.5L628.8 574.2M616.7 452.5L573.4 428.4M594.3 489.5L618.3 476.1M571.6 477.5L616.7 452.5M583.7 515.3L584.2 515.0M587.0 513.4L588.8 512.5M624.4 492.6L626.6 491.4M594.5 597.8L620.9 583.1M618.3 593.2L594.3 606.6M528.3 453.4L573.4 428.4M569.0 485.5L569.0 479.0M577.2 490.0L569.0 485.5M577.2 510.5L577.2 490.0M583.7 514.1L577.2 510.5M583.7 487.1L583.7 514.1M583.7 487.1L569.0 479.0M594.6 481.1L594.6 508.1M579.8 472.9L594.6 481.1M583.7 514.1L594.6 508.1M583.7 487.1L594.6 481.1M579.8 472.9L569.0 479.0M511.0 473.7L511.0 446.7M517.5 477.3L511.0 473.7M517.5 456.8L517.5 477.3M525.7 461.4L517.5 456.8M525.7 454.9L525.7 461.4M525.7 454.9L511.0 446.7M536.5 448.9L536.5 449.4M521.8 440.7L536.5 448.9M525.7 461.4L527.0 460.6M525.7 454.9L536.5 448.9M517.9 456.6L517.5 456.8M520.4 475.7L517.5 477.3M521.8 440.7L511.0 446.7M608.4 457.8L608.4 457.1M616.7 468.1L612.2 465.7M616.7 474.6L616.7 468.1M623.1 492.2L619.6 490.2M623.1 465.2L623.1 492.2M623.1 465.2L608.4 457.1M634.0 459.2L634.0 486.2M619.2 451.0L634.0 459.2M623.1 492.2L634.0 486.2M623.1 465.2L634.0 459.2M619.2 451.0L608.4 457.1M550.4 441.3L550.4 424.8M556.9 434.9L556.9 437.9M559.6 436.4L556.9 434.9M565.1 433.0L565.1 433.5M565.1 433.0L550.4 424.8M575.9 427.0L575.9 428.0M561.2 418.8L575.9 427.0M565.1 433.0L575.9 427.0M557.3 434.7L556.9 434.9M561.2 418.8L550.4 424.8M583.7 601.6L583.7 627.6M577.2 598.0L583.7 601.6M577.2 617.5L577.2 598.0M569.0 613.0L577.2 617.5M569.0 619.5L569.0 613.0M569.0 619.5L583.7 627.6M593.0 594.8L594.6 595.6L594.6 621.6M569.0 613.0L571.9 611.4M577.7 617.3L577.2 617.5M580.3 596.3L577.2 598.0M594.6 595.6L583.7 601.6M594.6 621.6L583.7 627.6M525.7 589.1L525.7 595.4M511.0 561.2L517.3 564.7M511.0 568.2L511.0 561.2M520.0 592.2L525.7 595.4M511.0 561.2L516.3 558.3M526.8 594.8L525.7 595.4M623.1 579.7L623.1 605.7M621.6 578.9L623.1 579.7M616.7 595.6L616.7 593.9M615.1 594.8L616.7 595.6M609.3 598.0L623.1 605.7M629.9 571.5L634.0 573.7L634.0 599.7M617.1 595.4L616.7 595.6M634.0 573.7L623.1 579.7M634.0 599.7L623.1 605.7M587.6 593.0L588.0 593.8M587.5 514.4L588.0 512.9M589.0 511.3L588.0 512.9M589.9 510.3L589.0 511.3M621.0 492.6L594.4 507.3M622.3 492.1L621.0 492.6M623.5 492.1L622.3 492.1M622.7 578.5L624.1 577.5L625.3 576.1L626.2 574.5L626.8 572.8L627.0 571.1L627.0 546.9M627.0 524.4L627.0 496.1L626.8 494.7M626.2 493.6L626.8 494.7M626.2 493.6L625.3 493.1L624.1 493.0L622.7 493.5L593.3 509.9L591.9 510.9L590.7 512.3L589.8 513.9M589.2 515.6L589.8 513.9M589.2 515.6L588.9 517.3L588.9 592.3L589.2 593.7L589.8 594.8L590.7 595.3L591.9 595.4L593.3 594.9M622.7 578.5L593.3 594.9M623.5 492.1L625.3 493.1M588.0 593.8L589.8 594.8M583.7 514.3L583.7 523.3M583.7 534.5L583.7 574.3M583.7 585.5L583.7 597.3M583.7 514.3L586.3 512.8M585.0 515.0L585.0 598.0L587.6 596.5L587.6 513.5M585.0 515.0L587.6 513.5M583.7 597.3L585.0 598.0M583.7 514.3L585.0 515.0M586.3 512.8L587.6 513.5M626.2 490.7L626.2 494.2M626.2 490.7L628.8 489.2M627.5 491.4L627.5 523.9M627.5 546.6L627.5 574.4L630.1 572.9L630.1 545.2M630.1 522.4L630.1 489.9M627.5 491.4L630.1 489.9M626.4 573.8L627.5 574.4M626.2 490.7L627.5 491.4M628.8 489.2L630.1 489.9M626.6 525.3L626.6 547.3L631.4 544.7L631.4 522.7M626.6 525.3L631.4 522.7M625.4 546.7L626.6 547.3M625.4 524.7L626.6 525.3M629.7 521.7L631.4 522.7M574.7 520.2L574.7 530.2M574.7 520.2L576.8 519.0M583.3 525.0L583.3 535.0L585.5 533.8L585.5 523.8M583.3 525.0L585.5 523.8M574.7 530.2L583.3 535.0M574.7 520.2L583.3 525.0M576.8 519.0L585.5 523.8M574.7 571.3L574.7 581.3M574.7 571.3L576.8 570.1M583.3 576.1L583.3 586.1L585.5 584.9L585.5 574.9M583.3 576.1L585.5 574.9M574.7 581.3L583.3 586.1M574.7 571.3L583.3 576.1M576.8 570.1L585.5 574.9M569.7 585.4L556.5 593.3M569.7 563.8L569.7 585.4M556.5 541.3L569.7 563.8M537.9 530.9L556.5 541.3M524.7 538.8L537.9 530.9M524.7 560.3L524.7 538.8M537.9 582.9L540.1 584.1M540.5 584.4L549.1 589.1M549.5 589.4L556.5 593.3M561.1 541.3L573.2 561.9L573.2 583.5M540.2 529.6L537.9 530.9M556.5 541.3L558.6 540.1M573.2 561.9L569.7 563.8M569.7 585.4L573.2 583.5M566.5 584.8L554.2 592.2M566.5 564.7L566.5 584.8M554.2 543.6L566.5 564.7M536.8 533.9L554.2 543.6M524.4 541.3L536.8 533.9M524.4 560.7L524.4 541.3M537.2 582.8L554.2 592.2M538.5 532.9L555.9 542.6L568.2 563.7L568.2 583.9M538.5 532.9L536.8 533.9M554.2 543.6L555.9 542.6M568.2 563.7L566.5 564.7M566.5 584.8L568.2 583.9M559.8 568.0L560.4 571.5M558.7 564.5L559.8 568.0M557.2 560.9L558.7 564.5M555.4 557.5L557.2 560.9M553.3 554.2L555.4 557.5M550.9 551.2L553.3 554.2M548.4 548.5L550.9 551.2M548.4 548.5L545.6 546.3M542.9 544.5L545.6 546.3M540.1 543.2L542.9 544.5M537.4 542.4L540.1 543.2M534.8 542.2L537.4 542.4M532.4 542.6L534.8 542.2M530.3 543.5L532.4 542.6M528.5 544.9L530.3 543.5M528.5 544.9L527.1 546.9M526.0 549.3L527.1 546.9M525.3 552.0L526.0 549.3M525.1 555.1L525.3 552.0M525.3 558.4L525.1 555.1M525.6 559.9L525.3 558.4M540.1 583.7L538.2 582.1M542.9 585.5L540.1 583.7M545.6 586.8L542.9 585.5M548.4 587.5L545.6 586.8M548.4 587.5L550.9 587.7M553.3 587.4L550.9 587.7M555.4 586.5L553.3 587.4M557.2 585.0L555.4 586.5M558.7 583.1L557.2 585.0M559.8 580.7L558.7 583.1M560.4 577.9L559.8 580.7M560.6 574.8L560.4 577.9M560.6 574.8L560.4 571.5M563.7 573.2L563.4 576.2L562.8 579.0L561.7 581.4L560.3 583.3L558.5 584.8M533.3 541.8L535.5 540.9L537.8 540.5L540.4 540.7L543.1 541.5L545.9 542.8L548.7 544.6M551.4 546.8L548.7 544.6M551.4 546.8L554.0 549.5L556.3 552.5L558.5 555.8L560.3 559.2L561.7 562.8L562.8 566.3L563.4 569.8M563.7 573.2L563.4 569.8M558.5 584.8L555.4 586.5M533.3 541.8L530.3 543.5M553.3 568.1L553.8 570.7M552.6 565.6L553.3 568.1M551.5 563.0L552.6 565.6M550.2 560.5L551.5 563.0M548.7 558.2L550.2 560.5M547.0 556.0L548.7 558.2M545.1 554.1L547.0 556.0M545.1 554.1L543.1 552.4M541.1 551.1L543.1 552.4M539.1 550.2L541.1 551.1M537.2 549.7L539.1 550.2M535.3 549.5L537.2 549.7M533.6 549.8L535.3 549.5M532.1 550.4L533.6 549.8M530.8 551.5L532.1 550.4M530.8 551.5L529.7 552.9M528.9 554.6L529.7 552.9M528.5 556.6L528.9 554.6M528.4 558.3L528.5 556.6M541.1 580.7L540.9 580.6M543.1 581.7L541.1 580.7M545.1 582.2L543.1 581.7M545.1 582.2L547.0 582.4M548.7 582.1L547.0 582.4M550.2 581.4L548.7 582.1M551.5 580.4L550.2 581.4M552.6 579.0L551.5 580.4M553.3 577.3L552.6 579.0M553.8 575.3L553.3 577.3M554.0 573.1L553.8 575.3M554.0 573.1L553.8 570.7M555.7 572.1L555.5 574.3L555.1 576.3L554.3 578.0L553.2 579.4L551.9 580.5M533.8 549.5L535.3 548.8L537.1 548.6L538.9 548.7L540.9 549.2L542.9 550.2L544.9 551.5M546.8 553.1L544.9 551.5M546.8 553.1L548.7 555.0L550.4 557.2L551.9 559.6L553.2 562.0L554.3 564.6L555.1 567.2L555.5 569.7M555.7 572.1L555.5 569.7M551.9 580.5L550.2 581.4M533.8 549.5L532.1 550.4M519.6 584.4L519.9 586.3M519.0 582.6L519.6 584.4M518.2 580.7L519.0 582.6M517.3 578.9L518.2 580.7M516.2 577.2L517.3 578.9M514.9 575.6L516.2 577.2M513.6 574.3L514.9 575.6M513.6 574.3L512.2 573.1M510.7 572.1L512.2 573.1M509.3 571.5L510.7 572.1M507.9 571.1L509.3 571.5M506.5 571.0L507.9 571.1M505.3 571.2L506.5 571.0M504.2 571.6L505.3 571.2M503.2 572.4L504.2 571.6M503.2 572.4L502.5 573.4M501.9 574.6L502.5 573.4M501.6 576.1L501.9 574.6M501.5 577.7L501.6 576.1M501.6 579.4L501.5 577.7M501.9 581.2L501.6 579.4M502.5 583.1L501.9 581.2M503.2 585.0L502.5 583.1M503.2 585.0L504.2 586.8M505.3 588.5L504.2 586.8M506.5 590.0L505.3 588.5M507.9 591.4L506.5 590.0M509.3 592.6L507.9 591.4M510.7 593.5L509.3 592.6M512.2 594.2L510.7 593.5M513.6 594.6L512.2 594.2M513.6 594.6L514.9 594.7M516.2 594.5L514.9 594.7M517.3 594.1L516.2 594.5M518.2 593.3L517.3 594.1M519.0 592.3L518.2 593.3M519.6 591.0L519.0 592.3M519.9 589.6L519.6 591.0M520.0 588.0L519.9 589.6M520.0 588.0L519.9 586.3M550.4 571.1L550.3 572.7L549.9 574.1L549.4 575.4L548.6 576.4L547.7 577.2M534.6 554.7L535.7 554.3L536.9 554.1L538.3 554.2L539.7 554.6L541.1 555.2L542.6 556.2M544.0 557.4L542.6 556.2M544.0 557.4L545.3 558.7L546.6 560.3L547.7 562.0L548.6 563.8L549.4 565.7L549.9 567.5L550.3 569.4M550.4 571.1L550.3 569.4M547.7 577.2L517.3 594.1M534.6 554.7L504.2 571.6M533.1 467.3L533.1 466.9M533.1 467.3L533.1 467.3M531.5 467.0L533.1 467.3M531.5 467.0L530.4 467.6M530.0 469.2L530.4 467.6M530.4 471.2L530.0 469.2M531.5 473.2L530.4 471.2M533.1 474.5L531.5 473.2M533.1 478.6L533.1 474.5M533.1 478.6L533.1 478.6M531.5 478.3L533.1 478.6M531.5 478.3L530.4 478.9M530.0 480.5L530.4 478.9M530.4 482.5L530.0 480.5M531.5 484.5L530.4 482.5M533.1 485.8L531.5 484.5M533.1 489.9L533.1 485.8M533.1 489.9L533.1 489.9M531.5 489.6L533.1 489.9M531.5 489.6L530.4 490.2M530.0 491.8L530.4 490.2M530.4 493.8L530.0 491.8M531.5 495.8L530.4 493.8M533.1 497.1L531.5 495.8M533.1 501.2L533.1 497.1M533.1 501.2L533.1 501.2M531.5 500.9L533.1 501.2M531.5 500.9L530.4 501.5M530.0 503.1L530.4 501.5M530.4 505.1L530.0 503.1M531.5 507.1L530.4 505.1M533.1 508.4L531.5 507.1M533.1 512.5L533.1 508.4M533.1 512.5L533.1 512.5M531.5 512.2L533.1 512.5M531.5 512.2L530.4 512.8M530.0 514.4L530.4 512.8M530.4 516.4L530.0 514.4M531.5 518.4L530.4 516.4M533.1 519.7L531.5 518.4M533.1 525.9L533.1 519.7M563.4 542.8L533.1 525.9M563.4 536.6L563.4 542.8M563.4 536.6L565.0 537.0M566.1 536.3L565.0 537.0M566.5 534.7L566.1 536.3M566.1 532.7L566.5 534.7M565.0 530.7L566.1 532.7M563.4 529.4L565.0 530.7M563.4 529.4L563.4 529.4M563.4 525.3L563.4 529.4M563.4 525.3L565.0 525.7M566.1 525.0L565.0 525.7M566.5 523.4L566.1 525.0M566.1 521.4L566.5 523.4M565.0 519.4L566.1 521.4M563.4 518.1L565.0 519.4M563.4 518.1L563.4 518.1M563.4 514.0L563.4 518.1M563.4 514.0L565.0 514.4M566.1 513.7L565.0 514.4M566.5 512.1L566.1 513.7M566.1 510.1L566.5 512.1M565.0 508.1L566.1 510.1M563.4 506.8L565.0 508.1M563.4 506.8L563.4 506.8M563.4 502.7L563.4 506.8M563.4 502.7L565.0 503.1M566.1 502.4L565.0 503.1M566.5 500.8L566.1 502.4M566.1 498.8L566.5 500.8M565.0 496.8L566.1 498.8M563.4 495.5L565.0 496.8M563.4 495.5L563.4 495.5M563.4 491.4L563.4 495.5M563.4 491.4L565.0 491.8M566.1 491.1L565.0 491.8M566.5 489.5L566.1 491.1M566.1 487.5L566.5 489.5M565.0 485.5L566.1 487.5M563.4 484.2L565.0 485.5M563.4 484.2L563.4 484.2M563.4 483.8L563.4 484.2M563.4 483.8L533.1 466.9M569.7 486.3L570.0 487.6L569.6 489.2M566.9 490.5L566.9 493.6L568.4 494.9M569.6 496.9L568.4 494.9M569.6 496.9L570.0 498.9L569.6 500.5M566.9 501.5L566.9 504.9L568.4 506.2M569.6 508.2L568.4 506.2M569.6 508.2L570.0 510.2L569.6 511.8M566.9 512.8L566.9 516.2L568.4 517.5M569.6 519.5L568.4 517.5M569.6 519.5L570.0 521.5L569.6 523.1M566.9 524.4L566.9 527.5L568.4 528.8M569.6 530.8L568.4 528.8M569.6 530.8L570.0 532.8L569.6 534.4M566.9 535.7L566.9 540.9M563.4 484.2L565.5 483.0M563.4 483.8L565.5 482.6M563.4 484.2L565.5 483.0M565.0 485.5L567.0 484.4M568.6 486.1L566.1 487.5M570.0 487.6L566.5 489.5M569.6 489.2L566.1 491.1M563.4 491.4L563.9 491.1M563.4 495.5L566.9 493.6M563.4 495.5L566.9 493.6M565.0 496.8L568.4 494.9M569.6 496.9L566.1 498.8M570.0 498.9L566.5 500.8M569.6 500.5L566.1 502.4M563.4 502.7L563.9 502.4M563.4 506.8L566.9 504.9M563.4 506.8L566.9 504.9M565.0 508.1L568.4 506.2M569.6 508.2L566.1 510.1M570.0 510.2L566.5 512.1M569.6 511.8L566.1 513.7M563.4 514.0L563.6 513.9M563.4 518.1L566.9 516.2M563.4 518.1L566.9 516.2M565.0 519.4L568.4 517.5M569.6 519.5L566.1 521.4M570.0 521.5L566.5 523.4M569.6 523.1L566.1 525.0M563.4 525.3L563.9 525.0M563.4 529.4L566.9 527.5M563.4 529.4L566.9 527.5M565.0 530.7L568.4 528.8M569.6 530.8L566.1 532.7M570.0 532.8L566.5 534.7M569.6 534.4L566.1 536.3M563.4 536.6L563.9 536.3M563.4 542.8L566.9 540.9M531.5 512.2L532.0 511.9M533.1 512.5L533.5 512.3M531.5 500.9L532.0 500.6M533.1 501.2L533.3 501.1M531.5 489.6L532.0 489.3M533.1 489.9L533.3 489.8M531.5 478.3L532.0 478.0M533.1 478.6L533.3 478.5M531.5 467.0L533.6 465.8M533.1 467.3L535.2 466.2M533.1 466.9L535.2 465.8M563.4 475.9L563.4 482.4M563.4 475.9L563.6 475.7M569.5 485.5L569.5 486.7L570.7 486.1M566.5 485.1L569.5 486.7M563.4 475.9L569.5 479.2M530.1 457.3L530.1 464.8M530.1 457.3L530.3 457.2M536.1 460.7L536.1 467.2M536.1 460.7L536.4 460.6M530.1 464.8L533.0 466.5M530.1 457.3L536.1 460.7M512.3 486.0L512.3 495.0M512.3 486.0L514.5 484.8M521.8 491.3L521.8 500.3L524.0 499.1L524.0 490.1M521.8 491.3L524.0 490.1M512.3 495.0L521.8 500.3M512.3 486.0L521.8 491.3M514.5 484.8L524.0 490.1M512.3 537.1L512.3 546.1M512.3 537.1L514.5 535.9M521.8 542.4L521.8 551.4L524.0 550.2L524.0 541.2M521.8 542.4L524.0 541.2M512.3 546.1L521.8 551.4M512.3 537.1L521.8 542.4M514.5 535.9L524.0 541.2M557.3 601.0L557.3 610.0M557.3 601.0L559.5 599.8M567.7 606.8L567.7 615.8L569.2 615.0M569.9 612.6L569.9 605.6M567.7 606.8L569.9 605.6M557.3 610.0L567.7 615.8M557.3 601.0L567.7 606.8M559.5 599.8L569.9 605.6M526.4 454.5L526.4 460.5M526.4 454.5L528.3 453.4M569.7 478.6L569.7 478.8M571.6 477.8L571.6 477.5M569.7 478.6L571.6 477.5M526.4 460.5L569.1 484.2M526.4 454.5L569.7 478.6M528.3 453.4L571.6 477.5M526.4 593.5L526.4 595.0M526.4 593.5L528.3 592.4M526.4 595.0L569.1 618.7M526.4 593.5L569.1 617.2M528.3 592.4L557.4 608.6M568.6 614.8L569.2 615.2M511.9 507.2L511.9 526.7M511.9 507.2L516.5 504.7M514.5 508.7L514.5 528.2L516.7 526.9M514.5 508.7L516.7 507.4M511.9 526.7L514.5 528.2M511.9 507.2L514.5 508.7M511.4 512.5L511.4 522.0M511.4 512.5L512.2 512.1M521.8 518.2L521.8 527.7L524.0 526.5L524.0 517.0M521.8 518.2L524.0 517.0M511.4 522.0L521.8 527.7M511.4 512.5L521.8 518.2M515.8 512.5L524.0 517.0M617.0 447.0L616.3 447.3M617.0 447.0L617.8 447.1L618.6 447.4L619.5 448.1L620.3 448.9L621.0 449.9L621.5 450.9L621.8 452.0M621.9 452.8L621.8 452.0M616.3 447.3L613.3 449.0M630.1 493.1L629.8 493.9M630.1 493.1L629.8 492.1M579.0 426.9L578.7 427.6M576.6 424.7L577.3 424.5L578.1 425.0L578.7 425.9M579.0 426.9L578.7 425.9M577.0 428.6L578.7 427.6M576.6 424.7L574.0 426.2M630.5 498.8L630.5 508.8L632.7 507.6L632.7 497.6M630.5 498.8L632.7 497.6M629.6 508.3L630.5 508.8M629.6 498.3L630.5 498.8M629.8 496.0L632.7 497.6M630.5 549.9L630.5 559.9L632.7 558.7L632.7 548.7M630.5 549.9L632.7 548.7M629.6 559.4L630.5 559.9M629.6 549.4L630.5 549.9M629.8 547.1L632.7 548.7M573.4 428.4L573.4 428.9M573.4 428.4L575.3 427.3M616.7 452.5L616.7 453.0M618.6 451.9L618.6 451.4M616.7 452.5L618.6 451.4M573.4 428.4L616.7 452.5M575.3 427.3L618.6 451.4M581.9 490.1L581.8 490.8L581.4 491.2L580.9 491.3L580.3 491.1L579.7 490.6L579.1 489.9L578.8 489.1L578.6 488.3L578.8 487.6L579.1 487.2L579.7 487.1L580.3 487.3L580.9 487.8L581.4 488.5L581.8 489.3L581.9 490.1M621.3 468.2L621.2 468.9L620.8 469.3L620.3 469.4L619.7 469.2L619.1 468.7L618.5 468.0L618.2 467.2L618.0 466.4L618.2 465.7L618.5 465.3L619.1 465.2L619.7 465.4L620.3 465.9L620.8 466.6L621.2 467.4L621.3 468.2M516.1 453.5L516.0 454.2L515.6 454.6L515.1 454.7L514.5 454.5L513.8 454.0L513.3 453.3L512.9 452.5L512.8 451.7L512.9 451.1L513.3 450.6L513.8 450.5L514.5 450.7L515.1 451.2L515.6 451.9L516.0 452.7L516.1 453.5M555.5 431.6L555.4 432.3L555.0 432.7L554.5 432.8L553.9 432.6L553.2 432.1L552.7 431.4L552.3 430.6L552.2 429.8L552.3 429.1L552.7 428.7L553.2 428.6L553.9 428.8L554.5 429.3L555.0 430.0L555.4 430.8L555.5 431.6M588.1 507.3L589.1 506.5L589.8 505.4L590.3 504.1L590.3 502.9L589.8 502.1L589.1 501.9L588.1 502.1L587.1 502.9L586.3 504.1L585.9 505.4L585.9 506.5L586.3 507.3L587.1 507.6L588.1 507.3M629.6 484.2L630.6 483.4L631.4 482.3L631.8 481.0L631.8 479.8L631.4 479.0L630.6 478.7L629.6 479.0L628.7 479.8L627.9 481.0L627.4 482.3L627.4 483.4L627.9 484.2L628.7 484.5L629.6 484.2M581.9 622.6L581.8 623.3L581.4 623.7L580.9 623.8L580.3 623.6L579.7 623.1L579.1 622.4L578.8 621.6L578.6 620.8L578.8 620.1L579.1 619.7L579.7 619.6L580.3 619.8L580.9 620.3L581.4 621.0L581.8 621.8L581.9 622.6M621.3 600.7L621.2 601.4L620.8 601.8L620.3 601.9L619.7 601.7L619.1 601.2L618.5 600.5L618.2 599.7L618.0 598.9L618.2 598.2L618.5 597.8L619.1 597.7L619.7 597.9L620.3 598.4L620.8 599.1L621.2 599.9L621.3 600.7M588.1 605.3L589.1 604.5L589.8 603.4L590.3 602.1L590.3 600.9L589.8 600.1L589.1 599.9L588.1 600.1L587.1 600.9L586.3 602.1L585.9 603.4L585.9 604.5L586.3 605.3L587.1 605.6L588.1 605.3M629.6 582.2L630.6 581.4L631.4 580.3L631.8 579.0L631.8 577.8L631.4 577.0L630.6 576.7L629.6 577.0L628.7 577.8L627.9 579.0L627.4 580.3L627.4 581.4L627.9 582.2L628.7 582.5L629.6 582.2M577.2 477.3L577.7 477.7L577.8 478.2L577.7 478.7L577.2 479.2L576.4 479.4L575.5 479.5L574.6 479.4L573.9 479.2L573.4 478.7L573.2 478.2L573.4 477.7L573.9 477.3L574.6 477.0L575.5 476.9L576.4 477.0L577.2 477.3M528.7 450.4L529.2 450.8L529.3 451.3L529.2 451.8L528.7 452.2L527.9 452.5L527.0 452.6L526.1 452.5L525.4 452.2L524.9 451.8L524.7 451.3L524.9 450.8L525.4 450.4L526.1 450.1L527.0 450.0L527.9 450.1L528.7 450.4M619.6 453.7L620.1 454.1L620.3 454.6L620.1 455.1L619.6 455.6L618.8 455.8L618.0 455.9L617.1 455.8L616.3 455.6L615.8 455.1L615.6 454.6L615.8 454.1L616.3 453.7L617.1 453.4L618.0 453.4L618.8 453.4L619.6 453.7M571.1 426.8L571.6 427.2L571.8 427.7L571.6 428.2L571.1 428.6L570.3 428.9L569.5 429.0L568.6 428.9L567.8 428.6L567.3 428.2L567.1 427.7L567.3 427.2L567.8 426.8L568.6 426.5L569.5 426.4L570.3 426.5L571.1 426.8M521.2 458.5L521.0 458.6L520.2 459.3L519.6 460.2L519.4 461.3L519.6 462.0L520.2 462.4L521.0 462.2M521.0 468.6L520.2 469.3L519.6 470.2L519.4 471.3L519.6 472.0L520.2 472.4L521.0 472.2M620.5 575.2L621.3 574.6L622.0 573.7L622.6 572.8L622.9 571.7L623.1 570.7L623.1 500.9L622.9 500.1L622.6 499.4L622.0 499.1L621.3 499.1L620.5 499.4L595.5 513.2L594.7 513.8L594.0 514.7L593.4 515.6L593.1 516.7L592.9 517.7L592.9 587.5L593.1 588.3L593.4 589.0L594.0 589.3L594.7 589.3L595.5 589.0L620.5 575.2M608.0 564.7L609.3 563.7L610.4 562.2L611.2 560.5L611.5 558.8L611.2 557.4L610.4 556.5L609.3 556.3L608.0 556.7L606.7 557.7L605.5 559.2L604.8 560.9L604.5 562.6L604.8 564.0L605.5 564.9L606.7 565.1L608.0 564.7M581.4 529.0L581.3 529.8L580.8 530.3L580.2 530.4L579.4 530.2L578.7 529.6L578.0 528.7L577.6 527.7L577.4 526.7L577.6 526.0L578.0 525.4L578.7 525.3L579.4 525.6L580.2 526.2L580.8 527.0L581.3 528.0L581.4 529.0M581.4 580.1L581.3 580.9L580.8 581.4L580.2 581.5L579.4 581.3L578.7 580.7L578.0 579.8L577.6 578.8L577.4 577.8L577.6 577.1L578.0 576.5L578.7 576.4L579.4 576.7L580.2 577.3L580.8 578.1L581.3 579.1L581.4 580.1M552.0 572.0L551.9 574.1L551.4 576.0L550.6 577.5L549.5 578.7L548.2 579.5L546.6 579.9L544.9 579.9L543.0 579.4M530.6 557.0L530.9 555.9L531.7 554.4L532.8 553.2L534.1 552.4L535.7 552.0L537.4 552.0L539.2 552.5L541.1 553.3L543.0 554.6L544.9 556.2L546.6 558.1L548.2 560.2L549.5 562.5L550.6 564.9L551.4 567.3L551.9 569.7L552.0 572.0M519.1 587.5L518.9 589.2L518.4 590.8L517.7 592.0L516.6 592.9L515.4 593.4L513.9 593.5L512.4 593.2L510.7 592.4L509.1 591.4L507.6 589.9L506.1 588.3L504.9 586.4L503.8 584.3L503.1 582.2L502.6 580.2L502.4 578.2L502.6 576.4L503.1 574.9L503.8 573.7L504.9 572.8L506.1 572.3L507.6 572.2L509.1 572.5L510.7 573.2L512.4 574.3L513.9 575.7L515.4 577.4L516.6 579.3L517.7 581.4L518.4 583.4L518.9 585.5L519.1 587.5M513.3 584.3L513.1 585.4L512.4 586.1L511.3 586.1L510.2 585.4L509.1 584.3L508.4 582.8L508.1 581.4L508.4 580.2L509.1 579.6L510.2 579.6L511.3 580.2L512.4 581.4L513.1 582.8L513.3 584.3M512.1 583.6L511.9 584.4L511.2 584.6L510.3 584.1L509.6 583.2L509.4 582.1L509.6 581.3L510.3 581.1L511.2 581.6L511.9 582.5L512.1 583.6M523.4 587.5L547.3 574.2M523.0 589.3L546.9 576.0M541.7 584.9L541.7 599.4L557.3 608.1M560.4 601.0L560.4 595.3L554.2 591.8M552.5 590.9L552.3 590.8M551.4 590.3L550.5 589.8M549.2 589.0L548.8 588.8M543.9 586.1L543.3 585.8M542.4 585.3L541.7 584.9M542.2 589.1L559.9 599.0M542.2 592.6L557.5 601.2M542.2 596.1L557.3 604.6M534.8 471.4L534.8 523.4L561.7 538.3L561.7 486.3L534.8 471.4M571.6 487.8L571.6 561.0M571.6 584.0L571.6 590.5M573.4 505.5L573.4 591.5M573.4 532.5L582.0 537.3M573.4 539.5L582.0 544.3M573.4 549.5L582.0 554.3M573.4 556.5L582.0 561.3M582.0 537.3L582.0 572.3M528.3 461.4L528.3 519.4M567.9 482.1L567.8 482.7L567.5 483.0L567.0 483.1L566.4 483.0L565.9 482.5L565.4 481.9L565.1 481.1L565.0 480.4L565.1 479.8L565.4 479.5L565.9 479.4L566.4 479.6L567.0 480.0L567.5 480.6L567.8 481.4L567.9 482.1M534.6 463.5L534.4 464.1L534.1 464.5L533.6 464.6L533.1 464.4L532.5 464.0L532.0 463.3L531.7 462.6L531.6 461.9L531.7 461.3L532.0 460.9L532.5 460.8L533.1 461.0L533.6 461.5L534.1 462.1L534.4 462.8L534.6 463.5M518.5 494.0L518.4 494.8L518.0 495.3L517.4 495.4L516.6 495.1L515.9 494.6L515.3 493.8L514.9 492.8L514.7 491.9L514.9 491.1L515.3 490.6L515.9 490.5L516.6 490.7L517.4 491.3L518.0 492.1L518.4 493.1L518.5 494.0M518.5 545.1L518.4 545.9L518.0 546.4L517.4 546.5L516.6 546.2L515.9 545.7L515.3 544.9L514.9 543.9L514.7 543.0L514.9 542.2L515.3 541.7L515.9 541.6L516.6 541.8L517.4 542.4L518.0 543.2L518.4 544.2L518.5 545.1M564.4 609.4L564.3 610.2L563.9 610.7L563.3 610.8L562.5 610.6L561.8 610.0L561.2 609.2L560.8 608.2L560.6 607.3L560.8 606.5L561.2 606.1L561.8 605.9L562.5 606.2L563.3 606.7L563.9 607.6L564.3 608.5L564.4 609.4M511.9 508.5L512.7 508.0M519.1 521.4L518.9 522.2L518.5 522.7L517.8 522.8L517.1 522.6L516.3 522.0L515.7 521.1L515.2 520.1L515.1 519.2L515.2 518.4L515.7 517.9L516.3 517.7L517.1 518.0L517.8 518.6L518.5 519.4L518.9 520.4L519.1 521.4"/>
<path stroke-width="1.15" d="M542.4 585.8L542.4 599.3M544.0 586.7L544.0 600.2M545.6 587.5L545.6 601.0M547.1 588.4L547.1 601.9M548.7 589.3L548.7 602.8M550.2 590.1L550.2 603.6M551.8 591.0L551.8 604.5M553.3 591.9L553.3 605.4M554.9 592.7L554.9 606.2M556.5 593.6L556.5 607.1M558.0 594.5L558.0 601.0M559.6 595.3L559.6 600.6"/>
<path stroke-width="1.3" d="M568.6 506.8L568.6 508.3M568.6 512.1L568.6 519.5M568.6 523.3L568.6 526.8M569.6 507.4L569.6 527.4M570.6 507.9L570.6 527.9M571.6 508.5L571.6 528.5M572.6 509.0L572.6 529.0"/>
<path fill="#111" stroke="none" d="M608.0 563.1L609.0 562.2L609.8 560.9L610.1 559.5L609.8 558.5L609.0 558.0L608.0 558.3L607.0 559.2L606.2 560.5L605.9 561.9L606.2 562.9L607.0 563.4Z"/>
<path fill="#111" stroke="none" d="M589.2 514.2a1.8 1.8 0 1 0 3.5 0a1.8 1.8 0 1 0 -3.5 0ZM623.3 495.2a1.8 1.8 0 1 0 3.5 0a1.8 1.8 0 1 0 -3.5 0ZM589.2 522.1a1.8 1.8 0 1 0 3.5 0a1.8 1.8 0 1 0 -3.5 0ZM623.3 503.1a1.8 1.8 0 1 0 3.5 0a1.8 1.8 0 1 0 -3.5 0ZM589.2 530.0a1.8 1.8 0 1 0 3.5 0a1.8 1.8 0 1 0 -3.5 0ZM623.3 511.0a1.8 1.8 0 1 0 3.5 0a1.8 1.8 0 1 0 -3.5 0ZM589.2 537.9a1.8 1.8 0 1 0 3.5 0a1.8 1.8 0 1 0 -3.5 0ZM623.3 518.9a1.8 1.8 0 1 0 3.5 0a1.8 1.8 0 1 0 -3.5 0ZM589.2 545.8a1.8 1.8 0 1 0 3.5 0a1.8 1.8 0 1 0 -3.5 0ZM623.3 526.8a1.8 1.8 0 1 0 3.5 0a1.8 1.8 0 1 0 -3.5 0ZM589.2 553.7a1.8 1.8 0 1 0 3.5 0a1.8 1.8 0 1 0 -3.5 0ZM623.3 534.7a1.8 1.8 0 1 0 3.5 0a1.8 1.8 0 1 0 -3.5 0ZM589.2 561.6a1.8 1.8 0 1 0 3.5 0a1.8 1.8 0 1 0 -3.5 0ZM623.3 542.6a1.8 1.8 0 1 0 3.5 0a1.8 1.8 0 1 0 -3.5 0ZM589.2 569.5a1.8 1.8 0 1 0 3.5 0a1.8 1.8 0 1 0 -3.5 0ZM623.3 550.5a1.8 1.8 0 1 0 3.5 0a1.8 1.8 0 1 0 -3.5 0ZM589.2 577.4a1.8 1.8 0 1 0 3.5 0a1.8 1.8 0 1 0 -3.5 0ZM623.3 558.4a1.8 1.8 0 1 0 3.5 0a1.8 1.8 0 1 0 -3.5 0ZM589.2 585.3a1.8 1.8 0 1 0 3.5 0a1.8 1.8 0 1 0 -3.5 0ZM623.3 566.3a1.8 1.8 0 1 0 3.5 0a1.8 1.8 0 1 0 -3.5 0ZM589.2 593.2a1.8 1.8 0 1 0 3.5 0a1.8 1.8 0 1 0 -3.5 0ZM623.3 574.2a1.8 1.8 0 1 0 3.5 0a1.8 1.8 0 1 0 -3.5 0ZM597.7 508.7a1.8 1.8 0 1 0 3.5 0a1.8 1.8 0 1 0 -3.5 0ZM597.7 589.1a1.8 1.8 0 1 0 3.5 0a1.8 1.8 0 1 0 -3.5 0ZM606.2 504.0a1.8 1.8 0 1 0 3.5 0a1.8 1.8 0 1 0 -3.5 0ZM606.2 584.4a1.8 1.8 0 1 0 3.5 0a1.8 1.8 0 1 0 -3.5 0ZM614.8 499.3a1.8 1.8 0 1 0 3.5 0a1.8 1.8 0 1 0 -3.5 0ZM614.8 579.7a1.8 1.8 0 1 0 3.5 0a1.8 1.8 0 1 0 -3.5 0ZM551.4 587.8a1.5 1.5 0 1 0 3.0 0a1.5 1.5 0 1 0 -3.0 0ZM561.8 581.5a1.5 1.5 0 1 0 3.0 0a1.5 1.5 0 1 0 -3.0 0ZM561.8 564.4a1.5 1.5 0 1 0 3.0 0a1.5 1.5 0 1 0 -3.0 0ZM551.4 546.6a1.5 1.5 0 1 0 3.0 0a1.5 1.5 0 1 0 -3.0 0ZM536.6 538.3a1.5 1.5 0 1 0 3.0 0a1.5 1.5 0 1 0 -3.0 0ZM526.1 544.6a1.5 1.5 0 1 0 3.0 0a1.5 1.5 0 1 0 -3.0 0ZM562.5 488.2a1.6 1.6 0 1 0 3.2 0a1.6 1.6 0 1 0 -3.2 0ZM530.8 470.6a1.6 1.6 0 1 0 3.2 0a1.6 1.6 0 1 0 -3.2 0ZM562.5 499.5a1.6 1.6 0 1 0 3.2 0a1.6 1.6 0 1 0 -3.2 0ZM530.8 481.9a1.6 1.6 0 1 0 3.2 0a1.6 1.6 0 1 0 -3.2 0ZM562.5 510.8a1.6 1.6 0 1 0 3.2 0a1.6 1.6 0 1 0 -3.2 0ZM530.8 493.2a1.6 1.6 0 1 0 3.2 0a1.6 1.6 0 1 0 -3.2 0ZM562.5 522.1a1.6 1.6 0 1 0 3.2 0a1.6 1.6 0 1 0 -3.2 0ZM530.8 504.5a1.6 1.6 0 1 0 3.2 0a1.6 1.6 0 1 0 -3.2 0ZM562.5 533.4a1.6 1.6 0 1 0 3.2 0a1.6 1.6 0 1 0 -3.2 0ZM530.8 515.8a1.6 1.6 0 1 0 3.2 0a1.6 1.6 0 1 0 -3.2 0ZM539.5 473.1a1.4 1.4 0 1 0 2.8 0a1.4 1.4 0 1 0 -2.8 0ZM539.5 528.5a1.4 1.4 0 1 0 2.8 0a1.4 1.4 0 1 0 -2.8 0ZM554.2 481.3a1.4 1.4 0 1 0 2.8 0a1.4 1.4 0 1 0 -2.8 0ZM554.2 536.7a1.4 1.4 0 1 0 2.8 0a1.4 1.4 0 1 0 -2.8 0ZM552.5 503.1a1.5 1.5 0 1 0 3.0 0a1.5 1.5 0 1 0 -3.0 0ZM534.2 492.9a1.5 1.5 0 1 0 3.0 0a1.5 1.5 0 1 0 -3.0 0Z"/>
</g>
</svg>
</body></html>
